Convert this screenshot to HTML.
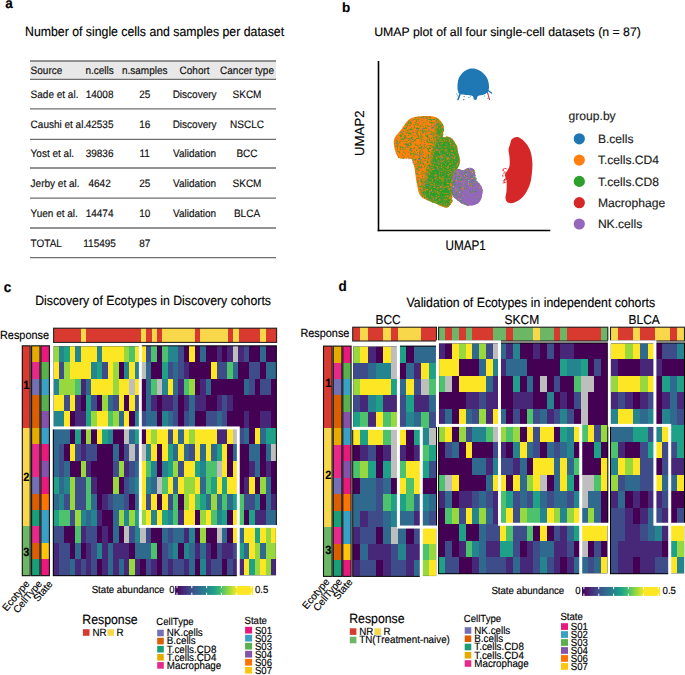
<!DOCTYPE html>
<html><head><meta charset="utf-8"><style>
html,body{margin:0;padding:0;background:#fff;}
body{width:685px;height:675px;overflow:hidden;}
svg{display:block;font-family:"Liberation Sans", sans-serif;text-rendering:geometricPrecision;}
text{stroke:currentColor;stroke-width:0.15px;paint-order:stroke;}
</style></head><body>
<svg width="685" height="675" viewBox="0 0 685 675">
<rect width="685" height="675" fill="#fff"/>
<text x="5.30" y="8.30" font-size="13.5" text-anchor="start" font-weight="bold" fill="#000" transform="matrix(1,0,0,1.08,0,-0.664)" >a</text>
<text x="25.00" y="35.90" font-size="12.3" text-anchor="start" font-weight="normal" fill="#000" transform="matrix(1,0,0,1.08,0,-2.872)" >Number of single cells and samples per dataset</text>
<rect x="30.00" y="61.20" width="246.00" height="17.80" fill="#E8E8E8" />
<line x1="30.0" y1="60.9" x2="276.0" y2="60.9" stroke="#6f6f6f" stroke-width="1.5"/>
<line x1="30.0" y1="79.3" x2="276.0" y2="79.3" stroke="#6f6f6f" stroke-width="1.3"/>
<line x1="30.0" y1="108.9" x2="276.0" y2="108.9" stroke="#6f6f6f" stroke-width="1.3"/>
<line x1="30.0" y1="139.4" x2="276.0" y2="139.4" stroke="#6f6f6f" stroke-width="1.3"/>
<line x1="30.0" y1="168.0" x2="276.0" y2="168.0" stroke="#6f6f6f" stroke-width="1.3"/>
<line x1="30.0" y1="198.2" x2="276.0" y2="198.2" stroke="#6f6f6f" stroke-width="1.3"/>
<line x1="30.0" y1="228.0" x2="276.0" y2="228.0" stroke="#6f6f6f" stroke-width="1.3"/>
<line x1="30.0" y1="257.7" x2="276.0" y2="257.7" stroke="#6f6f6f" stroke-width="1.3"/>
<text x="30.60" y="73.80" font-size="10.0" text-anchor="start" font-weight="normal" fill="#111" transform="matrix(1,0,0,1.08,0,-5.904)" >Source</text>
<text x="99.60" y="73.80" font-size="10.0" text-anchor="middle" font-weight="normal" fill="#111" transform="matrix(1,0,0,1.08,0,-5.904)" >n.cells</text>
<text x="144.70" y="73.80" font-size="10.0" text-anchor="middle" font-weight="normal" fill="#111" transform="matrix(1,0,0,1.08,0,-5.904)" >n.samples</text>
<text x="194.60" y="73.80" font-size="10.0" text-anchor="middle" font-weight="normal" fill="#111" transform="matrix(1,0,0,1.08,0,-5.904)" >Cohort</text>
<text x="247.00" y="73.80" font-size="10.0" text-anchor="middle" font-weight="normal" fill="#111" transform="matrix(1,0,0,1.08,0,-5.904)" >Cancer type</text>
<text x="30.60" y="97.60" font-size="10.0" text-anchor="start" font-weight="normal" fill="#111" transform="matrix(1,0,0,1.08,0,-7.808)" >Sade et al.</text>
<text x="99.60" y="97.60" font-size="10.0" text-anchor="middle" font-weight="normal" fill="#111" transform="matrix(1,0,0,1.08,0,-7.808)" >14008</text>
<text x="144.70" y="97.60" font-size="10.0" text-anchor="middle" font-weight="normal" fill="#111" transform="matrix(1,0,0,1.08,0,-7.808)" >25</text>
<text x="194.60" y="97.60" font-size="10.0" text-anchor="middle" font-weight="normal" fill="#111" transform="matrix(1,0,0,1.08,0,-7.808)" >Discovery</text>
<text x="247.00" y="97.60" font-size="10.0" text-anchor="middle" font-weight="normal" fill="#111" transform="matrix(1,0,0,1.08,0,-7.808)" >SKCM</text>
<text x="30.60" y="127.60" font-size="10.0" text-anchor="start" font-weight="normal" fill="#111" transform="matrix(1,0,0,1.08,0,-10.208)" >Caushi et al.</text>
<text x="99.60" y="127.60" font-size="10.0" text-anchor="middle" font-weight="normal" fill="#111" transform="matrix(1,0,0,1.08,0,-10.208)" >42535</text>
<text x="144.70" y="127.60" font-size="10.0" text-anchor="middle" font-weight="normal" fill="#111" transform="matrix(1,0,0,1.08,0,-10.208)" >16</text>
<text x="194.60" y="127.60" font-size="10.0" text-anchor="middle" font-weight="normal" fill="#111" transform="matrix(1,0,0,1.08,0,-10.208)" >Discovery</text>
<text x="247.00" y="127.60" font-size="10.0" text-anchor="middle" font-weight="normal" fill="#111" transform="matrix(1,0,0,1.08,0,-10.208)" >NSCLC</text>
<text x="30.60" y="156.80" font-size="10.0" text-anchor="start" font-weight="normal" fill="#111" transform="matrix(1,0,0,1.08,0,-12.544)" >Yost et al.</text>
<text x="99.60" y="156.80" font-size="10.0" text-anchor="middle" font-weight="normal" fill="#111" transform="matrix(1,0,0,1.08,0,-12.544)" >39836</text>
<text x="144.70" y="156.80" font-size="10.0" text-anchor="middle" font-weight="normal" fill="#111" transform="matrix(1,0,0,1.08,0,-12.544)" >11</text>
<text x="194.60" y="156.80" font-size="10.0" text-anchor="middle" font-weight="normal" fill="#111" transform="matrix(1,0,0,1.08,0,-12.544)" >Validation</text>
<text x="247.00" y="156.80" font-size="10.0" text-anchor="middle" font-weight="normal" fill="#111" transform="matrix(1,0,0,1.08,0,-12.544)" >BCC</text>
<text x="30.60" y="186.50" font-size="10.0" text-anchor="start" font-weight="normal" fill="#111" transform="matrix(1,0,0,1.08,0,-14.920)" >Jerby et al.</text>
<text x="99.60" y="186.50" font-size="10.0" text-anchor="middle" font-weight="normal" fill="#111" transform="matrix(1,0,0,1.08,0,-14.920)" >4642</text>
<text x="144.70" y="186.50" font-size="10.0" text-anchor="middle" font-weight="normal" fill="#111" transform="matrix(1,0,0,1.08,0,-14.920)" >25</text>
<text x="194.60" y="186.50" font-size="10.0" text-anchor="middle" font-weight="normal" fill="#111" transform="matrix(1,0,0,1.08,0,-14.920)" >Validation</text>
<text x="247.00" y="186.50" font-size="10.0" text-anchor="middle" font-weight="normal" fill="#111" transform="matrix(1,0,0,1.08,0,-14.920)" >SKCM</text>
<text x="30.60" y="217.40" font-size="10.0" text-anchor="start" font-weight="normal" fill="#111" transform="matrix(1,0,0,1.08,0,-17.392)" >Yuen et al.</text>
<text x="99.60" y="217.40" font-size="10.0" text-anchor="middle" font-weight="normal" fill="#111" transform="matrix(1,0,0,1.08,0,-17.392)" >14474</text>
<text x="144.70" y="217.40" font-size="10.0" text-anchor="middle" font-weight="normal" fill="#111" transform="matrix(1,0,0,1.08,0,-17.392)" >10</text>
<text x="194.60" y="217.40" font-size="10.0" text-anchor="middle" font-weight="normal" fill="#111" transform="matrix(1,0,0,1.08,0,-17.392)" >Validation</text>
<text x="247.00" y="217.40" font-size="10.0" text-anchor="middle" font-weight="normal" fill="#111" transform="matrix(1,0,0,1.08,0,-17.392)" >BLCA</text>
<text x="30.60" y="247.20" font-size="10.0" text-anchor="start" font-weight="normal" fill="#111" transform="matrix(1,0,0,1.08,0,-19.776)" >TOTAL</text>
<text x="99.60" y="247.20" font-size="10.0" text-anchor="middle" font-weight="normal" fill="#111" transform="matrix(1,0,0,1.08,0,-19.776)" >115495</text>
<text x="144.70" y="247.20" font-size="10.0" text-anchor="middle" font-weight="normal" fill="#111" transform="matrix(1,0,0,1.08,0,-19.776)" >87</text>
<text x="194.60" y="247.20" font-size="10.0" text-anchor="middle" font-weight="normal" fill="#111" transform="matrix(1,0,0,1.08,0,-19.776)" ></text>
<text x="247.00" y="247.20" font-size="10.0" text-anchor="middle" font-weight="normal" fill="#111" transform="matrix(1,0,0,1.08,0,-19.776)" ></text>
<text x="341.90" y="12.00" font-size="13.5" text-anchor="start" font-weight="bold" fill="#000" >b</text>
<text x="374.20" y="36.00" font-size="12.3" text-anchor="start" font-weight="normal" fill="#000" >UMAP plot of all four single-cell datasets (n = 87)</text>
<line x1="378.5" y1="61" x2="378.5" y2="231.3" stroke="#000" stroke-width="1.6"/>
<line x1="377.7" y1="230.5" x2="550.3" y2="230.5" stroke="#000" stroke-width="1.6"/>
<text x="445.60" y="249.60" font-size="11.7" text-anchor="start" font-weight="normal" fill="#000" transform="matrix(1,0,0,1.17,0,-42.432)" >UMAP1</text>
<text x="363.9" y="133.2" font-size="13.2" text-anchor="middle" transform="rotate(-90 363.9 133.2)">UMAP2</text>
<text x="568.60" y="119.80" font-size="12.1" text-anchor="start" font-weight="normal" fill="#222" >group.by</text>
<circle cx="579.3" cy="138.8" r="5.6" fill="#1F77B4"/>
<text x="597.90" y="143.10" font-size="12.1" text-anchor="start" font-weight="normal" fill="#222" >B.cells</text>
<circle cx="579.3" cy="160.1" r="5.6" fill="#FF7F0E"/>
<text x="597.90" y="164.40" font-size="12.1" text-anchor="start" font-weight="normal" fill="#222" >T.cells.CD4</text>
<circle cx="579.3" cy="181.4" r="5.6" fill="#2CA02C"/>
<text x="597.90" y="185.70" font-size="12.1" text-anchor="start" font-weight="normal" fill="#222" >T.cells.CD8</text>
<circle cx="579.3" cy="202.7" r="5.6" fill="#D62728"/>
<text x="597.90" y="207.00" font-size="12.1" text-anchor="start" font-weight="normal" fill="#222" >Macrophage</text>
<circle cx="579.3" cy="224.0" r="5.6" fill="#9467BD"/>
<text x="597.90" y="228.30" font-size="12.1" text-anchor="start" font-weight="normal" fill="#222" >NK.cells</text>
<path d="M457.5,86.0 C457.6,84.0 457.8,81.1 458.5,79.0 C459.2,76.9 460.6,75.0 462.0,73.5 C463.4,72.0 465.3,70.6 467.0,69.8 C468.7,69.0 470.2,68.5 472.0,68.5 C473.8,68.5 476.1,69.0 478.0,69.8 C479.9,70.6 481.9,72.0 483.5,73.5 C485.1,75.0 486.6,76.9 487.5,79.0 C488.4,81.1 488.9,83.9 489.0,86.0 C489.1,88.1 488.8,90.1 488.0,91.5 C487.2,92.9 485.7,93.8 484.0,94.5 C482.3,95.2 479.2,95.2 478.0,96.0 C476.8,96.8 477.2,98.9 476.5,99.5 C475.8,100.1 474.7,100.1 474.0,99.5 C473.3,98.9 473.8,96.8 472.5,96.0 C471.2,95.2 468.0,95.3 466.0,95.0 C464.0,94.7 461.8,94.7 460.5,94.0 C459.2,93.3 458.5,92.3 458.0,91.0 C457.5,89.7 457.4,88.0 457.5,86.0 Z" fill="#1F77B4" />
<path d="M460.5,93 L458,99.5" stroke="#1F77B4" stroke-width="1.6" stroke-linecap="round"/>
<path d="M486,89 L491.5,93" stroke="#1F77B4" stroke-width="1.4" stroke-linecap="round"/>
<path d="M487.5,92.5 L489.5,99.5" stroke="#D62728" stroke-width="1.0" stroke-linecap="round"/>
<path d="M517.5,137.1 C515.4,136.7 513.0,138.0 511.8,139.2 C510.6,140.4 510.6,142.7 510.0,144.5 C509.4,146.3 508.6,147.9 508.5,150.0 C508.4,152.1 509.3,154.3 509.5,157.0 C509.7,159.7 509.9,163.7 509.5,166.0 C509.1,168.3 507.8,169.5 507.0,171.0 C506.2,172.5 505.1,173.5 505.0,175.0 C504.9,176.5 506.2,177.3 506.5,180.0 C506.8,182.7 506.7,187.9 506.5,191.0 C506.3,194.1 505.2,196.5 505.5,198.5 C505.8,200.5 506.9,202.2 508.5,202.8 C510.1,203.4 512.5,203.4 515.0,202.3 C517.5,201.2 521.0,199.1 523.4,196.3 C525.8,193.5 528.0,189.2 529.4,185.7 C530.8,182.1 531.2,178.9 531.7,175.0 C532.2,171.1 532.6,166.2 532.3,162.0 C532.0,157.8 531.3,153.5 530.0,150.1 C528.7,146.7 526.7,144.0 524.6,141.8 C522.5,139.6 519.6,137.5 517.5,137.1 Z" fill="#D62728" />
<path d="M452.0,172.0 C453.1,170.2 456.2,169.3 458.0,169.0 C459.8,168.7 461.3,170.2 463.0,170.0 C464.7,169.8 466.3,168.2 468.0,168.0 C469.7,167.8 471.8,167.7 473.0,168.5 C474.2,169.3 474.5,171.1 475.0,173.0 C475.5,174.9 475.2,178.1 476.0,180.0 C476.8,181.9 478.9,182.8 480.0,184.5 C481.1,186.2 482.3,187.8 482.5,190.0 C482.7,192.2 482.2,195.7 481.0,198.0 C479.8,200.3 477.7,202.8 475.5,204.0 C473.3,205.2 470.4,205.7 468.0,205.5 C465.6,205.3 463.0,204.1 461.0,203.0 C459.0,201.9 457.4,200.2 456.0,199.0 C454.6,197.8 453.3,197.5 452.5,196.0 C451.7,194.5 451.2,192.7 451.0,190.0 C450.8,187.3 451.3,183.0 451.5,180.0 C451.7,177.0 450.9,173.8 452.0,172.0 Z" fill="#9467BD" />
<path d="M401.3,129.4 C403.5,126.6 405.5,122.6 407.8,120.5 C410.1,118.4 412.0,117.7 415.0,117.0 C418.0,116.3 422.7,116.2 425.7,116.1 C428.7,116.0 430.8,116.0 433.0,116.5 C435.2,117.0 437.0,117.3 438.8,118.9 C440.6,120.5 443.0,123.2 443.7,126.2 C444.4,129.2 442.3,135.1 442.9,136.8 C443.4,138.5 445.5,136.2 447.0,136.5 C448.5,136.8 450.2,136.9 451.8,138.4 C453.4,139.9 455.7,143.4 456.7,145.7 C457.7,148.0 457.4,149.3 458.0,152.0 C458.6,154.7 460.5,158.4 460.0,162.0 C459.5,165.6 456.3,170.4 455.0,173.4 C453.7,176.4 452.5,177.3 452.0,180.0 C451.5,182.7 451.8,186.7 451.8,189.7 C451.8,192.7 452.0,195.8 452.0,198.0 C452.0,200.2 452.7,201.2 451.8,202.8 C450.9,204.4 448.9,207.2 446.9,207.7 C444.9,208.1 442.2,206.3 440.0,205.5 C437.8,204.7 437.1,204.3 433.9,202.8 C430.7,201.3 423.8,199.6 420.9,196.3 C418.0,193.0 417.9,188.1 416.8,183.2 C415.7,178.3 415.2,171.0 414.3,166.9 C413.4,162.8 412.8,160.2 411.1,158.8 C409.4,157.4 406.2,158.8 404.0,158.5 C401.8,158.2 399.7,159.3 398.0,157.2 C396.3,155.1 394.5,149.0 394.0,145.7 C393.5,142.4 393.6,140.3 394.8,137.6 C396.0,134.9 399.1,132.2 401.3,129.4 Z" fill="#FF7F0E" />
<clipPath id="tclip"><path d="M401.3,129.4 C403.5,126.6 405.5,122.6 407.8,120.5 C410.1,118.4 412.0,117.7 415.0,117.0 C418.0,116.3 422.7,116.2 425.7,116.1 C428.7,116.0 430.8,116.0 433.0,116.5 C435.2,117.0 437.0,117.3 438.8,118.9 C440.6,120.5 443.0,123.2 443.7,126.2 C444.4,129.2 442.3,135.1 442.9,136.8 C443.4,138.5 445.5,136.2 447.0,136.5 C448.5,136.8 450.2,136.9 451.8,138.4 C453.4,139.9 455.7,143.4 456.7,145.7 C457.7,148.0 457.4,149.3 458.0,152.0 C458.6,154.7 460.5,158.4 460.0,162.0 C459.5,165.6 456.3,170.4 455.0,173.4 C453.7,176.4 452.5,177.3 452.0,180.0 C451.5,182.7 451.8,186.7 451.8,189.7 C451.8,192.7 452.0,195.8 452.0,198.0 C452.0,200.2 452.7,201.2 451.8,202.8 C450.9,204.4 448.9,207.2 446.9,207.7 C444.9,208.1 442.2,206.3 440.0,205.5 C437.8,204.7 437.1,204.3 433.9,202.8 C430.7,201.3 423.8,199.6 420.9,196.3 C418.0,193.0 417.9,188.1 416.8,183.2 C415.7,178.3 415.2,171.0 414.3,166.9 C413.4,162.8 412.8,160.2 411.1,158.8 C409.4,157.4 406.2,158.8 404.0,158.5 C401.8,158.2 399.7,159.3 398.0,157.2 C396.3,155.1 394.5,149.0 394.0,145.7 C393.5,142.4 393.6,140.3 394.8,137.6 C396.0,134.9 399.1,132.2 401.3,129.4 Z"/></clipPath>
<filter id="gblur" x="-20%" y="-20%" width="140%" height="140%"><feGaussianBlur stdDeviation="2.2"/></filter>
<g clip-path="url(#tclip)">
<path d="M439.0,121.0 C440.1,120.7 443.1,123.6 443.7,126.2 C444.3,128.8 441.5,134.8 442.9,136.8 C444.2,138.8 449.5,136.9 451.8,138.4 C454.1,139.9 455.3,141.8 456.7,145.7 C458.1,149.6 460.3,157.4 460.0,162.0 C459.7,166.6 456.4,168.8 455.0,173.4 C453.6,178.0 452.3,184.8 451.8,189.7 C451.3,194.6 452.6,199.8 451.8,202.8 C451.0,205.8 449.9,207.7 446.9,207.7 C443.9,207.7 437.7,204.4 433.9,202.8 C430.1,201.2 426.0,200.1 424.0,198.0 C422.0,195.9 421.7,193.3 422.0,190.0 C422.3,186.7 424.7,182.2 426.0,178.0 C427.3,173.8 428.8,169.3 430.0,165.0 C431.2,160.7 432.2,156.2 433.0,152.0 C433.8,147.8 434.3,144.0 435.0,140.0 C435.7,136.0 436.3,131.2 437.0,128.0 C437.7,124.8 437.9,121.3 439.0,121.0 Z" fill="#2CA02C" filter="url(#gblur)"/>
</g>
<path d="M482.0,195.2 C482.0,196.1 481.9,197.0 481.7,197.8 C481.4,198.7 481.1,199.5 480.6,200.3 C480.2,201.1 479.6,201.8 479.0,202.4 C478.4,203.0 477.7,203.6 476.9,204.0 C476.1,204.5 475.3,204.8 474.4,205.1 C473.6,205.3 472.7,205.4 471.8,205.4 C470.9,205.4 470.0,205.3 469.2,205.1 C468.3,204.8 467.5,204.5 466.7,204.0 C465.9,203.6 465.2,203.0 464.6,202.4 C464.0,201.8 463.4,201.1 463.0,200.3 C462.5,199.5 462.2,198.7 461.9,197.8 C461.7,197.0 461.6,196.1 461.6,195.2 C461.6,194.3 461.7,193.4 461.9,192.6 C462.2,191.7 462.5,190.9 463.0,190.1 C463.4,189.3 464.0,188.6 464.6,188.0 C465.2,187.4 465.9,186.8 466.7,186.4 C467.5,185.9 468.3,185.6 469.2,185.3 C470.0,185.1 470.9,185.0 471.8,185.0 C472.7,185.0 473.6,185.1 474.4,185.3 C475.3,185.6 476.1,185.9 476.9,186.4 C477.7,186.8 478.4,187.4 479.0,188.0 C479.6,188.6 480.2,189.3 480.6,190.1 C481.1,190.9 481.4,191.7 481.7,192.6 C481.9,193.4 482.0,194.3 482.0,195.2 Z" fill="#9467BD" />
<path d="M479.7 186.5h.9v.9h-.9zM466.7 169.4h.9v.9h-.9zM460.5 177.2h.9v.9h-.9zM457.5 171.3h.9v.9h-.9zM457.0 188.3h.9v.9h-.9zM456.4 178.8h.9v.9h-.9zM473.7 181.9h.9v.9h-.9zM472.1 172.1h.9v.9h-.9zM467.9 182.0h.9v.9h-.9zM467.3 169.9h.9v.9h-.9zM456.2 189.3h.9v.9h-.9zM457.1 173.2h.9v.9h-.9zM473.6 176.5h.9v.9h-.9zM458.3 172.6h.9v.9h-.9zM467.9 184.0h.9v.9h-.9zM475.1 180.2h.9v.9h-.9zM468.5 180.3h.9v.9h-.9zM460.6 198.6h.9v.9h-.9zM463.5 182.7h.9v.9h-.9zM459.2 191.5h.9v.9h-.9zM454.7 172.1h.9v.9h-.9zM470.7 169.8h.9v.9h-.9zM452.7 186.0h.9v.9h-.9zM465.5 174.2h.9v.9h-.9zM462.7 170.5h.9v.9h-.9zM469.2 168.2h.9v.9h-.9zM462.7 186.1h.9v.9h-.9zM473.3 183.2h.9v.9h-.9zM456.5 174.8h.9v.9h-.9zM455.5 188.5h.9v.9h-.9zM455.4 187.8h.9v.9h-.9z" fill="#ffffff"/>
<path d="M415.0 129.0h.9v.9h-.9zM422.1 144.2h.9v.9h-.9zM423.8 142.9h.9v.9h-.9zM401.0 153.9h.9v.9h-.9zM433.4 168.9h.9v.9h-.9zM450.1 202.9h.9v.9h-.9zM438.2 120.6h.9v.9h-.9zM448.9 141.5h.9v.9h-.9zM423.5 166.1h.9v.9h-.9zM448.7 195.4h.9v.9h-.9zM421.2 148.4h.9v.9h-.9zM418.1 167.7h.9v.9h-.9zM439.0 120.0h.9v.9h-.9zM417.7 117.4h.9v.9h-.9zM440.3 139.3h.9v.9h-.9zM429.2 187.5h.9v.9h-.9zM412.0 139.1h.9v.9h-.9zM406.4 134.0h.9v.9h-.9zM425.6 175.7h.9v.9h-.9zM444.0 159.5h.9v.9h-.9zM442.3 130.8h.9v.9h-.9zM422.5 196.1h.9v.9h-.9zM454.9 147.9h.9v.9h-.9zM432.7 199.1h.9v.9h-.9zM415.2 163.2h.9v.9h-.9zM444.7 199.9h.9v.9h-.9zM446.3 198.4h.9v.9h-.9zM441.7 176.4h.9v.9h-.9zM420.1 160.3h.9v.9h-.9zM406.3 144.6h.9v.9h-.9zM435.4 162.6h.9v.9h-.9zM446.0 140.2h.9v.9h-.9zM448.7 139.1h.9v.9h-.9zM439.8 154.6h.9v.9h-.9zM451.7 157.2h.9v.9h-.9zM414.2 143.4h.9v.9h-.9zM442.8 166.2h.9v.9h-.9zM422.4 161.0h.9v.9h-.9zM419.7 162.1h.9v.9h-.9zM443.4 138.8h.9v.9h-.9zM452.2 177.4h.9v.9h-.9zM430.2 137.7h.9v.9h-.9zM419.5 145.3h.9v.9h-.9zM436.7 119.1h.9v.9h-.9zM428.6 161.9h.9v.9h-.9zM440.1 136.4h.9v.9h-.9zM435.6 178.3h.9v.9h-.9zM437.8 121.1h.9v.9h-.9zM459.3 160.9h.9v.9h-.9zM425.6 178.6h.9v.9h-.9zM435.0 174.8h.9v.9h-.9zM403.0 138.6h.9v.9h-.9zM440.1 177.8h.9v.9h-.9zM444.0 193.0h.9v.9h-.9zM418.3 151.5h.9v.9h-.9zM405.9 149.7h.9v.9h-.9zM430.3 181.9h.9v.9h-.9zM436.8 141.6h.9v.9h-.9zM443.3 205.8h.9v.9h-.9zM426.8 135.5h.9v.9h-.9zM435.8 195.2h.9v.9h-.9zM450.7 196.2h.9v.9h-.9zM446.2 136.6h.9v.9h-.9zM436.9 143.3h.9v.9h-.9zM440.5 125.4h.9v.9h-.9zM436.8 197.2h.9v.9h-.9zM409.0 138.0h.9v.9h-.9zM440.9 143.6h.9v.9h-.9zM426.9 177.7h.9v.9h-.9zM443.3 162.0h.9v.9h-.9zM421.4 176.9h.9v.9h-.9zM415.4 132.3h.9v.9h-.9zM438.2 150.2h.9v.9h-.9zM412.0 147.7h.9v.9h-.9zM407.1 148.2h.9v.9h-.9zM448.9 155.2h.9v.9h-.9zM425.2 149.7h.9v.9h-.9zM406.1 148.9h.9v.9h-.9zM448.2 186.3h.9v.9h-.9zM443.8 198.6h.9v.9h-.9zM435.0 139.4h.9v.9h-.9zM434.3 145.5h.9v.9h-.9zM398.4 133.3h.9v.9h-.9zM430.6 145.3h.9v.9h-.9zM426.9 181.0h.9v.9h-.9zM408.9 153.8h.9v.9h-.9zM453.1 168.8h.9v.9h-.9zM427.5 136.5h.9v.9h-.9zM432.7 201.5h.9v.9h-.9zM451.9 156.8h.9v.9h-.9zM445.9 203.0h.9v.9h-.9zM433.5 172.7h.9v.9h-.9zM437.3 133.9h.9v.9h-.9zM447.1 166.0h.9v.9h-.9zM399.9 151.8h.9v.9h-.9zM440.3 153.1h.9v.9h-.9zM417.3 153.7h.9v.9h-.9zM406.4 126.8h.9v.9h-.9zM459.3 159.9h.9v.9h-.9zM435.2 191.7h.9v.9h-.9zM420.5 193.7h.9v.9h-.9zM431.2 185.4h.9v.9h-.9zM413.8 154.1h.9v.9h-.9zM422.8 117.2h.9v.9h-.9zM426.3 136.9h.9v.9h-.9zM446.0 157.6h.9v.9h-.9zM427.7 118.8h.9v.9h-.9zM445.9 162.6h.9v.9h-.9zM427.3 150.1h.9v.9h-.9zM439.2 198.3h.9v.9h-.9zM429.1 174.2h.9v.9h-.9zM423.1 131.4h.9v.9h-.9zM438.1 144.1h.9v.9h-.9zM433.1 134.0h.9v.9h-.9zM425.3 127.5h.9v.9h-.9zM436.9 167.3h.9v.9h-.9zM402.7 133.6h.9v.9h-.9zM446.2 181.5h.9v.9h-.9zM450.4 184.3h.9v.9h-.9zM443.4 157.1h.9v.9h-.9zM410.7 137.0h.9v.9h-.9zM415.3 137.2h.9v.9h-.9zM422.7 182.4h.9v.9h-.9zM413.9 134.7h.9v.9h-.9zM448.7 197.9h.9v.9h-.9zM449.1 173.7h.9v.9h-.9zM410.5 141.3h.9v.9h-.9zM418.0 144.8h.9v.9h-.9zM440.9 165.0h.9v.9h-.9zM444.8 205.9h.9v.9h-.9zM426.4 160.7h.9v.9h-.9zM412.3 135.0h.9v.9h-.9zM426.9 125.2h.9v.9h-.9zM407.0 139.5h.9v.9h-.9zM427.1 150.3h.9v.9h-.9zM404.5 155.8h.9v.9h-.9zM406.0 143.0h.9v.9h-.9zM447.1 183.2h.9v.9h-.9zM436.0 158.1h.9v.9h-.9zM443.9 154.2h.9v.9h-.9zM436.6 157.2h.9v.9h-.9zM437.5 187.4h.9v.9h-.9zM457.0 163.3h.9v.9h-.9zM428.5 153.2h.9v.9h-.9zM411.0 135.9h.9v.9h-.9zM456.9 164.0h.9v.9h-.9zM447.5 151.5h.9v.9h-.9zM448.1 174.0h.9v.9h-.9zM431.2 136.0h.9v.9h-.9zM417.0 174.4h.9v.9h-.9zM448.5 158.5h.9v.9h-.9zM430.3 126.6h.9v.9h-.9zM442.1 141.2h.9v.9h-.9zM436.3 176.3h.9v.9h-.9zM437.6 138.3h.9v.9h-.9zM402.7 136.7h.9v.9h-.9zM416.6 129.2h.9v.9h-.9zM422.8 197.1h.9v.9h-.9zM426.9 165.2h.9v.9h-.9zM424.8 167.3h.9v.9h-.9zM450.2 149.9h.9v.9h-.9zM436.3 174.2h.9v.9h-.9zM427.7 160.1h.9v.9h-.9zM422.6 154.3h.9v.9h-.9zM437.5 188.7h.9v.9h-.9zM414.6 142.8h.9v.9h-.9zM436.2 187.9h.9v.9h-.9zM424.1 185.9h.9v.9h-.9zM446.5 167.3h.9v.9h-.9zM422.3 174.7h.9v.9h-.9zM436.8 134.7h.9v.9h-.9zM435.7 181.0h.9v.9h-.9zM437.2 191.0h.9v.9h-.9zM432.1 155.8h.9v.9h-.9zM417.7 175.0h.9v.9h-.9zM421.4 150.9h.9v.9h-.9zM410.9 154.3h.9v.9h-.9zM448.5 197.5h.9v.9h-.9zM431.9 140.5h.9v.9h-.9zM416.6 122.9h.9v.9h-.9zM444.0 201.7h.9v.9h-.9zM434.3 178.0h.9v.9h-.9zM407.0 138.7h.9v.9h-.9zM446.8 157.8h.9v.9h-.9zM447.8 186.8h.9v.9h-.9zM428.5 159.3h.9v.9h-.9zM418.4 124.9h.9v.9h-.9zM433.7 152.0h.9v.9h-.9zM438.5 151.6h.9v.9h-.9zM423.4 124.0h.9v.9h-.9zM450.3 173.4h.9v.9h-.9zM441.5 166.5h.9v.9h-.9zM452.2 139.8h.9v.9h-.9zM403.6 140.2h.9v.9h-.9zM438.4 134.6h.9v.9h-.9zM399.6 141.9h.9v.9h-.9zM449.6 164.0h.9v.9h-.9zM402.4 131.8h.9v.9h-.9zM441.4 133.3h.9v.9h-.9zM451.8 160.9h.9v.9h-.9zM411.1 132.3h.9v.9h-.9zM448.5 195.5h.9v.9h-.9zM420.6 127.7h.9v.9h-.9zM432.0 184.4h.9v.9h-.9zM449.2 202.2h.9v.9h-.9zM445.8 146.5h.9v.9h-.9zM415.8 155.5h.9v.9h-.9zM412.6 143.4h.9v.9h-.9zM458.0 162.8h.9v.9h-.9zM424.3 166.0h.9v.9h-.9zM426.4 141.5h.9v.9h-.9zM452.2 155.9h.9v.9h-.9zM419.4 155.9h.9v.9h-.9zM400.4 135.9h.9v.9h-.9zM443.2 129.4h.9v.9h-.9zM417.0 177.8h.9v.9h-.9zM445.1 169.5h.9v.9h-.9zM421.4 187.9h.9v.9h-.9zM434.3 150.3h.9v.9h-.9zM450.8 161.5h.9v.9h-.9zM432.1 169.1h.9v.9h-.9zM450.0 204.2h.9v.9h-.9zM428.2 163.1h.9v.9h-.9zM419.5 148.3h.9v.9h-.9zM439.0 163.8h.9v.9h-.9zM418.5 152.3h.9v.9h-.9zM426.1 155.9h.9v.9h-.9zM429.0 190.9h.9v.9h-.9zM449.2 162.7h.9v.9h-.9zM453.4 154.1h.9v.9h-.9zM405.8 132.0h.9v.9h-.9zM430.6 139.7h.9v.9h-.9zM419.2 120.1h.9v.9h-.9zM409.5 151.3h.9v.9h-.9zM408.1 143.8h.9v.9h-.9zM425.9 188.7h.9v.9h-.9zM438.2 146.8h.9v.9h-.9zM441.0 123.6h.9v.9h-.9zM403.8 147.8h.9v.9h-.9zM434.4 134.8h.9v.9h-.9zM429.9 140.1h.9v.9h-.9zM419.2 176.1h.9v.9h-.9zM412.2 152.5h.9v.9h-.9zM439.2 176.7h.9v.9h-.9zM421.1 176.3h.9v.9h-.9zM442.9 181.3h.9v.9h-.9zM395.7 143.9h.9v.9h-.9zM431.8 181.6h.9v.9h-.9zM445.8 141.6h.9v.9h-.9zM451.1 171.5h.9v.9h-.9zM409.6 125.3h.9v.9h-.9zM449.4 141.1h.9v.9h-.9zM435.7 157.1h.9v.9h-.9zM440.8 189.9h.9v.9h-.9zM436.4 165.6h.9v.9h-.9zM441.1 177.3h.9v.9h-.9zM416.9 142.8h.9v.9h-.9zM430.3 185.7h.9v.9h-.9zM438.3 170.7h.9v.9h-.9zM445.1 192.3h.9v.9h-.9zM440.7 156.7h.9v.9h-.9zM437.4 138.4h.9v.9h-.9zM445.7 193.1h.9v.9h-.9zM450.5 201.2h.9v.9h-.9zM415.2 132.2h.9v.9h-.9zM414.8 149.3h.9v.9h-.9zM404.1 156.2h.9v.9h-.9zM422.9 132.7h.9v.9h-.9zM451.2 188.2h.9v.9h-.9zM422.8 176.9h.9v.9h-.9zM413.1 156.2h.9v.9h-.9zM415.0 157.8h.9v.9h-.9zM435.2 190.4h.9v.9h-.9zM439.0 171.7h.9v.9h-.9zM439.2 156.6h.9v.9h-.9zM421.3 164.3h.9v.9h-.9zM453.5 166.0h.9v.9h-.9zM451.6 138.6h.9v.9h-.9zM430.7 136.1h.9v.9h-.9zM398.0 155.9h.9v.9h-.9zM419.7 130.9h.9v.9h-.9zM431.3 187.1h.9v.9h-.9zM439.3 191.8h.9v.9h-.9zM418.4 183.6h.9v.9h-.9zM450.0 169.1h.9v.9h-.9zM430.7 142.0h.9v.9h-.9zM418.9 128.4h.9v.9h-.9zM448.6 178.2h.9v.9h-.9zM425.4 129.7h.9v.9h-.9zM417.5 158.5h.9v.9h-.9zM438.6 140.4h.9v.9h-.9zM427.0 139.4h.9v.9h-.9zM417.7 141.2h.9v.9h-.9zM452.2 157.1h.9v.9h-.9zM425.9 198.6h.9v.9h-.9zM404.2 139.9h.9v.9h-.9zM452.5 146.7h.9v.9h-.9zM407.4 145.4h.9v.9h-.9zM415.7 161.0h.9v.9h-.9zM442.2 145.6h.9v.9h-.9zM403.6 128.3h.9v.9h-.9zM421.8 165.1h.9v.9h-.9zM444.9 187.2h.9v.9h-.9zM445.5 205.9h.9v.9h-.9zM437.6 187.0h.9v.9h-.9zM430.8 131.9h.9v.9h-.9zM443.2 200.7h.9v.9h-.9zM447.4 157.8h.9v.9h-.9zM444.6 174.8h.9v.9h-.9zM431.7 129.6h.9v.9h-.9zM449.0 141.3h.9v.9h-.9zM426.0 197.9h.9v.9h-.9zM439.4 170.6h.9v.9h-.9zM432.4 197.1h.9v.9h-.9zM439.4 123.4h.9v.9h-.9zM446.9 179.1h.9v.9h-.9zM416.8 135.0h.9v.9h-.9zM427.6 153.0h.9v.9h-.9zM434.3 201.1h.9v.9h-.9zM434.5 150.1h.9v.9h-.9zM406.5 125.8h.9v.9h-.9zM446.3 199.5h.9v.9h-.9zM430.3 144.4h.9v.9h-.9zM435.8 184.1h.9v.9h-.9zM434.7 178.0h.9v.9h-.9zM435.8 165.5h.9v.9h-.9zM434.7 139.6h.9v.9h-.9zM428.9 190.6h.9v.9h-.9zM424.3 174.6h.9v.9h-.9zM395.9 150.5h.9v.9h-.9zM440.3 156.8h.9v.9h-.9zM447.3 185.6h.9v.9h-.9zM441.8 140.5h.9v.9h-.9zM421.8 188.7h.9v.9h-.9zM420.7 175.3h.9v.9h-.9zM417.0 150.8h.9v.9h-.9zM424.5 158.0h.9v.9h-.9zM421.2 159.0h.9v.9h-.9zM420.3 118.8h.9v.9h-.9zM431.4 120.1h.9v.9h-.9zM441.4 159.9h.9v.9h-.9zM451.3 138.9h.9v.9h-.9zM432.7 149.0h.9v.9h-.9zM429.2 153.0h.9v.9h-.9zM415.0 140.4h.9v.9h-.9zM447.6 170.1h.9v.9h-.9zM436.5 119.6h.9v.9h-.9zM431.2 189.5h.9v.9h-.9zM438.8 177.8h.9v.9h-.9zM446.3 203.4h.9v.9h-.9zM439.6 129.4h.9v.9h-.9zM449.9 142.3h.9v.9h-.9zM432.6 144.6h.9v.9h-.9zM423.6 138.0h.9v.9h-.9zM413.3 121.5h.9v.9h-.9zM446.6 170.4h.9v.9h-.9zM417.0 149.8h.9v.9h-.9zM404.1 130.8h.9v.9h-.9zM452.4 159.7h.9v.9h-.9zM427.1 197.8h.9v.9h-.9zM431.8 179.1h.9v.9h-.9zM432.3 136.8h.9v.9h-.9zM446.3 181.1h.9v.9h-.9zM439.2 129.1h.9v.9h-.9zM425.6 161.3h.9v.9h-.9zM450.5 188.2h.9v.9h-.9zM441.8 147.5h.9v.9h-.9zM446.3 196.0h.9v.9h-.9zM449.2 152.8h.9v.9h-.9zM437.4 192.8h.9v.9h-.9zM435.1 142.2h.9v.9h-.9zM423.1 176.5h.9v.9h-.9zM405.5 140.2h.9v.9h-.9zM417.6 135.9h.9v.9h-.9zM434.5 198.1h.9v.9h-.9zM417.6 176.5h.9v.9h-.9zM418.6 163.6h.9v.9h-.9zM454.7 161.3h.9v.9h-.9zM423.4 184.8h.9v.9h-.9zM442.6 184.7h.9v.9h-.9zM415.1 127.7h.9v.9h-.9zM433.0 168.6h.9v.9h-.9zM419.7 184.5h.9v.9h-.9zM441.3 179.2h.9v.9h-.9zM449.2 188.8h.9v.9h-.9zM443.2 130.9h.9v.9h-.9zM405.7 143.8h.9v.9h-.9zM411.1 134.0h.9v.9h-.9zM445.9 144.3h.9v.9h-.9zM438.6 185.0h.9v.9h-.9zM429.0 141.8h.9v.9h-.9zM431.5 147.9h.9v.9h-.9zM440.1 187.0h.9v.9h-.9zM416.2 151.5h.9v.9h-.9zM416.8 132.3h.9v.9h-.9zM429.2 163.5h.9v.9h-.9zM432.3 152.5h.9v.9h-.9zM446.6 193.0h.9v.9h-.9zM411.7 121.3h.9v.9h-.9zM449.0 140.4h.9v.9h-.9zM408.2 123.7h.9v.9h-.9zM450.0 145.2h.9v.9h-.9zM430.7 190.1h.9v.9h-.9zM416.1 145.8h.9v.9h-.9zM448.0 164.9h.9v.9h-.9zM420.2 162.6h.9v.9h-.9zM439.4 180.9h.9v.9h-.9zM412.2 133.1h.9v.9h-.9zM440.9 133.3h.9v.9h-.9zM442.1 181.9h.9v.9h-.9zM447.7 157.3h.9v.9h-.9zM425.4 191.4h.9v.9h-.9zM448.2 193.2h.9v.9h-.9zM449.5 188.1h.9v.9h-.9zM435.5 197.3h.9v.9h-.9zM436.5 134.1h.9v.9h-.9zM454.6 150.6h.9v.9h-.9zM424.0 169.5h.9v.9h-.9zM441.1 155.9h.9v.9h-.9zM425.0 152.2h.9v.9h-.9zM440.1 158.9h.9v.9h-.9zM454.8 170.7h.9v.9h-.9zM408.6 151.5h.9v.9h-.9zM448.2 157.6h.9v.9h-.9zM437.2 134.3h.9v.9h-.9zM424.0 152.9h.9v.9h-.9zM439.3 194.0h.9v.9h-.9zM444.2 140.5h.9v.9h-.9zM429.2 124.8h.9v.9h-.9zM418.0 165.0h.9v.9h-.9zM439.9 205.0h.9v.9h-.9zM407.4 141.7h.9v.9h-.9zM405.0 155.7h.9v.9h-.9zM440.0 134.5h.9v.9h-.9zM440.3 143.3h.9v.9h-.9zM447.6 177.4h.9v.9h-.9zM437.4 168.0h.9v.9h-.9zM400.6 138.1h.9v.9h-.9zM412.4 150.4h.9v.9h-.9zM419.1 149.0h.9v.9h-.9zM425.1 195.9h.9v.9h-.9zM438.1 192.8h.9v.9h-.9zM400.9 157.8h.9v.9h-.9zM417.6 158.6h.9v.9h-.9zM398.6 139.7h.9v.9h-.9zM424.3 183.0h.9v.9h-.9zM438.1 148.6h.9v.9h-.9zM437.4 162.9h.9v.9h-.9zM434.1 175.6h.9v.9h-.9zM405.4 136.1h.9v.9h-.9zM425.4 162.6h.9v.9h-.9zM435.2 135.1h.9v.9h-.9zM424.0 136.0h.9v.9h-.9zM418.4 130.1h.9v.9h-.9zM410.5 157.2h.9v.9h-.9zM441.4 127.8h.9v.9h-.9zM432.5 197.4h.9v.9h-.9zM408.9 130.6h.9v.9h-.9zM423.8 153.0h.9v.9h-.9zM420.7 119.8h.9v.9h-.9zM412.7 141.9h.9v.9h-.9zM454.0 168.0h.9v.9h-.9zM440.1 138.8h.9v.9h-.9zM417.9 163.7h.9v.9h-.9zM425.3 178.0h.9v.9h-.9zM432.2 148.1h.9v.9h-.9zM403.9 149.4h.9v.9h-.9zM413.5 138.8h.9v.9h-.9zM429.4 182.5h.9v.9h-.9zM435.4 179.8h.9v.9h-.9zM446.8 182.8h.9v.9h-.9zM426.4 132.5h.9v.9h-.9zM432.9 132.8h.9v.9h-.9zM447.7 188.6h.9v.9h-.9zM432.6 125.0h.9v.9h-.9zM429.3 182.4h.9v.9h-.9zM442.3 135.6h.9v.9h-.9zM414.1 144.3h.9v.9h-.9zM427.9 129.1h.9v.9h-.9zM452.7 157.9h.9v.9h-.9zM428.4 148.7h.9v.9h-.9zM429.0 187.1h.9v.9h-.9zM441.4 186.6h.9v.9h-.9zM400.1 157.4h.9v.9h-.9zM435.1 142.9h.9v.9h-.9zM444.0 186.7h.9v.9h-.9zM429.2 192.5h.9v.9h-.9zM401.0 139.1h.9v.9h-.9zM441.7 183.3h.9v.9h-.9zM414.8 131.1h.9v.9h-.9zM448.7 139.7h.9v.9h-.9zM400.5 136.1h.9v.9h-.9zM420.9 174.1h.9v.9h-.9zM450.7 196.7h.9v.9h-.9zM439.0 175.7h.9v.9h-.9zM452.2 165.9h.9v.9h-.9zM446.2 195.9h.9v.9h-.9zM415.2 117.4h.9v.9h-.9zM424.4 152.4h.9v.9h-.9zM436.0 198.2h.9v.9h-.9zM432.0 124.8h.9v.9h-.9zM449.4 163.2h.9v.9h-.9zM438.3 134.3h.9v.9h-.9zM448.8 188.4h.9v.9h-.9zM422.5 150.4h.9v.9h-.9zM413.5 145.6h.9v.9h-.9zM427.0 177.2h.9v.9h-.9zM431.2 189.0h.9v.9h-.9zM431.1 128.4h.9v.9h-.9zM441.7 184.6h.9v.9h-.9zM441.4 181.1h.9v.9h-.9zM450.0 201.0h.9v.9h-.9zM457.2 156.2h.9v.9h-.9zM439.1 128.2h.9v.9h-.9zM425.1 133.4h.9v.9h-.9zM440.7 204.9h.9v.9h-.9zM440.0 151.4h.9v.9h-.9zM451.8 168.2h.9v.9h-.9zM450.8 182.7h.9v.9h-.9zM435.8 200.6h.9v.9h-.9zM422.4 142.7h.9v.9h-.9zM402.9 149.0h.9v.9h-.9zM416.8 164.5h.9v.9h-.9zM436.5 159.4h.9v.9h-.9zM419.3 171.7h.9v.9h-.9zM422.5 132.9h.9v.9h-.9zM451.4 150.9h.9v.9h-.9zM441.2 173.6h.9v.9h-.9zM404.0 131.8h.9v.9h-.9zM423.7 197.0h.9v.9h-.9zM415.9 151.8h.9v.9h-.9zM421.2 177.2h.9v.9h-.9zM434.8 144.4h.9v.9h-.9zM426.2 140.6h.9v.9h-.9zM411.9 149.5h.9v.9h-.9zM422.0 168.2h.9v.9h-.9zM425.1 126.0h.9v.9h-.9zM429.8 183.9h.9v.9h-.9zM436.3 150.0h.9v.9h-.9zM425.5 123.1h.9v.9h-.9zM424.6 158.6h.9v.9h-.9zM405.6 127.7h.9v.9h-.9zM415.9 130.2h.9v.9h-.9zM425.2 188.1h.9v.9h-.9zM451.1 156.2h.9v.9h-.9zM439.4 184.3h.9v.9h-.9zM439.5 166.5h.9v.9h-.9zM401.4 141.4h.9v.9h-.9zM433.1 191.7h.9v.9h-.9zM406.8 131.7h.9v.9h-.9zM428.1 145.1h.9v.9h-.9zM430.5 148.4h.9v.9h-.9zM427.2 168.4h.9v.9h-.9zM419.4 146.2h.9v.9h-.9zM455.8 171.2h.9v.9h-.9zM415.6 123.3h.9v.9h-.9zM415.8 124.5h.9v.9h-.9zM441.7 162.5h.9v.9h-.9zM415.8 139.8h.9v.9h-.9zM408.1 152.3h.9v.9h-.9zM448.4 159.0h.9v.9h-.9zM425.9 126.8h.9v.9h-.9zM414.9 120.0h.9v.9h-.9zM441.7 125.7h.9v.9h-.9zM395.9 147.9h.9v.9h-.9zM427.3 153.9h.9v.9h-.9zM420.3 180.9h.9v.9h-.9zM425.8 183.0h.9v.9h-.9zM417.4 185.2h.9v.9h-.9zM407.1 136.7h.9v.9h-.9zM440.2 140.4h.9v.9h-.9zM417.5 118.0h.9v.9h-.9zM415.9 125.1h.9v.9h-.9zM443.1 160.4h.9v.9h-.9zM452.0 155.9h.9v.9h-.9zM453.6 154.7h.9v.9h-.9zM445.5 149.8h.9v.9h-.9zM454.4 155.9h.9v.9h-.9zM439.2 173.1h.9v.9h-.9zM451.2 199.6h.9v.9h-.9zM432.8 168.4h.9v.9h-.9zM395.5 145.3h.9v.9h-.9zM433.9 162.4h.9v.9h-.9zM418.7 118.5h.9v.9h-.9zM430.3 151.0h.9v.9h-.9zM400.1 139.2h.9v.9h-.9zM426.6 149.6h.9v.9h-.9zM417.3 146.2h.9v.9h-.9zM450.5 146.5h.9v.9h-.9zM420.3 130.1h.9v.9h-.9zM438.2 156.5h.9v.9h-.9zM424.1 192.4h.9v.9h-.9zM439.4 177.8h.9v.9h-.9zM436.9 179.5h.9v.9h-.9zM436.8 127.7h.9v.9h-.9zM417.8 156.7h.9v.9h-.9zM448.9 175.7h.9v.9h-.9zM434.6 118.1h.9v.9h-.9zM428.4 116.5h.9v.9h-.9zM429.2 195.2h.9v.9h-.9zM454.1 146.5h.9v.9h-.9zM412.9 140.9h.9v.9h-.9zM448.1 183.1h.9v.9h-.9zM424.6 188.1h.9v.9h-.9zM442.8 176.2h.9v.9h-.9zM428.7 129.3h.9v.9h-.9zM425.1 162.1h.9v.9h-.9zM399.4 140.7h.9v.9h-.9zM425.8 150.0h.9v.9h-.9zM422.7 177.6h.9v.9h-.9zM451.9 151.1h.9v.9h-.9zM431.8 165.0h.9v.9h-.9zM437.1 149.6h.9v.9h-.9zM450.0 195.9h.9v.9h-.9zM442.1 125.6h.9v.9h-.9zM457.5 162.6h.9v.9h-.9zM422.7 186.5h.9v.9h-.9zM431.1 157.9h.9v.9h-.9zM441.5 182.7h.9v.9h-.9zM442.2 149.3h.9v.9h-.9zM436.9 192.4h.9v.9h-.9zM444.4 140.9h.9v.9h-.9zM433.0 182.1h.9v.9h-.9zM413.3 140.6h.9v.9h-.9zM427.6 161.9h.9v.9h-.9zM418.4 153.3h.9v.9h-.9zM448.4 171.9h.9v.9h-.9zM448.1 166.9h.9v.9h-.9zM406.2 158.0h.9v.9h-.9zM437.2 178.9h.9v.9h-.9zM449.7 196.8h.9v.9h-.9zM446.5 159.2h.9v.9h-.9zM404.6 129.5h.9v.9h-.9zM451.6 149.9h.9v.9h-.9zM432.6 161.9h.9v.9h-.9zM430.4 190.6h.9v.9h-.9zM431.5 145.3h.9v.9h-.9zM423.3 157.9h.9v.9h-.9zM414.6 125.2h.9v.9h-.9zM446.9 173.7h.9v.9h-.9zM425.7 153.3h.9v.9h-.9zM421.1 194.0h.9v.9h-.9zM426.4 151.7h.9v.9h-.9zM427.4 145.0h.9v.9h-.9zM421.8 192.8h.9v.9h-.9zM432.8 169.0h.9v.9h-.9zM419.1 139.3h.9v.9h-.9zM447.4 170.6h.9v.9h-.9zM452.7 176.8h.9v.9h-.9zM444.8 172.3h.9v.9h-.9zM424.3 166.4h.9v.9h-.9zM440.9 203.1h.9v.9h-.9zM429.0 171.3h.9v.9h-.9zM446.0 203.5h.9v.9h-.9zM420.0 165.9h.9v.9h-.9zM402.1 143.2h.9v.9h-.9zM432.5 126.3h.9v.9h-.9zM427.5 128.3h.9v.9h-.9zM449.7 200.7h.9v.9h-.9zM429.9 127.6h.9v.9h-.9zM440.4 177.6h.9v.9h-.9zM445.9 186.3h.9v.9h-.9zM399.7 141.2h.9v.9h-.9zM424.7 190.8h.9v.9h-.9zM400.2 147.5h.9v.9h-.9zM438.1 196.2h.9v.9h-.9zM440.6 126.8h.9v.9h-.9zM412.9 141.2h.9v.9h-.9zM451.8 174.4h.9v.9h-.9zM451.7 138.8h.9v.9h-.9zM425.7 150.6h.9v.9h-.9zM453.7 150.0h.9v.9h-.9zM436.5 196.1h.9v.9h-.9zM450.7 191.2h.9v.9h-.9zM444.2 158.6h.9v.9h-.9zM418.5 153.6h.9v.9h-.9zM436.1 149.0h.9v.9h-.9zM433.2 165.5h.9v.9h-.9zM403.8 147.2h.9v.9h-.9zM438.4 179.1h.9v.9h-.9zM413.5 121.2h.9v.9h-.9zM437.5 135.9h.9v.9h-.9zM426.1 118.2h.9v.9h-.9zM435.5 141.0h.9v.9h-.9zM433.5 175.8h.9v.9h-.9zM431.2 132.7h.9v.9h-.9zM423.2 195.8h.9v.9h-.9zM441.9 143.0h.9v.9h-.9zM430.4 185.3h.9v.9h-.9zM423.1 183.1h.9v.9h-.9zM433.7 182.8h.9v.9h-.9zM432.3 131.1h.9v.9h-.9zM432.3 156.5h.9v.9h-.9zM446.8 167.2h.9v.9h-.9zM415.4 127.5h.9v.9h-.9zM434.4 124.2h.9v.9h-.9zM449.7 147.6h.9v.9h-.9zM416.0 152.0h.9v.9h-.9zM425.1 190.5h.9v.9h-.9zM442.5 171.4h.9v.9h-.9zM448.4 140.6h.9v.9h-.9zM407.3 128.6h.9v.9h-.9zM438.2 169.2h.9v.9h-.9zM450.2 183.0h.9v.9h-.9zM440.3 160.8h.9v.9h-.9zM452.6 154.1h.9v.9h-.9zM409.3 157.8h.9v.9h-.9zM421.4 118.2h.9v.9h-.9zM442.6 185.5h.9v.9h-.9zM433.5 187.1h.9v.9h-.9zM447.7 205.9h.9v.9h-.9zM407.3 124.9h.9v.9h-.9zM428.1 167.3h.9v.9h-.9zM419.9 156.7h.9v.9h-.9zM447.2 158.7h.9v.9h-.9zM451.7 194.8h.9v.9h-.9zM441.6 157.7h.9v.9h-.9zM421.6 138.2h.9v.9h-.9zM442.7 126.3h.9v.9h-.9zM422.9 190.6h.9v.9h-.9zM435.4 174.3h.9v.9h-.9zM415.6 151.7h.9v.9h-.9zM445.6 199.0h.9v.9h-.9zM439.4 150.5h.9v.9h-.9zM441.3 155.3h.9v.9h-.9zM410.7 134.7h.9v.9h-.9zM453.2 175.8h.9v.9h-.9zM448.9 169.5h.9v.9h-.9zM444.2 146.7h.9v.9h-.9zM439.4 141.2h.9v.9h-.9zM437.7 162.5h.9v.9h-.9zM425.4 166.5h.9v.9h-.9zM453.8 158.6h.9v.9h-.9zM414.6 128.3h.9v.9h-.9zM447.0 153.0h.9v.9h-.9zM437.8 144.7h.9v.9h-.9zM419.2 166.3h.9v.9h-.9zM452.5 144.9h.9v.9h-.9zM429.6 124.4h.9v.9h-.9zM414.6 128.5h.9v.9h-.9zM440.1 149.6h.9v.9h-.9zM424.3 190.5h.9v.9h-.9zM414.8 162.7h.9v.9h-.9zM444.7 166.6h.9v.9h-.9zM447.5 143.4h.9v.9h-.9zM429.1 186.6h.9v.9h-.9zM426.1 189.2h.9v.9h-.9zM423.6 167.3h.9v.9h-.9zM403.1 146.4h.9v.9h-.9zM450.0 167.0h.9v.9h-.9zM449.7 204.2h.9v.9h-.9zM431.2 170.6h.9v.9h-.9zM434.9 132.3h.9v.9h-.9zM448.5 160.4h.9v.9h-.9zM431.1 148.5h.9v.9h-.9zM410.3 149.2h.9v.9h-.9zM437.4 123.8h.9v.9h-.9zM456.0 164.5h.9v.9h-.9zM420.8 167.0h.9v.9h-.9zM432.1 128.6h.9v.9h-.9zM433.2 154.9h.9v.9h-.9zM402.0 138.8h.9v.9h-.9zM451.6 197.0h.9v.9h-.9zM433.7 148.9h.9v.9h-.9zM422.3 137.1h.9v.9h-.9zM438.5 149.4h.9v.9h-.9zM434.6 185.5h.9v.9h-.9zM425.1 178.8h.9v.9h-.9zM435.9 183.7h.9v.9h-.9zM422.7 175.7h.9v.9h-.9zM406.8 147.1h.9v.9h-.9zM436.0 133.8h.9v.9h-.9zM434.4 190.2h.9v.9h-.9zM421.6 155.8h.9v.9h-.9zM443.0 180.1h.9v.9h-.9zM438.8 173.7h.9v.9h-.9zM416.7 121.3h.9v.9h-.9zM449.4 163.0h.9v.9h-.9zM422.6 126.9h.9v.9h-.9zM445.2 146.3h.9v.9h-.9zM443.1 168.3h.9v.9h-.9zM449.2 172.6h.9v.9h-.9zM436.0 201.7h.9v.9h-.9zM446.4 149.1h.9v.9h-.9zM449.9 183.7h.9v.9h-.9zM454.2 157.5h.9v.9h-.9zM448.8 197.9h.9v.9h-.9zM438.8 136.7h.9v.9h-.9zM451.0 185.0h.9v.9h-.9zM433.2 164.3h.9v.9h-.9zM433.9 122.5h.9v.9h-.9zM429.0 146.6h.9v.9h-.9zM422.9 136.5h.9v.9h-.9zM426.3 154.7h.9v.9h-.9zM416.9 144.7h.9v.9h-.9zM426.5 189.0h.9v.9h-.9zM420.2 150.8h.9v.9h-.9zM422.9 168.5h.9v.9h-.9zM415.7 118.3h.9v.9h-.9zM429.3 169.1h.9v.9h-.9zM418.1 140.6h.9v.9h-.9zM398.1 153.5h.9v.9h-.9zM441.5 188.8h.9v.9h-.9zM425.1 197.9h.9v.9h-.9zM427.6 171.7h.9v.9h-.9zM425.0 128.1h.9v.9h-.9zM429.6 143.7h.9v.9h-.9zM443.6 199.2h.9v.9h-.9zM453.4 156.9h.9v.9h-.9zM424.0 163.1h.9v.9h-.9zM405.7 141.0h.9v.9h-.9zM432.4 156.5h.9v.9h-.9zM449.5 179.3h.9v.9h-.9zM446.8 185.9h.9v.9h-.9zM400.7 135.7h.9v.9h-.9zM430.2 148.2h.9v.9h-.9zM432.5 137.2h.9v.9h-.9zM451.2 149.3h.9v.9h-.9zM414.8 159.0h.9v.9h-.9zM429.2 135.8h.9v.9h-.9zM409.9 121.6h.9v.9h-.9zM439.2 146.3h.9v.9h-.9zM439.4 129.9h.9v.9h-.9zM412.1 158.2h.9v.9h-.9zM417.1 133.4h.9v.9h-.9zM427.6 159.2h.9v.9h-.9zM449.8 171.0h.9v.9h-.9zM430.1 130.3h.9v.9h-.9zM436.9 190.1h.9v.9h-.9zM424.5 190.4h.9v.9h-.9zM426.5 122.6h.9v.9h-.9zM429.7 198.9h.9v.9h-.9zM441.3 157.8h.9v.9h-.9zM445.5 143.4h.9v.9h-.9zM428.5 132.0h.9v.9h-.9zM401.8 143.8h.9v.9h-.9zM426.5 150.7h.9v.9h-.9zM444.8 148.8h.9v.9h-.9zM450.5 194.6h.9v.9h-.9zM419.4 154.5h.9v.9h-.9zM454.1 148.8h.9v.9h-.9zM436.2 120.7h.9v.9h-.9zM435.8 177.2h.9v.9h-.9zM416.0 145.3h.9v.9h-.9zM415.3 122.2h.9v.9h-.9zM417.4 151.1h.9v.9h-.9zM429.2 173.6h.9v.9h-.9zM427.5 189.3h.9v.9h-.9zM444.4 155.5h.9v.9h-.9zM429.3 141.1h.9v.9h-.9zM424.0 166.8h.9v.9h-.9zM437.4 154.9h.9v.9h-.9zM405.5 132.1h.9v.9h-.9zM432.3 138.4h.9v.9h-.9zM437.6 156.0h.9v.9h-.9zM445.6 195.4h.9v.9h-.9zM407.3 127.0h.9v.9h-.9zM434.9 172.6h.9v.9h-.9zM411.7 126.3h.9v.9h-.9zM432.1 196.5h.9v.9h-.9zM432.2 140.7h.9v.9h-.9zM426.1 163.6h.9v.9h-.9zM441.2 161.2h.9v.9h-.9zM427.4 119.0h.9v.9h-.9zM437.9 163.6h.9v.9h-.9zM423.9 151.8h.9v.9h-.9zM424.6 124.1h.9v.9h-.9zM408.3 127.5h.9v.9h-.9zM442.4 156.7h.9v.9h-.9zM452.0 151.4h.9v.9h-.9zM407.0 129.2h.9v.9h-.9zM454.5 156.3h.9v.9h-.9zM405.4 132.3h.9v.9h-.9zM403.9 144.1h.9v.9h-.9zM431.4 164.0h.9v.9h-.9zM432.0 191.9h.9v.9h-.9zM420.6 182.1h.9v.9h-.9zM402.5 143.0h.9v.9h-.9zM430.1 181.5h.9v.9h-.9zM425.4 159.3h.9v.9h-.9zM426.7 177.4h.9v.9h-.9zM454.9 172.9h.9v.9h-.9zM448.7 197.3h.9v.9h-.9zM443.0 177.4h.9v.9h-.9zM427.7 168.3h.9v.9h-.9zM418.3 156.9h.9v.9h-.9zM430.0 178.3h.9v.9h-.9zM440.0 146.6h.9v.9h-.9zM423.6 127.4h.9v.9h-.9zM433.0 197.8h.9v.9h-.9zM450.8 200.5h.9v.9h-.9zM447.4 196.8h.9v.9h-.9zM438.7 136.5h.9v.9h-.9zM432.7 168.9h.9v.9h-.9zM418.2 180.1h.9v.9h-.9zM414.8 128.4h.9v.9h-.9zM425.4 127.3h.9v.9h-.9zM421.0 138.0h.9v.9h-.9zM415.3 117.2h.9v.9h-.9zM444.3 196.7h.9v.9h-.9zM437.4 166.0h.9v.9h-.9zM412.3 154.4h.9v.9h-.9zM450.9 180.4h.9v.9h-.9zM424.7 138.9h.9v.9h-.9zM441.9 178.6h.9v.9h-.9zM450.0 198.5h.9v.9h-.9zM408.0 144.0h.9v.9h-.9zM443.6 187.6h.9v.9h-.9zM434.4 175.7h.9v.9h-.9zM438.4 195.7h.9v.9h-.9zM427.7 189.0h.9v.9h-.9zM407.9 154.0h.9v.9h-.9zM439.0 152.6h.9v.9h-.9zM425.5 149.6h.9v.9h-.9zM441.1 171.2h.9v.9h-.9zM404.9 147.7h.9v.9h-.9zM450.2 202.5h.9v.9h-.9zM412.0 131.1h.9v.9h-.9zM441.4 156.7h.9v.9h-.9zM431.4 144.0h.9v.9h-.9zM408.5 135.2h.9v.9h-.9zM441.6 169.1h.9v.9h-.9zM426.5 161.4h.9v.9h-.9zM426.4 157.2h.9v.9h-.9zM456.3 152.8h.9v.9h-.9zM428.3 130.6h.9v.9h-.9zM402.4 139.8h.9v.9h-.9zM410.3 132.8h.9v.9h-.9zM429.0 144.3h.9v.9h-.9zM426.1 128.0h.9v.9h-.9zM422.3 193.0h.9v.9h-.9zM447.6 146.4h.9v.9h-.9zM443.7 170.4h.9v.9h-.9zM423.7 126.6h.9v.9h-.9zM411.0 139.4h.9v.9h-.9zM439.6 187.2h.9v.9h-.9zM455.0 155.4h.9v.9h-.9zM413.0 120.6h.9v.9h-.9zM441.8 179.7h.9v.9h-.9zM430.7 163.6h.9v.9h-.9zM439.4 200.1h.9v.9h-.9zM419.6 163.7h.9v.9h-.9zM431.6 181.8h.9v.9h-.9zM434.2 183.5h.9v.9h-.9zM439.4 199.0h.9v.9h-.9zM428.8 160.0h.9v.9h-.9zM427.2 182.9h.9v.9h-.9zM431.9 123.4h.9v.9h-.9zM432.9 157.7h.9v.9h-.9zM409.8 146.4h.9v.9h-.9zM435.3 122.8h.9v.9h-.9zM418.3 136.4h.9v.9h-.9zM417.7 182.6h.9v.9h-.9zM436.7 127.3h.9v.9h-.9zM402.5 130.4h.9v.9h-.9zM440.4 185.9h.9v.9h-.9zM443.1 188.9h.9v.9h-.9zM417.9 145.6h.9v.9h-.9zM424.9 194.5h.9v.9h-.9zM421.7 189.6h.9v.9h-.9zM438.8 177.6h.9v.9h-.9zM447.7 161.0h.9v.9h-.9zM445.9 150.5h.9v.9h-.9zM421.6 126.0h.9v.9h-.9zM431.3 183.8h.9v.9h-.9zM426.6 174.8h.9v.9h-.9zM449.5 197.8h.9v.9h-.9zM442.4 192.4h.9v.9h-.9zM431.0 174.7h.9v.9h-.9zM445.0 196.3h.9v.9h-.9zM450.9 174.7h.9v.9h-.9zM436.5 132.2h.9v.9h-.9zM444.0 149.9h.9v.9h-.9zM453.9 170.5h.9v.9h-.9zM450.4 143.9h.9v.9h-.9zM412.7 149.7h.9v.9h-.9zM442.2 127.4h.9v.9h-.9zM438.5 121.1h.9v.9h-.9zM440.0 129.9h.9v.9h-.9zM437.6 161.2h.9v.9h-.9zM449.9 143.0h.9v.9h-.9zM439.2 204.6h.9v.9h-.9zM426.1 132.4h.9v.9h-.9zM439.1 135.6h.9v.9h-.9zM413.6 145.5h.9v.9h-.9zM450.5 143.0h.9v.9h-.9zM443.6 139.4h.9v.9h-.9zM433.6 119.6h.9v.9h-.9zM442.0 160.9h.9v.9h-.9zM425.0 188.6h.9v.9h-.9zM414.9 164.9h.9v.9h-.9zM430.0 169.3h.9v.9h-.9zM448.2 156.7h.9v.9h-.9zM436.3 135.4h.9v.9h-.9zM452.6 145.1h.9v.9h-.9zM437.2 185.4h.9v.9h-.9zM450.7 150.3h.9v.9h-.9zM414.0 147.8h.9v.9h-.9zM440.0 155.4h.9v.9h-.9zM417.8 142.1h.9v.9h-.9zM411.4 119.4h.9v.9h-.9zM433.5 141.4h.9v.9h-.9zM442.5 175.9h.9v.9h-.9zM439.8 185.8h.9v.9h-.9zM430.0 124.9h.9v.9h-.9zM442.9 154.8h.9v.9h-.9zM422.0 171.5h.9v.9h-.9zM453.7 145.2h.9v.9h-.9zM437.2 125.9h.9v.9h-.9zM416.6 151.0h.9v.9h-.9zM450.2 184.5h.9v.9h-.9zM440.3 122.8h.9v.9h-.9zM440.9 149.0h.9v.9h-.9zM430.3 172.3h.9v.9h-.9zM409.6 146.1h.9v.9h-.9zM449.4 185.6h.9v.9h-.9zM430.7 170.4h.9v.9h-.9zM415.8 149.3h.9v.9h-.9zM446.2 179.6h.9v.9h-.9zM404.9 147.4h.9v.9h-.9zM433.7 144.5h.9v.9h-.9zM441.6 153.7h.9v.9h-.9zM443.7 203.3h.9v.9h-.9zM439.9 190.0h.9v.9h-.9zM418.2 157.6h.9v.9h-.9zM430.1 178.6h.9v.9h-.9zM444.9 140.8h.9v.9h-.9zM428.6 193.6h.9v.9h-.9zM433.3 152.8h.9v.9h-.9zM441.5 196.5h.9v.9h-.9zM441.2 141.5h.9v.9h-.9zM443.8 161.9h.9v.9h-.9zM430.1 153.1h.9v.9h-.9zM453.1 144.7h.9v.9h-.9zM433.7 185.1h.9v.9h-.9zM431.6 199.9h.9v.9h-.9zM416.3 179.3h.9v.9h-.9zM424.7 188.2h.9v.9h-.9zM421.1 121.1h.9v.9h-.9zM429.3 120.0h.9v.9h-.9zM412.7 130.9h.9v.9h-.9zM435.6 122.5h.9v.9h-.9zM417.8 160.6h.9v.9h-.9zM435.4 139.0h.9v.9h-.9zM445.8 159.6h.9v.9h-.9zM422.5 151.3h.9v.9h-.9zM439.6 125.5h.9v.9h-.9zM431.5 146.7h.9v.9h-.9zM436.5 175.3h.9v.9h-.9zM444.9 164.0h.9v.9h-.9zM417.1 171.5h.9v.9h-.9zM449.8 158.6h.9v.9h-.9zM432.0 135.7h.9v.9h-.9zM448.3 189.1h.9v.9h-.9zM425.1 132.4h.9v.9h-.9zM449.7 175.8h.9v.9h-.9zM428.7 182.2h.9v.9h-.9zM422.8 158.4h.9v.9h-.9zM443.1 178.8h.9v.9h-.9zM427.8 157.3h.9v.9h-.9zM418.6 128.0h.9v.9h-.9zM426.3 151.0h.9v.9h-.9zM407.4 141.4h.9v.9h-.9zM439.4 139.3h.9v.9h-.9zM397.4 151.6h.9v.9h-.9zM453.9 175.1h.9v.9h-.9zM422.4 136.3h.9v.9h-.9zM421.4 156.3h.9v.9h-.9zM413.2 156.7h.9v.9h-.9zM413.8 165.2h.9v.9h-.9zM432.0 179.8h.9v.9h-.9zM428.7 159.7h.9v.9h-.9zM451.4 153.0h.9v.9h-.9zM431.6 167.0h.9v.9h-.9zM431.5 201.4h.9v.9h-.9zM450.1 163.7h.9v.9h-.9zM397.8 136.5h.9v.9h-.9zM420.4 185.9h.9v.9h-.9zM434.4 175.2h.9v.9h-.9zM444.7 178.2h.9v.9h-.9zM402.8 137.1h.9v.9h-.9zM451.8 149.1h.9v.9h-.9zM402.6 153.3h.9v.9h-.9zM430.1 149.3h.9v.9h-.9zM421.4 128.0h.9v.9h-.9zM444.8 155.6h.9v.9h-.9zM406.9 128.0h.9v.9h-.9zM411.1 130.2h.9v.9h-.9zM422.4 129.2h.9v.9h-.9zM431.1 187.3h.9v.9h-.9zM449.5 154.2h.9v.9h-.9zM399.4 139.4h.9v.9h-.9zM449.7 200.6h.9v.9h-.9zM452.3 154.1h.9v.9h-.9zM441.2 167.0h.9v.9h-.9zM408.0 158.3h.9v.9h-.9zM434.4 186.8h.9v.9h-.9zM429.8 186.9h.9v.9h-.9zM431.6 141.4h.9v.9h-.9zM440.7 179.5h.9v.9h-.9zM415.9 166.2h.9v.9h-.9zM448.7 195.7h.9v.9h-.9zM408.2 154.6h.9v.9h-.9zM445.5 200.3h.9v.9h-.9zM419.6 186.7h.9v.9h-.9zM455.4 155.3h.9v.9h-.9zM404.4 140.5h.9v.9h-.9zM447.6 168.0h.9v.9h-.9zM422.9 149.2h.9v.9h-.9zM448.7 178.1h.9v.9h-.9zM414.4 135.0h.9v.9h-.9zM435.1 165.2h.9v.9h-.9zM415.3 171.5h.9v.9h-.9zM416.0 175.5h.9v.9h-.9zM439.3 177.8h.9v.9h-.9zM441.7 147.7h.9v.9h-.9zM418.3 153.7h.9v.9h-.9zM432.0 125.7h.9v.9h-.9zM447.0 178.2h.9v.9h-.9zM430.3 139.6h.9v.9h-.9zM422.4 178.3h.9v.9h-.9zM396.8 135.2h.9v.9h-.9zM412.5 153.4h.9v.9h-.9zM443.0 178.1h.9v.9h-.9zM438.3 159.9h.9v.9h-.9zM413.8 161.0h.9v.9h-.9zM448.4 166.5h.9v.9h-.9zM432.0 124.5h.9v.9h-.9zM441.3 133.2h.9v.9h-.9zM441.0 156.5h.9v.9h-.9zM445.0 151.5h.9v.9h-.9zM425.7 117.4h.9v.9h-.9zM396.9 143.9h.9v.9h-.9zM451.9 177.0h.9v.9h-.9zM425.0 196.1h.9v.9h-.9zM447.4 203.2h.9v.9h-.9zM426.3 176.4h.9v.9h-.9zM447.2 141.4h.9v.9h-.9zM440.0 130.3h.9v.9h-.9zM406.2 124.9h.9v.9h-.9zM437.8 137.5h.9v.9h-.9zM449.7 190.0h.9v.9h-.9zM443.5 186.8h.9v.9h-.9zM447.9 204.9h.9v.9h-.9zM432.9 123.3h.9v.9h-.9zM448.1 174.6h.9v.9h-.9zM439.7 161.9h.9v.9h-.9zM443.8 150.7h.9v.9h-.9zM426.7 198.5h.9v.9h-.9zM433.5 138.2h.9v.9h-.9zM428.0 148.0h.9v.9h-.9zM403.4 132.5h.9v.9h-.9zM424.5 189.6h.9v.9h-.9zM425.0 137.1h.9v.9h-.9zM433.6 151.6h.9v.9h-.9zM407.4 134.6h.9v.9h-.9zM419.2 152.5h.9v.9h-.9zM442.0 157.7h.9v.9h-.9zM416.4 176.9h.9v.9h-.9zM417.9 165.1h.9v.9h-.9zM415.4 149.1h.9v.9h-.9zM425.9 155.6h.9v.9h-.9zM440.8 163.9h.9v.9h-.9zM431.7 179.7h.9v.9h-.9zM446.8 195.3h.9v.9h-.9zM410.8 125.2h.9v.9h-.9zM452.0 162.9h.9v.9h-.9zM418.8 167.1h.9v.9h-.9zM423.0 121.7h.9v.9h-.9zM412.7 156.9h.9v.9h-.9zM412.6 162.3h.9v.9h-.9zM441.9 161.1h.9v.9h-.9zM398.6 152.0h.9v.9h-.9zM422.5 169.5h.9v.9h-.9zM439.3 126.9h.9v.9h-.9zM427.6 118.8h.9v.9h-.9zM411.2 130.2h.9v.9h-.9zM431.4 196.1h.9v.9h-.9zM418.7 135.4h.9v.9h-.9zM408.9 140.0h.9v.9h-.9zM442.0 154.9h.9v.9h-.9zM453.1 176.1h.9v.9h-.9zM471.4 185.6h.9v.9h-.9zM463.7 175.5h.9v.9h-.9zM472.2 172.4h.9v.9h-.9zM453.3 187.0h.9v.9h-.9zM466.5 170.3h.9v.9h-.9zM466.3 177.0h.9v.9h-.9zM463.6 173.7h.9v.9h-.9zM467.3 176.7h.9v.9h-.9zM464.0 174.1h.9v.9h-.9zM463.2 183.9h.9v.9h-.9zM463.8 181.3h.9v.9h-.9zM451.7 181.2h.9v.9h-.9zM460.1 182.1h.9v.9h-.9zM454.4 170.8h.9v.9h-.9zM472.6 183.6h.9v.9h-.9zM466.3 177.8h.9v.9h-.9zM455.0 186.0h.9v.9h-.9zM456.6 185.8h.9v.9h-.9zM460.4 177.3h.9v.9h-.9zM466.9 169.0h.9v.9h-.9zM465.4 183.9h.9v.9h-.9zM468.4 175.2h.9v.9h-.9zM457.5 191.2h.9v.9h-.9zM458.8 194.1h.9v.9h-.9zM471.1 184.4h.9v.9h-.9zM453.8 189.5h.9v.9h-.9zM469.9 181.4h.9v.9h-.9zM471.6 183.8h.9v.9h-.9zM479.2 185.6h.9v.9h-.9zM468.2 205.4h.9v.9h-.9zM480.8 189.0h.9v.9h-.9zM462.8 195.4h.9v.9h-.9zM452.5 174.9h.9v.9h-.9zM456.4 188.1h.9v.9h-.9zM464.1 175.1h.9v.9h-.9zM471.9 192.2h.9v.9h-.9zM472.3 182.0h.9v.9h-.9zM462.6 189.8h.9v.9h-.9zM456.5 173.5h.9v.9h-.9zM472.1 178.0h.9v.9h-.9zM456.5 172.6h.9v.9h-.9zM471.3 170.6h.9v.9h-.9zM459.9 178.0h.9v.9h-.9zM467.3 173.1h.9v.9h-.9zM456.5 191.7h.9v.9h-.9zM461.6 186.6h.9v.9h-.9zM475.3 179.6h.9v.9h-.9zM460.2 194.1h.9v.9h-.9zM473.0 183.4h.9v.9h-.9zM454.6 171.2h.9v.9h-.9zM458.2 175.1h.9v.9h-.9zM472.6 171.6h.9v.9h-.9zM471.9 170.5h.9v.9h-.9zM455.7 185.8h.9v.9h-.9zM463.7 182.3h.9v.9h-.9zM454.1 191.8h.9v.9h-.9zM476.7 196.6h.9v.9h-.9zM473.2 172.1h.9v.9h-.9zM467.0 170.4h.9v.9h-.9zM464.6 182.4h.9v.9h-.9zM457.5 173.8h.9v.9h-.9zM452.7 173.8h.9v.9h-.9zM462.7 186.8h.9v.9h-.9zM453.7 191.3h.9v.9h-.9zM457.4 188.8h.9v.9h-.9zM456.2 179.8h.9v.9h-.9zM452.9 178.5h.9v.9h-.9zM474.7 175.4h.9v.9h-.9zM464.8 203.2h.9v.9h-.9zM471.7 173.6h.9v.9h-.9zM453.0 174.0h.9v.9h-.9zM475.2 182.1h.9v.9h-.9zM458.0 198.5h.9v.9h-.9zM457.2 172.4h.9v.9h-.9zM460.9 177.2h.9v.9h-.9zM462.7 203.0h.9v.9h-.9zM453.5 172.1h.9v.9h-.9zM456.1 180.5h.9v.9h-.9zM470.5 183.1h.9v.9h-.9zM464.1 171.6h.9v.9h-.9zM473.7 172.3h.9v.9h-.9zM465.2 171.2h.9v.9h-.9zM453.9 172.7h.9v.9h-.9zM462.7 188.3h.9v.9h-.9zM460.3 174.4h.9v.9h-.9zM471.3 170.7h.9v.9h-.9zM457.8 197.9h.9v.9h-.9zM455.1 174.6h.9v.9h-.9zM469.8 170.6h.9v.9h-.9zM455.8 180.8h.9v.9h-.9zM454.9 197.6h.9v.9h-.9zM453.6 173.1h.9v.9h-.9zM454.9 185.2h.9v.9h-.9zM458.6 190.0h.9v.9h-.9zM460.9 175.6h.9v.9h-.9zM459.3 174.0h.9v.9h-.9zM455.7 194.1h.9v.9h-.9zM461.0 186.3h.9v.9h-.9zM476.6 185.2h.9v.9h-.9zM461.1 189.1h.9v.9h-.9zM468.3 204.9h.9v.9h-.9zM463.8 202.4h.9v.9h-.9zM459.0 179.8h.9v.9h-.9zM470.9 178.2h.9v.9h-.9zM465.9 179.6h.9v.9h-.9zM458.5 199.3h.9v.9h-.9zM470.9 171.0h.9v.9h-.9zM459.6 193.4h.9v.9h-.9zM464.3 170.4h.9v.9h-.9zM464.2 177.5h.9v.9h-.9zM463.7 185.9h.9v.9h-.9zM456.0 175.8h.9v.9h-.9zM468.6 185.8h.9v.9h-.9zM453.8 175.2h.9v.9h-.9zM460.9 186.5h.9v.9h-.9zM470.3 184.6h.9v.9h-.9zM461.1 188.3h.9v.9h-.9zM455.6 195.8h.9v.9h-.9zM473.6 170.2h.9v.9h-.9zM460.1 179.3h.9v.9h-.9zM468.0 182.9h.9v.9h-.9zM467.9 171.0h.9v.9h-.9zM456.3 174.9h.9v.9h-.9zM456.4 191.3h.9v.9h-.9zM451.4 185.4h.9v.9h-.9zM477.6 186.7h.9v.9h-.9zM464.6 187.2h.9v.9h-.9zM463.5 188.9h.9v.9h-.9zM454.4 188.4h.9v.9h-.9zM455.2 180.2h.9v.9h-.9zM457.9 173.9h.9v.9h-.9zM454.3 193.4h.9v.9h-.9zM459.2 171.6h.9v.9h-.9zM473.2 179.1h.9v.9h-.9zM463.9 169.7h.9v.9h-.9zM452.8 184.5h.9v.9h-.9zM464.9 180.0h.9v.9h-.9zM457.1 197.0h.9v.9h-.9zM451.9 180.5h.9v.9h-.9zM461.0 181.0h.9v.9h-.9zM461.1 186.4h.9v.9h-.9zM460.6 193.1h.9v.9h-.9zM460.2 185.6h.9v.9h-.9zM479.1 187.8h.9v.9h-.9z" fill="#FF7F0E"/>
<path d="M421.9 191.9h.9v.9h-.9zM412.7 128.4h.9v.9h-.9zM440.5 137.7h.9v.9h-.9zM428.7 196.4h.9v.9h-.9zM445.0 168.3h.9v.9h-.9zM424.4 130.6h.9v.9h-.9zM401.8 138.0h.9v.9h-.9zM405.0 136.6h.9v.9h-.9zM426.0 169.8h.9v.9h-.9zM440.0 162.9h.9v.9h-.9zM446.0 196.3h.9v.9h-.9zM419.7 152.1h.9v.9h-.9zM436.1 120.8h.9v.9h-.9zM407.2 130.1h.9v.9h-.9zM434.8 128.8h.9v.9h-.9zM416.6 148.9h.9v.9h-.9zM424.7 160.0h.9v.9h-.9zM399.9 146.9h.9v.9h-.9zM447.8 191.1h.9v.9h-.9zM417.2 117.7h.9v.9h-.9zM458.0 156.6h.9v.9h-.9zM417.8 135.5h.9v.9h-.9zM446.7 145.9h.9v.9h-.9zM407.4 138.4h.9v.9h-.9zM410.6 154.0h.9v.9h-.9zM428.6 116.7h.9v.9h-.9zM425.2 182.4h.9v.9h-.9zM431.1 138.1h.9v.9h-.9zM445.5 162.2h.9v.9h-.9zM440.5 196.5h.9v.9h-.9zM423.1 121.7h.9v.9h-.9zM422.3 163.0h.9v.9h-.9zM423.0 116.7h.9v.9h-.9zM455.5 168.1h.9v.9h-.9zM409.2 125.2h.9v.9h-.9zM412.7 161.5h.9v.9h-.9zM449.6 180.7h.9v.9h-.9zM420.5 147.3h.9v.9h-.9zM409.5 142.3h.9v.9h-.9zM403.7 156.5h.9v.9h-.9zM414.0 148.2h.9v.9h-.9zM399.1 152.2h.9v.9h-.9zM394.5 143.3h.9v.9h-.9zM432.8 164.2h.9v.9h-.9zM437.7 181.6h.9v.9h-.9zM453.7 173.3h.9v.9h-.9zM447.7 191.9h.9v.9h-.9zM402.1 148.5h.9v.9h-.9zM449.8 166.9h.9v.9h-.9zM410.1 121.9h.9v.9h-.9zM442.6 134.1h.9v.9h-.9zM428.1 158.2h.9v.9h-.9zM424.2 191.3h.9v.9h-.9zM423.6 140.0h.9v.9h-.9zM448.8 162.3h.9v.9h-.9zM440.8 136.5h.9v.9h-.9zM426.1 117.3h.9v.9h-.9zM426.4 156.9h.9v.9h-.9zM402.6 147.0h.9v.9h-.9zM433.1 148.5h.9v.9h-.9zM411.7 119.5h.9v.9h-.9zM449.8 141.6h.9v.9h-.9zM435.9 199.9h.9v.9h-.9zM442.8 156.9h.9v.9h-.9zM425.1 147.0h.9v.9h-.9zM437.6 143.0h.9v.9h-.9zM419.8 130.6h.9v.9h-.9zM402.5 132.9h.9v.9h-.9zM416.3 123.5h.9v.9h-.9zM418.6 146.5h.9v.9h-.9zM411.4 138.1h.9v.9h-.9zM453.9 159.0h.9v.9h-.9zM409.9 125.1h.9v.9h-.9zM428.5 178.4h.9v.9h-.9zM442.1 175.2h.9v.9h-.9zM424.1 166.3h.9v.9h-.9zM428.7 169.2h.9v.9h-.9zM395.3 146.4h.9v.9h-.9zM439.4 133.4h.9v.9h-.9zM426.7 132.4h.9v.9h-.9zM403.0 151.6h.9v.9h-.9zM415.6 130.7h.9v.9h-.9zM414.5 140.6h.9v.9h-.9zM444.4 200.2h.9v.9h-.9zM419.3 138.3h.9v.9h-.9zM443.2 191.5h.9v.9h-.9zM409.8 121.0h.9v.9h-.9zM411.0 122.8h.9v.9h-.9zM438.8 184.6h.9v.9h-.9zM438.2 126.3h.9v.9h-.9zM418.4 183.6h.9v.9h-.9zM409.8 137.8h.9v.9h-.9zM448.7 193.2h.9v.9h-.9zM395.7 142.3h.9v.9h-.9zM418.1 128.1h.9v.9h-.9zM405.6 144.0h.9v.9h-.9zM436.5 123.5h.9v.9h-.9zM454.3 154.4h.9v.9h-.9zM424.3 130.1h.9v.9h-.9zM430.5 174.6h.9v.9h-.9zM418.2 161.9h.9v.9h-.9zM426.4 189.8h.9v.9h-.9zM456.0 151.1h.9v.9h-.9zM405.4 135.3h.9v.9h-.9zM428.2 150.7h.9v.9h-.9zM433.8 166.2h.9v.9h-.9zM422.0 176.3h.9v.9h-.9zM425.2 125.0h.9v.9h-.9zM422.3 123.5h.9v.9h-.9zM414.7 118.4h.9v.9h-.9zM452.4 166.6h.9v.9h-.9zM419.8 189.2h.9v.9h-.9zM417.1 124.9h.9v.9h-.9zM409.6 128.9h.9v.9h-.9zM436.4 196.0h.9v.9h-.9zM420.3 139.6h.9v.9h-.9zM436.9 156.3h.9v.9h-.9zM442.9 138.1h.9v.9h-.9zM420.6 137.1h.9v.9h-.9zM427.5 174.7h.9v.9h-.9zM404.9 143.8h.9v.9h-.9zM400.2 136.6h.9v.9h-.9zM440.3 193.6h.9v.9h-.9zM435.9 179.4h.9v.9h-.9zM450.1 179.9h.9v.9h-.9zM416.5 128.2h.9v.9h-.9zM436.1 179.8h.9v.9h-.9zM407.0 125.4h.9v.9h-.9zM450.6 190.5h.9v.9h-.9zM414.7 154.4h.9v.9h-.9zM427.3 194.2h.9v.9h-.9zM422.7 186.9h.9v.9h-.9zM440.4 188.2h.9v.9h-.9zM417.2 152.3h.9v.9h-.9zM444.3 185.0h.9v.9h-.9zM416.7 145.4h.9v.9h-.9zM450.3 176.6h.9v.9h-.9zM432.4 126.7h.9v.9h-.9zM403.6 138.0h.9v.9h-.9zM428.5 130.0h.9v.9h-.9zM400.3 134.2h.9v.9h-.9zM434.1 152.6h.9v.9h-.9zM454.7 155.0h.9v.9h-.9zM442.1 196.8h.9v.9h-.9zM440.6 194.3h.9v.9h-.9zM435.7 124.1h.9v.9h-.9zM446.2 181.3h.9v.9h-.9zM410.0 154.4h.9v.9h-.9zM435.3 153.1h.9v.9h-.9zM432.1 165.3h.9v.9h-.9zM427.8 174.5h.9v.9h-.9zM419.7 185.9h.9v.9h-.9zM396.9 140.5h.9v.9h-.9zM421.6 179.9h.9v.9h-.9zM411.2 150.0h.9v.9h-.9zM422.0 132.3h.9v.9h-.9zM413.5 159.6h.9v.9h-.9zM453.6 171.6h.9v.9h-.9zM438.5 198.1h.9v.9h-.9zM440.1 164.4h.9v.9h-.9zM411.0 136.8h.9v.9h-.9zM426.5 120.4h.9v.9h-.9zM434.5 178.5h.9v.9h-.9zM435.5 146.5h.9v.9h-.9zM449.2 142.2h.9v.9h-.9zM420.5 161.8h.9v.9h-.9zM396.4 142.9h.9v.9h-.9zM434.4 176.2h.9v.9h-.9zM454.9 171.9h.9v.9h-.9zM435.6 179.8h.9v.9h-.9zM439.3 134.8h.9v.9h-.9zM445.7 200.0h.9v.9h-.9zM413.5 154.2h.9v.9h-.9zM448.1 168.5h.9v.9h-.9zM423.4 116.3h.9v.9h-.9zM433.3 202.2h.9v.9h-.9zM425.3 153.4h.9v.9h-.9zM439.5 126.3h.9v.9h-.9zM441.9 137.5h.9v.9h-.9zM445.6 181.4h.9v.9h-.9zM426.1 120.6h.9v.9h-.9zM431.5 142.2h.9v.9h-.9zM449.3 145.9h.9v.9h-.9zM433.9 143.7h.9v.9h-.9zM453.4 150.0h.9v.9h-.9zM433.9 198.3h.9v.9h-.9zM449.7 190.5h.9v.9h-.9zM447.9 178.7h.9v.9h-.9zM432.4 198.4h.9v.9h-.9zM405.9 132.9h.9v.9h-.9zM440.7 148.7h.9v.9h-.9zM420.4 163.1h.9v.9h-.9zM426.1 167.7h.9v.9h-.9zM446.0 154.6h.9v.9h-.9zM445.2 191.2h.9v.9h-.9zM406.7 131.8h.9v.9h-.9zM452.2 157.6h.9v.9h-.9zM431.4 174.6h.9v.9h-.9zM395.6 138.8h.9v.9h-.9zM446.5 181.0h.9v.9h-.9zM415.0 138.9h.9v.9h-.9zM425.7 130.7h.9v.9h-.9zM425.5 173.4h.9v.9h-.9zM415.7 130.6h.9v.9h-.9zM412.5 139.0h.9v.9h-.9zM416.2 128.0h.9v.9h-.9zM426.7 140.5h.9v.9h-.9zM434.6 180.8h.9v.9h-.9zM432.6 133.8h.9v.9h-.9zM442.8 153.0h.9v.9h-.9zM454.9 159.3h.9v.9h-.9zM418.0 130.2h.9v.9h-.9zM441.4 150.5h.9v.9h-.9zM429.1 165.0h.9v.9h-.9zM405.4 124.5h.9v.9h-.9zM440.8 124.6h.9v.9h-.9zM427.1 141.0h.9v.9h-.9zM447.7 199.9h.9v.9h-.9zM421.7 173.8h.9v.9h-.9zM429.1 121.4h.9v.9h-.9zM427.3 116.9h.9v.9h-.9zM448.0 197.2h.9v.9h-.9zM424.7 164.6h.9v.9h-.9zM413.0 152.8h.9v.9h-.9zM450.1 171.7h.9v.9h-.9zM437.2 133.7h.9v.9h-.9zM424.9 143.9h.9v.9h-.9zM419.1 169.5h.9v.9h-.9zM443.2 184.1h.9v.9h-.9zM425.3 188.0h.9v.9h-.9zM424.1 182.2h.9v.9h-.9zM419.6 166.6h.9v.9h-.9zM405.5 143.3h.9v.9h-.9zM455.6 145.1h.9v.9h-.9zM431.4 161.3h.9v.9h-.9zM445.6 165.1h.9v.9h-.9zM432.0 196.8h.9v.9h-.9zM434.0 147.8h.9v.9h-.9zM436.3 118.9h.9v.9h-.9zM446.6 143.5h.9v.9h-.9zM450.3 169.5h.9v.9h-.9zM432.1 153.2h.9v.9h-.9zM449.0 172.0h.9v.9h-.9zM445.4 145.0h.9v.9h-.9zM417.1 130.8h.9v.9h-.9zM432.6 147.4h.9v.9h-.9zM422.9 172.7h.9v.9h-.9zM451.1 144.3h.9v.9h-.9zM448.5 143.2h.9v.9h-.9zM458.3 161.1h.9v.9h-.9zM404.8 148.3h.9v.9h-.9zM419.2 152.5h.9v.9h-.9zM416.9 137.8h.9v.9h-.9zM412.3 137.1h.9v.9h-.9zM423.1 192.8h.9v.9h-.9zM427.3 136.1h.9v.9h-.9zM433.0 149.2h.9v.9h-.9zM414.1 151.3h.9v.9h-.9zM417.6 161.5h.9v.9h-.9zM397.5 143.9h.9v.9h-.9zM445.7 197.1h.9v.9h-.9zM402.0 140.7h.9v.9h-.9zM416.9 173.5h.9v.9h-.9zM406.5 143.2h.9v.9h-.9zM422.6 178.6h.9v.9h-.9zM440.2 151.6h.9v.9h-.9zM457.4 154.4h.9v.9h-.9zM440.0 183.7h.9v.9h-.9zM397.0 148.3h.9v.9h-.9zM406.7 143.9h.9v.9h-.9zM412.7 148.5h.9v.9h-.9zM397.1 141.1h.9v.9h-.9zM415.1 158.6h.9v.9h-.9zM431.3 125.1h.9v.9h-.9zM436.8 173.4h.9v.9h-.9zM446.4 192.2h.9v.9h-.9zM431.5 173.4h.9v.9h-.9zM441.0 199.2h.9v.9h-.9zM426.6 161.5h.9v.9h-.9zM428.0 154.2h.9v.9h-.9zM416.7 133.2h.9v.9h-.9zM425.7 175.2h.9v.9h-.9zM437.9 149.6h.9v.9h-.9zM420.0 125.6h.9v.9h-.9zM429.1 138.4h.9v.9h-.9zM433.0 122.5h.9v.9h-.9zM430.4 181.5h.9v.9h-.9zM442.1 124.5h.9v.9h-.9zM409.1 149.6h.9v.9h-.9zM433.4 134.8h.9v.9h-.9zM441.1 154.6h.9v.9h-.9zM435.2 196.1h.9v.9h-.9zM410.3 133.0h.9v.9h-.9zM429.6 179.1h.9v.9h-.9zM434.5 122.1h.9v.9h-.9zM433.1 119.1h.9v.9h-.9zM419.4 147.9h.9v.9h-.9zM432.4 146.0h.9v.9h-.9zM431.1 186.7h.9v.9h-.9zM445.7 173.9h.9v.9h-.9zM439.3 143.3h.9v.9h-.9zM443.3 162.3h.9v.9h-.9zM416.8 166.2h.9v.9h-.9zM397.1 146.4h.9v.9h-.9zM418.0 137.6h.9v.9h-.9zM416.7 127.6h.9v.9h-.9zM431.7 143.1h.9v.9h-.9zM397.5 143.0h.9v.9h-.9zM442.4 166.3h.9v.9h-.9zM432.7 122.4h.9v.9h-.9zM422.1 195.8h.9v.9h-.9zM407.8 152.2h.9v.9h-.9zM434.0 195.4h.9v.9h-.9zM452.5 174.5h.9v.9h-.9zM437.1 152.7h.9v.9h-.9zM416.0 120.3h.9v.9h-.9zM410.5 158.1h.9v.9h-.9zM455.9 167.5h.9v.9h-.9zM430.7 176.1h.9v.9h-.9zM417.9 128.9h.9v.9h-.9zM426.9 174.2h.9v.9h-.9zM436.9 152.4h.9v.9h-.9zM408.2 138.4h.9v.9h-.9zM422.5 136.5h.9v.9h-.9zM452.1 139.9h.9v.9h-.9zM453.1 148.5h.9v.9h-.9zM427.3 136.5h.9v.9h-.9zM426.1 127.6h.9v.9h-.9zM427.0 125.4h.9v.9h-.9zM411.6 131.5h.9v.9h-.9zM430.3 179.2h.9v.9h-.9zM420.2 144.6h.9v.9h-.9zM419.2 153.1h.9v.9h-.9zM440.2 145.2h.9v.9h-.9zM451.0 162.4h.9v.9h-.9zM425.4 135.6h.9v.9h-.9zM403.5 138.4h.9v.9h-.9zM428.5 157.1h.9v.9h-.9zM409.2 149.5h.9v.9h-.9zM418.3 119.1h.9v.9h-.9zM418.0 181.3h.9v.9h-.9zM418.3 176.9h.9v.9h-.9zM418.8 163.9h.9v.9h-.9zM449.1 177.3h.9v.9h-.9zM430.7 186.5h.9v.9h-.9zM401.0 135.5h.9v.9h-.9zM440.0 153.9h.9v.9h-.9zM415.7 163.2h.9v.9h-.9zM410.8 144.1h.9v.9h-.9zM421.6 119.8h.9v.9h-.9zM418.4 158.2h.9v.9h-.9zM430.8 119.8h.9v.9h-.9zM456.6 156.4h.9v.9h-.9zM407.1 124.4h.9v.9h-.9zM437.8 139.0h.9v.9h-.9zM442.5 155.0h.9v.9h-.9zM428.8 142.0h.9v.9h-.9zM444.0 161.2h.9v.9h-.9zM437.6 119.7h.9v.9h-.9zM429.4 125.9h.9v.9h-.9zM427.5 149.1h.9v.9h-.9zM420.5 133.9h.9v.9h-.9zM457.1 160.4h.9v.9h-.9zM419.7 163.2h.9v.9h-.9zM435.0 179.3h.9v.9h-.9zM421.0 152.9h.9v.9h-.9zM402.5 133.4h.9v.9h-.9zM436.3 133.5h.9v.9h-.9zM449.3 202.2h.9v.9h-.9zM443.7 192.4h.9v.9h-.9zM433.1 155.5h.9v.9h-.9zM458.3 164.4h.9v.9h-.9zM446.5 138.4h.9v.9h-.9zM408.8 133.4h.9v.9h-.9zM441.3 151.5h.9v.9h-.9zM447.0 178.5h.9v.9h-.9zM433.5 192.8h.9v.9h-.9zM448.2 153.9h.9v.9h-.9zM424.1 146.2h.9v.9h-.9zM457.3 157.3h.9v.9h-.9zM410.1 147.8h.9v.9h-.9zM449.8 178.6h.9v.9h-.9zM437.1 189.9h.9v.9h-.9zM396.6 142.7h.9v.9h-.9zM406.4 144.8h.9v.9h-.9zM400.4 139.2h.9v.9h-.9zM423.6 192.9h.9v.9h-.9zM444.5 158.7h.9v.9h-.9zM411.1 137.6h.9v.9h-.9zM430.3 185.1h.9v.9h-.9zM421.1 190.1h.9v.9h-.9zM416.0 121.1h.9v.9h-.9zM427.1 194.2h.9v.9h-.9zM443.5 191.4h.9v.9h-.9zM440.9 180.5h.9v.9h-.9zM417.5 180.0h.9v.9h-.9zM435.8 127.9h.9v.9h-.9zM427.3 154.4h.9v.9h-.9zM435.8 182.4h.9v.9h-.9zM425.5 127.4h.9v.9h-.9zM416.2 132.7h.9v.9h-.9zM428.1 155.8h.9v.9h-.9zM431.1 180.2h.9v.9h-.9zM443.8 203.2h.9v.9h-.9zM451.7 182.1h.9v.9h-.9zM410.9 148.1h.9v.9h-.9zM413.8 119.1h.9v.9h-.9zM445.9 158.8h.9v.9h-.9zM427.5 134.5h.9v.9h-.9zM441.3 202.9h.9v.9h-.9zM422.7 183.1h.9v.9h-.9zM432.8 150.2h.9v.9h-.9zM429.3 121.6h.9v.9h-.9zM433.2 126.7h.9v.9h-.9zM441.5 137.3h.9v.9h-.9zM449.0 174.0h.9v.9h-.9zM435.1 170.3h.9v.9h-.9zM430.1 142.1h.9v.9h-.9zM430.1 147.8h.9v.9h-.9zM442.7 194.0h.9v.9h-.9zM399.9 149.2h.9v.9h-.9zM437.1 200.2h.9v.9h-.9zM447.2 199.9h.9v.9h-.9zM457.1 156.1h.9v.9h-.9zM410.2 142.9h.9v.9h-.9zM415.1 123.8h.9v.9h-.9zM421.0 116.9h.9v.9h-.9zM445.7 197.8h.9v.9h-.9zM437.2 165.1h.9v.9h-.9zM440.0 184.4h.9v.9h-.9zM409.9 138.9h.9v.9h-.9zM433.2 176.0h.9v.9h-.9zM417.6 128.2h.9v.9h-.9zM439.8 140.4h.9v.9h-.9zM405.1 124.3h.9v.9h-.9zM420.8 179.1h.9v.9h-.9zM456.4 146.8h.9v.9h-.9zM437.8 169.6h.9v.9h-.9zM405.3 128.4h.9v.9h-.9zM442.1 127.9h.9v.9h-.9zM408.2 133.0h.9v.9h-.9zM425.6 131.2h.9v.9h-.9zM422.9 126.0h.9v.9h-.9zM430.7 121.7h.9v.9h-.9zM443.6 167.3h.9v.9h-.9zM428.7 137.3h.9v.9h-.9zM423.8 144.6h.9v.9h-.9zM447.6 202.9h.9v.9h-.9zM451.3 149.2h.9v.9h-.9zM422.9 128.1h.9v.9h-.9zM443.9 169.2h.9v.9h-.9zM420.3 178.2h.9v.9h-.9zM414.9 152.8h.9v.9h-.9zM438.0 195.0h.9v.9h-.9zM450.7 190.1h.9v.9h-.9zM427.9 125.8h.9v.9h-.9zM437.8 169.5h.9v.9h-.9zM435.4 158.9h.9v.9h-.9zM437.0 131.8h.9v.9h-.9zM446.4 136.7h.9v.9h-.9zM443.0 148.5h.9v.9h-.9zM408.1 135.0h.9v.9h-.9zM420.6 154.1h.9v.9h-.9zM422.7 131.3h.9v.9h-.9zM445.1 192.7h.9v.9h-.9zM436.2 180.6h.9v.9h-.9zM433.9 194.0h.9v.9h-.9zM433.0 133.4h.9v.9h-.9zM415.8 163.6h.9v.9h-.9zM421.4 159.5h.9v.9h-.9zM431.1 119.8h.9v.9h-.9zM440.1 150.8h.9v.9h-.9zM431.4 127.9h.9v.9h-.9zM409.4 139.0h.9v.9h-.9zM436.5 179.3h.9v.9h-.9zM410.7 129.6h.9v.9h-.9zM445.5 191.9h.9v.9h-.9zM397.8 151.0h.9v.9h-.9zM408.1 144.6h.9v.9h-.9zM398.8 151.6h.9v.9h-.9zM422.0 146.4h.9v.9h-.9zM434.1 141.8h.9v.9h-.9zM416.0 138.1h.9v.9h-.9zM416.2 132.4h.9v.9h-.9zM448.9 195.3h.9v.9h-.9zM434.2 198.6h.9v.9h-.9zM418.5 147.8h.9v.9h-.9zM444.4 137.7h.9v.9h-.9zM442.5 185.2h.9v.9h-.9zM416.1 138.2h.9v.9h-.9zM408.4 121.6h.9v.9h-.9zM440.3 126.6h.9v.9h-.9zM422.4 181.7h.9v.9h-.9zM454.9 166.3h.9v.9h-.9zM452.1 148.6h.9v.9h-.9zM427.2 198.6h.9v.9h-.9zM457.9 162.5h.9v.9h-.9zM447.6 154.4h.9v.9h-.9zM410.6 140.7h.9v.9h-.9zM427.9 158.6h.9v.9h-.9zM432.8 182.0h.9v.9h-.9zM409.7 133.5h.9v.9h-.9zM420.9 172.5h.9v.9h-.9zM404.0 135.3h.9v.9h-.9zM402.8 130.7h.9v.9h-.9zM417.1 154.5h.9v.9h-.9zM438.1 183.4h.9v.9h-.9zM446.8 169.9h.9v.9h-.9zM430.4 152.4h.9v.9h-.9zM415.0 159.6h.9v.9h-.9zM410.7 149.5h.9v.9h-.9zM429.6 140.7h.9v.9h-.9zM408.5 120.4h.9v.9h-.9zM442.9 182.0h.9v.9h-.9zM457.4 166.2h.9v.9h-.9zM422.5 151.4h.9v.9h-.9zM404.9 131.7h.9v.9h-.9zM422.9 188.6h.9v.9h-.9zM451.4 200.1h.9v.9h-.9zM402.7 131.3h.9v.9h-.9zM442.5 153.0h.9v.9h-.9zM446.9 188.3h.9v.9h-.9zM444.8 168.3h.9v.9h-.9zM432.9 154.7h.9v.9h-.9zM400.0 140.7h.9v.9h-.9zM452.2 156.1h.9v.9h-.9zM437.1 124.1h.9v.9h-.9zM442.1 134.9h.9v.9h-.9zM444.6 157.4h.9v.9h-.9zM442.6 146.9h.9v.9h-.9zM454.6 172.0h.9v.9h-.9zM424.5 191.5h.9v.9h-.9zM404.4 127.8h.9v.9h-.9zM426.5 139.9h.9v.9h-.9zM430.7 185.9h.9v.9h-.9zM419.2 165.9h.9v.9h-.9zM439.6 148.7h.9v.9h-.9zM436.1 165.5h.9v.9h-.9zM438.6 148.5h.9v.9h-.9zM438.5 178.6h.9v.9h-.9zM420.5 179.9h.9v.9h-.9zM411.4 128.8h.9v.9h-.9zM438.0 203.7h.9v.9h-.9zM437.4 130.0h.9v.9h-.9zM410.3 128.2h.9v.9h-.9zM421.1 165.6h.9v.9h-.9zM409.4 123.6h.9v.9h-.9zM403.5 143.4h.9v.9h-.9zM422.2 130.4h.9v.9h-.9zM437.1 129.6h.9v.9h-.9zM438.5 155.3h.9v.9h-.9zM420.1 133.4h.9v.9h-.9zM422.3 129.5h.9v.9h-.9zM427.2 160.4h.9v.9h-.9zM438.5 161.1h.9v.9h-.9zM440.4 168.8h.9v.9h-.9zM442.2 147.4h.9v.9h-.9zM417.9 181.2h.9v.9h-.9zM442.4 195.4h.9v.9h-.9zM451.8 169.7h.9v.9h-.9zM436.8 203.1h.9v.9h-.9zM425.8 146.4h.9v.9h-.9zM427.7 169.7h.9v.9h-.9zM427.7 149.9h.9v.9h-.9zM423.7 148.3h.9v.9h-.9zM437.5 177.9h.9v.9h-.9zM428.7 177.3h.9v.9h-.9zM441.4 198.3h.9v.9h-.9zM405.5 129.7h.9v.9h-.9zM433.5 138.7h.9v.9h-.9zM419.5 150.3h.9v.9h-.9zM418.3 185.8h.9v.9h-.9zM434.5 142.3h.9v.9h-.9zM407.5 144.0h.9v.9h-.9zM448.1 140.0h.9v.9h-.9zM396.7 150.4h.9v.9h-.9zM435.5 187.3h.9v.9h-.9zM431.3 141.4h.9v.9h-.9zM429.2 145.5h.9v.9h-.9zM425.1 133.4h.9v.9h-.9zM414.4 166.2h.9v.9h-.9zM425.9 172.3h.9v.9h-.9zM430.1 172.4h.9v.9h-.9zM431.9 135.7h.9v.9h-.9zM449.5 167.7h.9v.9h-.9zM422.9 192.2h.9v.9h-.9zM415.9 121.1h.9v.9h-.9zM435.4 126.2h.9v.9h-.9zM447.1 141.1h.9v.9h-.9zM430.5 171.9h.9v.9h-.9zM449.5 138.0h.9v.9h-.9zM419.9 135.8h.9v.9h-.9zM427.7 161.6h.9v.9h-.9zM444.2 184.3h.9v.9h-.9zM417.3 134.5h.9v.9h-.9zM407.8 155.7h.9v.9h-.9zM447.3 138.6h.9v.9h-.9zM430.5 170.9h.9v.9h-.9zM446.5 178.1h.9v.9h-.9zM405.9 124.4h.9v.9h-.9zM427.7 128.9h.9v.9h-.9zM446.1 143.5h.9v.9h-.9zM440.0 129.3h.9v.9h-.9zM409.9 122.8h.9v.9h-.9zM410.0 142.9h.9v.9h-.9zM444.5 153.3h.9v.9h-.9zM419.7 144.1h.9v.9h-.9zM425.4 131.6h.9v.9h-.9zM453.6 152.9h.9v.9h-.9zM435.6 173.8h.9v.9h-.9zM425.0 127.2h.9v.9h-.9zM436.7 176.1h.9v.9h-.9zM415.1 170.5h.9v.9h-.9zM419.9 161.6h.9v.9h-.9zM419.1 155.5h.9v.9h-.9zM423.0 185.9h.9v.9h-.9zM431.1 153.7h.9v.9h-.9zM408.1 122.6h.9v.9h-.9zM421.3 138.4h.9v.9h-.9zM457.2 153.0h.9v.9h-.9zM426.8 132.4h.9v.9h-.9zM426.7 136.3h.9v.9h-.9zM419.6 154.5h.9v.9h-.9zM440.3 183.9h.9v.9h-.9zM443.5 181.5h.9v.9h-.9zM450.3 193.6h.9v.9h-.9zM407.4 146.3h.9v.9h-.9zM413.6 139.9h.9v.9h-.9zM441.3 190.3h.9v.9h-.9zM429.7 139.7h.9v.9h-.9zM432.0 187.5h.9v.9h-.9zM433.7 200.7h.9v.9h-.9zM418.2 124.5h.9v.9h-.9zM441.0 201.6h.9v.9h-.9zM438.1 202.2h.9v.9h-.9zM448.0 138.1h.9v.9h-.9zM398.2 157.1h.9v.9h-.9zM432.9 137.1h.9v.9h-.9zM418.5 160.8h.9v.9h-.9zM433.7 196.0h.9v.9h-.9zM432.2 150.2h.9v.9h-.9zM431.5 200.0h.9v.9h-.9zM447.4 137.1h.9v.9h-.9zM428.1 150.9h.9v.9h-.9zM431.0 187.0h.9v.9h-.9zM397.4 145.6h.9v.9h-.9zM445.6 173.9h.9v.9h-.9zM439.5 178.6h.9v.9h-.9zM431.5 140.6h.9v.9h-.9zM438.4 122.8h.9v.9h-.9zM423.6 117.9h.9v.9h-.9zM407.6 145.3h.9v.9h-.9zM456.9 156.8h.9v.9h-.9zM436.3 183.9h.9v.9h-.9zM412.6 156.5h.9v.9h-.9zM456.0 159.5h.9v.9h-.9zM432.7 156.6h.9v.9h-.9zM421.1 147.6h.9v.9h-.9zM410.0 144.3h.9v.9h-.9zM431.3 134.3h.9v.9h-.9zM429.2 119.0h.9v.9h-.9zM408.8 132.3h.9v.9h-.9zM448.5 157.2h.9v.9h-.9zM438.7 164.5h.9v.9h-.9zM399.8 146.1h.9v.9h-.9zM440.9 142.8h.9v.9h-.9zM432.0 190.8h.9v.9h-.9zM419.4 186.6h.9v.9h-.9zM438.3 186.1h.9v.9h-.9zM414.1 146.9h.9v.9h-.9zM444.0 179.7h.9v.9h-.9zM415.4 144.9h.9v.9h-.9zM407.4 125.9h.9v.9h-.9zM401.1 131.7h.9v.9h-.9zM428.8 187.0h.9v.9h-.9zM438.2 132.9h.9v.9h-.9zM395.8 140.5h.9v.9h-.9zM445.6 184.7h.9v.9h-.9zM442.2 144.5h.9v.9h-.9zM420.9 184.8h.9v.9h-.9zM456.5 150.8h.9v.9h-.9zM430.1 117.3h.9v.9h-.9zM439.1 154.5h.9v.9h-.9zM455.8 155.8h.9v.9h-.9zM415.3 144.1h.9v.9h-.9zM425.9 196.7h.9v.9h-.9zM442.6 134.2h.9v.9h-.9zM443.7 175.3h.9v.9h-.9zM437.1 176.0h.9v.9h-.9zM426.6 185.4h.9v.9h-.9zM401.8 154.6h.9v.9h-.9zM422.4 167.2h.9v.9h-.9zM419.6 154.7h.9v.9h-.9zM418.0 137.2h.9v.9h-.9zM412.4 158.3h.9v.9h-.9zM438.3 159.0h.9v.9h-.9zM416.3 168.3h.9v.9h-.9zM442.0 145.7h.9v.9h-.9zM434.2 125.3h.9v.9h-.9zM431.1 130.9h.9v.9h-.9zM403.6 139.4h.9v.9h-.9zM406.1 127.2h.9v.9h-.9zM420.5 159.2h.9v.9h-.9zM417.5 180.0h.9v.9h-.9zM428.8 134.2h.9v.9h-.9zM430.4 145.4h.9v.9h-.9zM412.8 141.1h.9v.9h-.9zM446.8 188.3h.9v.9h-.9zM437.4 148.1h.9v.9h-.9zM413.2 124.4h.9v.9h-.9zM447.8 206.0h.9v.9h-.9zM416.8 132.4h.9v.9h-.9zM439.9 125.1h.9v.9h-.9zM404.2 152.4h.9v.9h-.9zM420.5 189.4h.9v.9h-.9zM451.8 200.6h.9v.9h-.9zM429.4 188.2h.9v.9h-.9zM401.0 138.8h.9v.9h-.9zM447.1 189.0h.9v.9h-.9zM453.0 147.9h.9v.9h-.9zM420.9 166.8h.9v.9h-.9zM436.6 190.0h.9v.9h-.9zM428.9 198.8h.9v.9h-.9zM420.1 159.5h.9v.9h-.9zM439.3 143.3h.9v.9h-.9zM441.6 160.5h.9v.9h-.9zM449.0 149.7h.9v.9h-.9zM437.1 119.2h.9v.9h-.9zM414.9 139.3h.9v.9h-.9zM401.4 147.1h.9v.9h-.9zM443.0 179.1h.9v.9h-.9zM425.0 158.1h.9v.9h-.9zM416.7 170.6h.9v.9h-.9zM450.4 146.4h.9v.9h-.9zM415.4 143.4h.9v.9h-.9zM429.9 183.2h.9v.9h-.9zM416.7 128.4h.9v.9h-.9zM424.2 188.9h.9v.9h-.9zM442.7 177.3h.9v.9h-.9zM422.9 132.2h.9v.9h-.9zM400.3 135.7h.9v.9h-.9zM414.5 159.2h.9v.9h-.9zM420.4 180.1h.9v.9h-.9zM421.8 132.3h.9v.9h-.9zM430.4 198.4h.9v.9h-.9zM430.9 145.6h.9v.9h-.9zM397.4 143.5h.9v.9h-.9zM443.6 173.6h.9v.9h-.9zM427.0 118.4h.9v.9h-.9zM429.2 116.8h.9v.9h-.9zM448.0 188.4h.9v.9h-.9zM445.4 189.5h.9v.9h-.9zM408.4 145.2h.9v.9h-.9zM443.6 180.3h.9v.9h-.9zM431.6 122.1h.9v.9h-.9zM414.2 126.5h.9v.9h-.9zM441.7 183.0h.9v.9h-.9zM431.4 151.7h.9v.9h-.9zM432.3 174.3h.9v.9h-.9zM410.6 150.5h.9v.9h-.9zM409.6 145.2h.9v.9h-.9zM417.5 145.1h.9v.9h-.9zM427.1 167.2h.9v.9h-.9zM438.8 173.4h.9v.9h-.9zM418.7 121.4h.9v.9h-.9zM450.0 195.4h.9v.9h-.9zM404.7 147.2h.9v.9h-.9zM451.5 191.2h.9v.9h-.9zM405.5 127.6h.9v.9h-.9zM429.4 130.8h.9v.9h-.9zM437.6 123.2h.9v.9h-.9zM445.3 165.1h.9v.9h-.9zM423.4 148.2h.9v.9h-.9zM425.0 164.5h.9v.9h-.9zM429.0 151.1h.9v.9h-.9zM402.0 134.2h.9v.9h-.9zM436.6 170.3h.9v.9h-.9zM443.7 149.8h.9v.9h-.9zM408.1 140.2h.9v.9h-.9zM453.5 148.2h.9v.9h-.9zM410.5 129.0h.9v.9h-.9zM452.5 168.4h.9v.9h-.9zM424.9 125.0h.9v.9h-.9zM404.2 137.3h.9v.9h-.9zM427.8 169.2h.9v.9h-.9zM419.4 156.8h.9v.9h-.9zM417.1 181.7h.9v.9h-.9zM428.1 165.2h.9v.9h-.9zM401.0 135.1h.9v.9h-.9zM434.5 173.0h.9v.9h-.9zM454.0 167.3h.9v.9h-.9zM436.4 131.8h.9v.9h-.9zM448.8 158.5h.9v.9h-.9zM427.0 148.1h.9v.9h-.9zM449.9 198.9h.9v.9h-.9zM446.5 178.3h.9v.9h-.9zM400.0 135.2h.9v.9h-.9zM431.9 201.0h.9v.9h-.9zM432.2 131.9h.9v.9h-.9zM403.1 158.1h.9v.9h-.9zM437.6 175.1h.9v.9h-.9zM452.1 165.5h.9v.9h-.9zM421.6 181.5h.9v.9h-.9zM437.7 121.2h.9v.9h-.9zM426.1 195.9h.9v.9h-.9zM435.2 159.9h.9v.9h-.9zM431.6 162.5h.9v.9h-.9zM437.3 171.3h.9v.9h-.9zM429.9 185.4h.9v.9h-.9zM410.3 153.2h.9v.9h-.9zM426.8 139.1h.9v.9h-.9zM438.6 146.7h.9v.9h-.9zM400.1 148.4h.9v.9h-.9zM428.8 195.7h.9v.9h-.9zM445.9 175.2h.9v.9h-.9zM443.2 129.6h.9v.9h-.9zM446.8 203.1h.9v.9h-.9zM430.2 191.7h.9v.9h-.9zM446.1 142.0h.9v.9h-.9zM425.5 128.1h.9v.9h-.9zM402.9 139.2h.9v.9h-.9zM420.4 163.4h.9v.9h-.9zM416.9 182.1h.9v.9h-.9zM439.0 148.9h.9v.9h-.9zM413.4 155.3h.9v.9h-.9zM421.0 180.9h.9v.9h-.9zM408.9 137.9h.9v.9h-.9zM438.9 154.9h.9v.9h-.9zM418.4 174.4h.9v.9h-.9zM418.3 162.7h.9v.9h-.9zM430.7 145.3h.9v.9h-.9zM406.8 132.2h.9v.9h-.9zM436.1 118.0h.9v.9h-.9zM419.6 166.8h.9v.9h-.9zM432.4 147.3h.9v.9h-.9zM450.2 150.2h.9v.9h-.9zM430.6 133.6h.9v.9h-.9zM443.0 130.1h.9v.9h-.9zM458.1 160.5h.9v.9h-.9zM425.4 135.2h.9v.9h-.9zM435.0 181.2h.9v.9h-.9zM449.1 186.0h.9v.9h-.9zM439.2 193.1h.9v.9h-.9zM437.5 165.2h.9v.9h-.9zM439.1 153.2h.9v.9h-.9zM427.5 165.2h.9v.9h-.9zM421.0 179.2h.9v.9h-.9zM440.1 201.4h.9v.9h-.9zM429.9 147.9h.9v.9h-.9zM447.9 159.6h.9v.9h-.9zM441.0 148.6h.9v.9h-.9zM428.2 118.9h.9v.9h-.9zM427.8 131.2h.9v.9h-.9zM434.9 199.6h.9v.9h-.9zM421.3 141.3h.9v.9h-.9zM452.3 167.1h.9v.9h-.9zM445.0 140.8h.9v.9h-.9zM438.4 130.7h.9v.9h-.9zM417.3 122.9h.9v.9h-.9zM414.8 135.5h.9v.9h-.9zM434.8 145.2h.9v.9h-.9zM450.6 162.2h.9v.9h-.9zM410.6 134.2h.9v.9h-.9zM453.8 148.8h.9v.9h-.9zM443.0 140.0h.9v.9h-.9zM441.4 195.0h.9v.9h-.9zM439.7 158.3h.9v.9h-.9zM426.9 162.2h.9v.9h-.9zM450.5 179.9h.9v.9h-.9zM424.8 122.2h.9v.9h-.9zM447.3 189.2h.9v.9h-.9zM439.1 132.8h.9v.9h-.9zM414.6 164.0h.9v.9h-.9zM449.6 188.2h.9v.9h-.9zM431.3 127.5h.9v.9h-.9zM425.3 116.3h.9v.9h-.9zM414.1 154.2h.9v.9h-.9zM437.3 197.1h.9v.9h-.9zM442.1 162.1h.9v.9h-.9zM446.4 187.2h.9v.9h-.9zM411.7 132.2h.9v.9h-.9zM425.2 178.4h.9v.9h-.9zM401.4 145.7h.9v.9h-.9zM447.7 193.5h.9v.9h-.9zM437.0 128.6h.9v.9h-.9zM435.9 179.3h.9v.9h-.9zM446.0 162.9h.9v.9h-.9zM428.4 196.0h.9v.9h-.9zM427.6 179.0h.9v.9h-.9zM428.1 187.9h.9v.9h-.9zM401.1 139.1h.9v.9h-.9zM417.1 160.7h.9v.9h-.9zM421.3 147.6h.9v.9h-.9zM442.5 198.2h.9v.9h-.9zM406.6 146.6h.9v.9h-.9zM443.8 190.6h.9v.9h-.9zM405.2 137.4h.9v.9h-.9zM430.5 122.5h.9v.9h-.9zM446.7 141.6h.9v.9h-.9zM403.8 128.1h.9v.9h-.9zM446.6 165.6h.9v.9h-.9zM415.9 118.9h.9v.9h-.9zM442.2 162.2h.9v.9h-.9zM406.5 141.0h.9v.9h-.9zM428.3 175.5h.9v.9h-.9zM437.2 163.0h.9v.9h-.9zM421.1 146.2h.9v.9h-.9zM453.2 157.4h.9v.9h-.9zM438.1 185.3h.9v.9h-.9zM433.6 132.6h.9v.9h-.9zM441.0 182.5h.9v.9h-.9zM445.2 174.6h.9v.9h-.9zM429.3 121.9h.9v.9h-.9zM416.3 134.4h.9v.9h-.9zM456.7 166.9h.9v.9h-.9zM422.0 176.1h.9v.9h-.9zM421.5 117.1h.9v.9h-.9zM422.7 164.0h.9v.9h-.9zM431.4 123.4h.9v.9h-.9zM427.4 185.1h.9v.9h-.9zM443.1 150.5h.9v.9h-.9zM446.1 175.3h.9v.9h-.9zM428.6 171.4h.9v.9h-.9zM448.7 204.4h.9v.9h-.9zM422.9 153.9h.9v.9h-.9zM431.3 198.5h.9v.9h-.9zM458.0 163.9h.9v.9h-.9zM426.0 185.9h.9v.9h-.9zM401.9 157.7h.9v.9h-.9zM418.9 127.6h.9v.9h-.9zM416.9 163.7h.9v.9h-.9zM450.5 190.4h.9v.9h-.9zM401.0 135.9h.9v.9h-.9zM425.9 135.3h.9v.9h-.9zM432.1 127.1h.9v.9h-.9zM444.3 158.9h.9v.9h-.9zM433.5 163.2h.9v.9h-.9zM438.0 203.2h.9v.9h-.9zM435.0 184.6h.9v.9h-.9zM422.7 157.0h.9v.9h-.9zM453.1 142.7h.9v.9h-.9zM450.2 174.6h.9v.9h-.9zM448.9 144.7h.9v.9h-.9zM446.8 204.9h.9v.9h-.9zM411.4 141.6h.9v.9h-.9zM437.4 129.4h.9v.9h-.9zM439.8 163.2h.9v.9h-.9zM425.9 185.6h.9v.9h-.9zM423.3 157.3h.9v.9h-.9zM435.6 120.1h.9v.9h-.9zM408.3 130.9h.9v.9h-.9zM414.1 127.4h.9v.9h-.9zM422.1 156.1h.9v.9h-.9zM444.3 180.5h.9v.9h-.9zM429.1 151.1h.9v.9h-.9zM428.8 148.0h.9v.9h-.9zM444.8 159.4h.9v.9h-.9zM425.9 183.5h.9v.9h-.9zM418.5 177.7h.9v.9h-.9zM422.5 171.2h.9v.9h-.9zM442.2 181.9h.9v.9h-.9zM428.0 148.9h.9v.9h-.9zM445.4 150.4h.9v.9h-.9zM439.1 149.4h.9v.9h-.9zM453.9 163.8h.9v.9h-.9zM421.6 149.1h.9v.9h-.9zM421.0 193.8h.9v.9h-.9zM426.9 135.4h.9v.9h-.9zM417.3 168.5h.9v.9h-.9zM429.8 145.2h.9v.9h-.9zM443.3 148.6h.9v.9h-.9zM450.3 166.3h.9v.9h-.9zM439.6 166.0h.9v.9h-.9zM434.9 152.9h.9v.9h-.9zM435.4 153.3h.9v.9h-.9zM417.1 177.3h.9v.9h-.9zM422.5 152.4h.9v.9h-.9zM419.8 157.5h.9v.9h-.9zM399.2 151.7h.9v.9h-.9zM428.0 189.5h.9v.9h-.9zM423.6 191.1h.9v.9h-.9zM451.1 166.8h.9v.9h-.9zM443.3 172.9h.9v.9h-.9zM396.8 146.0h.9v.9h-.9zM424.0 158.2h.9v.9h-.9zM428.9 138.6h.9v.9h-.9zM420.3 130.5h.9v.9h-.9zM442.0 199.4h.9v.9h-.9zM456.3 150.0h.9v.9h-.9zM438.2 178.9h.9v.9h-.9zM447.6 190.5h.9v.9h-.9zM436.6 143.5h.9v.9h-.9zM430.1 119.1h.9v.9h-.9zM437.8 133.3h.9v.9h-.9zM439.7 130.4h.9v.9h-.9zM425.2 191.7h.9v.9h-.9zM424.0 128.1h.9v.9h-.9zM436.8 133.5h.9v.9h-.9zM425.4 192.7h.9v.9h-.9zM427.9 155.0h.9v.9h-.9zM423.9 142.1h.9v.9h-.9zM414.6 122.1h.9v.9h-.9zM431.6 119.0h.9v.9h-.9zM438.7 127.1h.9v.9h-.9zM445.0 180.2h.9v.9h-.9zM454.4 144.2h.9v.9h-.9zM447.7 153.7h.9v.9h-.9zM402.9 130.9h.9v.9h-.9zM435.2 151.8h.9v.9h-.9zM415.4 117.0h.9v.9h-.9zM433.5 150.1h.9v.9h-.9zM420.6 181.6h.9v.9h-.9zM420.5 135.9h.9v.9h-.9zM422.1 170.8h.9v.9h-.9zM410.4 152.5h.9v.9h-.9zM427.3 137.1h.9v.9h-.9zM416.7 168.0h.9v.9h-.9zM419.4 167.0h.9v.9h-.9zM436.5 145.6h.9v.9h-.9zM413.2 132.4h.9v.9h-.9zM442.2 181.2h.9v.9h-.9zM426.3 156.3h.9v.9h-.9zM424.3 197.0h.9v.9h-.9zM411.4 150.5h.9v.9h-.9zM400.2 135.7h.9v.9h-.9zM416.5 166.4h.9v.9h-.9zM415.8 158.4h.9v.9h-.9zM452.0 149.2h.9v.9h-.9zM449.1 167.7h.9v.9h-.9zM439.2 193.1h.9v.9h-.9zM422.6 161.6h.9v.9h-.9zM433.4 158.3h.9v.9h-.9zM420.9 125.7h.9v.9h-.9zM396.2 144.9h.9v.9h-.9zM399.4 142.5h.9v.9h-.9zM412.7 134.8h.9v.9h-.9zM447.9 140.6h.9v.9h-.9zM432.9 194.2h.9v.9h-.9zM434.1 154.6h.9v.9h-.9zM429.3 147.7h.9v.9h-.9zM420.5 186.3h.9v.9h-.9zM440.9 130.5h.9v.9h-.9zM442.0 150.2h.9v.9h-.9zM440.5 153.0h.9v.9h-.9zM433.2 137.4h.9v.9h-.9zM448.6 175.9h.9v.9h-.9zM427.5 142.0h.9v.9h-.9zM440.8 176.9h.9v.9h-.9zM444.8 198.4h.9v.9h-.9zM422.7 129.5h.9v.9h-.9zM411.6 153.0h.9v.9h-.9zM415.8 173.5h.9v.9h-.9zM449.5 166.8h.9v.9h-.9zM403.1 148.8h.9v.9h-.9zM452.1 162.2h.9v.9h-.9zM422.5 186.6h.9v.9h-.9zM443.9 162.8h.9v.9h-.9zM426.6 169.0h.9v.9h-.9zM445.7 138.7h.9v.9h-.9zM418.0 169.8h.9v.9h-.9zM438.3 127.9h.9v.9h-.9zM430.3 200.8h.9v.9h-.9zM434.8 150.2h.9v.9h-.9zM406.0 137.7h.9v.9h-.9zM420.7 181.0h.9v.9h-.9zM425.5 134.8h.9v.9h-.9zM449.1 191.1h.9v.9h-.9zM418.2 167.3h.9v.9h-.9zM403.5 136.3h.9v.9h-.9zM421.8 192.5h.9v.9h-.9zM429.3 166.2h.9v.9h-.9zM431.8 142.5h.9v.9h-.9zM455.3 147.7h.9v.9h-.9zM429.9 119.0h.9v.9h-.9zM433.3 173.1h.9v.9h-.9zM433.2 192.0h.9v.9h-.9zM422.5 129.9h.9v.9h-.9zM441.5 188.9h.9v.9h-.9zM418.3 116.7h.9v.9h-.9zM439.0 171.0h.9v.9h-.9zM429.5 147.7h.9v.9h-.9zM410.4 143.0h.9v.9h-.9zM455.1 147.7h.9v.9h-.9zM449.3 204.2h.9v.9h-.9zM400.3 132.0h.9v.9h-.9zM448.3 201.7h.9v.9h-.9zM418.0 165.5h.9v.9h-.9zM428.3 170.8h.9v.9h-.9zM404.6 141.2h.9v.9h-.9zM428.8 166.1h.9v.9h-.9zM427.8 147.7h.9v.9h-.9zM407.5 123.3h.9v.9h-.9zM423.7 173.0h.9v.9h-.9zM418.2 135.8h.9v.9h-.9zM398.7 135.0h.9v.9h-.9zM432.9 152.2h.9v.9h-.9zM416.0 173.2h.9v.9h-.9zM456.2 164.2h.9v.9h-.9zM438.1 170.8h.9v.9h-.9zM405.1 153.7h.9v.9h-.9zM422.4 138.8h.9v.9h-.9zM438.9 153.3h.9v.9h-.9zM434.1 119.1h.9v.9h-.9zM445.4 152.2h.9v.9h-.9zM419.5 117.2h.9v.9h-.9zM398.9 141.6h.9v.9h-.9zM429.1 139.5h.9v.9h-.9zM431.8 201.8h.9v.9h-.9zM451.4 196.2h.9v.9h-.9zM421.3 135.2h.9v.9h-.9zM435.8 136.7h.9v.9h-.9zM427.5 144.9h.9v.9h-.9zM427.3 184.4h.9v.9h-.9zM423.0 163.4h.9v.9h-.9zM409.5 147.0h.9v.9h-.9zM425.8 169.8h.9v.9h-.9zM438.3 156.6h.9v.9h-.9zM428.9 147.2h.9v.9h-.9zM445.3 192.0h.9v.9h-.9zM457.1 157.1h.9v.9h-.9zM416.0 150.0h.9v.9h-.9zM447.5 171.2h.9v.9h-.9zM440.3 158.1h.9v.9h-.9zM431.5 141.5h.9v.9h-.9zM447.3 191.1h.9v.9h-.9zM441.0 175.4h.9v.9h-.9zM422.1 151.7h.9v.9h-.9zM443.5 185.6h.9v.9h-.9zM435.5 146.7h.9v.9h-.9zM414.2 124.7h.9v.9h-.9zM408.3 129.2h.9v.9h-.9zM436.5 124.8h.9v.9h-.9zM420.5 150.6h.9v.9h-.9zM438.5 154.2h.9v.9h-.9zM420.1 146.9h.9v.9h-.9zM431.4 157.7h.9v.9h-.9zM442.9 164.5h.9v.9h-.9zM419.2 158.1h.9v.9h-.9zM408.4 143.2h.9v.9h-.9zM439.1 129.6h.9v.9h-.9zM428.9 116.7h.9v.9h-.9zM448.0 150.8h.9v.9h-.9zM418.3 174.0h.9v.9h-.9zM415.6 168.9h.9v.9h-.9zM430.7 132.5h.9v.9h-.9zM446.0 193.5h.9v.9h-.9zM424.0 166.1h.9v.9h-.9zM415.0 170.6h.9v.9h-.9zM444.0 188.4h.9v.9h-.9zM435.2 183.1h.9v.9h-.9zM442.9 128.8h.9v.9h-.9zM472.7 182.6h.9v.9h-.9zM454.6 174.3h.9v.9h-.9zM461.3 172.0h.9v.9h-.9zM459.1 190.8h.9v.9h-.9zM478.6 183.2h.9v.9h-.9zM470.8 169.3h.9v.9h-.9zM455.9 177.1h.9v.9h-.9zM454.6 185.2h.9v.9h-.9zM455.7 192.3h.9v.9h-.9zM457.9 199.7h.9v.9h-.9zM454.1 189.3h.9v.9h-.9zM460.9 192.8h.9v.9h-.9zM474.5 181.2h.9v.9h-.9zM452.4 192.0h.9v.9h-.9zM455.7 195.9h.9v.9h-.9zM480.4 187.2h.9v.9h-.9zM475.7 178.3h.9v.9h-.9zM469.7 191.5h.9v.9h-.9zM457.7 185.9h.9v.9h-.9zM461.6 190.0h.9v.9h-.9zM471.9 182.0h.9v.9h-.9zM467.5 172.5h.9v.9h-.9zM469.5 173.9h.9v.9h-.9zM457.3 174.2h.9v.9h-.9zM467.5 179.2h.9v.9h-.9zM466.6 176.6h.9v.9h-.9zM454.3 173.0h.9v.9h-.9zM461.5 191.0h.9v.9h-.9zM459.0 176.0h.9v.9h-.9zM467.6 184.3h.9v.9h-.9zM469.8 176.9h.9v.9h-.9zM463.6 203.9h.9v.9h-.9zM455.5 172.9h.9v.9h-.9zM467.8 184.7h.9v.9h-.9zM465.6 171.9h.9v.9h-.9zM457.9 171.7h.9v.9h-.9zM457.4 182.7h.9v.9h-.9zM471.9 175.6h.9v.9h-.9zM463.8 172.8h.9v.9h-.9zM455.2 171.7h.9v.9h-.9zM464.8 174.5h.9v.9h-.9zM472.9 180.7h.9v.9h-.9zM473.3 175.0h.9v.9h-.9zM459.0 173.2h.9v.9h-.9zM457.9 184.7h.9v.9h-.9zM476.5 194.4h.9v.9h-.9zM458.9 179.9h.9v.9h-.9zM468.1 175.2h.9v.9h-.9zM455.1 176.4h.9v.9h-.9zM462.4 171.7h.9v.9h-.9zM459.9 196.5h.9v.9h-.9zM458.3 192.9h.9v.9h-.9zM461.6 198.9h.9v.9h-.9zM462.3 179.6h.9v.9h-.9zM452.2 174.2h.9v.9h-.9zM456.2 192.3h.9v.9h-.9zM464.4 172.0h.9v.9h-.9zM452.4 188.1h.9v.9h-.9zM456.5 186.0h.9v.9h-.9zM462.6 176.6h.9v.9h-.9zM459.5 184.2h.9v.9h-.9zM465.2 184.4h.9v.9h-.9zM460.7 179.9h.9v.9h-.9zM457.2 183.1h.9v.9h-.9zM459.0 184.5h.9v.9h-.9zM460.4 201.7h.9v.9h-.9zM455.1 179.0h.9v.9h-.9zM460.4 174.3h.9v.9h-.9zM467.1 179.8h.9v.9h-.9zM456.8 191.5h.9v.9h-.9zM453.5 188.3h.9v.9h-.9zM456.3 189.1h.9v.9h-.9zM453.3 178.4h.9v.9h-.9zM467.5 169.2h.9v.9h-.9zM459.3 193.3h.9v.9h-.9zM468.0 181.6h.9v.9h-.9zM459.9 187.1h.9v.9h-.9zM460.7 185.3h.9v.9h-.9zM464.5 170.6h.9v.9h-.9zM471.9 182.0h.9v.9h-.9zM461.6 197.8h.9v.9h-.9zM469.6 175.0h.9v.9h-.9zM459.7 180.6h.9v.9h-.9zM474.3 180.4h.9v.9h-.9zM458.7 175.4h.9v.9h-.9zM456.8 195.7h.9v.9h-.9zM453.1 172.0h.9v.9h-.9zM473.5 184.5h.9v.9h-.9zM460.4 179.6h.9v.9h-.9zM452.5 189.9h.9v.9h-.9zM454.1 181.1h.9v.9h-.9zM452.7 187.4h.9v.9h-.9zM475.7 177.9h.9v.9h-.9zM461.1 170.8h.9v.9h-.9zM452.1 192.3h.9v.9h-.9zM465.2 182.9h.9v.9h-.9zM453.4 181.1h.9v.9h-.9zM473.6 183.2h.9v.9h-.9zM465.2 203.5h.9v.9h-.9zM453.6 193.5h.9v.9h-.9zM473.6 169.9h.9v.9h-.9zM457.5 183.6h.9v.9h-.9zM460.7 189.2h.9v.9h-.9zM456.5 196.3h.9v.9h-.9zM472.2 184.7h.9v.9h-.9zM462.5 177.0h.9v.9h-.9zM459.8 200.5h.9v.9h-.9zM466.0 188.0h.9v.9h-.9zM471.7 170.5h.9v.9h-.9zM474.1 202.3h.9v.9h-.9zM451.6 182.3h.9v.9h-.9zM456.3 198.6h.9v.9h-.9zM465.0 171.6h.9v.9h-.9zM473.9 172.0h.9v.9h-.9zM459.9 178.2h.9v.9h-.9zM454.3 182.2h.9v.9h-.9zM462.8 178.2h.9v.9h-.9zM471.9 186.1h.9v.9h-.9zM460.1 193.7h.9v.9h-.9zM455.2 187.6h.9v.9h-.9zM451.6 191.4h.9v.9h-.9zM469.3 190.7h.9v.9h-.9zM461.0 178.6h.9v.9h-.9zM463.7 189.2h.9v.9h-.9zM472.5 179.1h.9v.9h-.9zM455.3 183.2h.9v.9h-.9zM467.3 181.8h.9v.9h-.9zM457.7 174.8h.9v.9h-.9zM457.7 172.4h.9v.9h-.9zM471.1 176.6h.9v.9h-.9zM451.9 175.4h.9v.9h-.9zM453.8 171.4h.9v.9h-.9zM451.1 189.0h.9v.9h-.9zM476.2 181.1h.9v.9h-.9zM456.8 185.7h.9v.9h-.9zM460.7 170.2h.9v.9h-.9zM467.4 179.1h.9v.9h-.9zM463.6 177.7h.9v.9h-.9zM470.9 183.8h.9v.9h-.9zM458.0 175.6h.9v.9h-.9zM460.5 198.1h.9v.9h-.9zM454.0 173.7h.9v.9h-.9zM454.3 180.5h.9v.9h-.9zM473.5 177.4h.9v.9h-.9zM472.0 176.3h.9v.9h-.9zM469.8 171.2h.9v.9h-.9zM464.4 187.6h.9v.9h-.9zM456.7 190.4h.9v.9h-.9zM468.9 182.4h.9v.9h-.9zM458.3 192.0h.9v.9h-.9zM478.1 183.3h.9v.9h-.9zM455.8 193.7h.9v.9h-.9zM472.0 183.0h.9v.9h-.9zM467.8 185.6h.9v.9h-.9zM453.0 194.1h.9v.9h-.9zM457.3 184.8h.9v.9h-.9zM459.2 187.8h.9v.9h-.9zM454.0 193.9h.9v.9h-.9zM458.6 185.0h.9v.9h-.9zM463.5 186.3h.9v.9h-.9zM460.9 199.9h.9v.9h-.9zM476.1 183.0h.9v.9h-.9zM469.0 177.2h.9v.9h-.9zM467.2 204.4h.9v.9h-.9zM464.3 202.8h.9v.9h-.9zM461.1 178.5h.9v.9h-.9zM460.5 186.9h.9v.9h-.9zM462.3 200.5h.9v.9h-.9zM454.2 184.2h.9v.9h-.9zM452.9 182.0h.9v.9h-.9zM458.9 181.4h.9v.9h-.9zM474.8 177.5h.9v.9h-.9zM456.1 197.2h.9v.9h-.9zM456.0 175.8h.9v.9h-.9zM468.9 172.2h.9v.9h-.9zM476.7 197.7h.9v.9h-.9zM474.4 181.9h.9v.9h-.9zM466.0 169.5h.9v.9h-.9zM464.4 183.3h.9v.9h-.9zM472.7 174.3h.9v.9h-.9zM472.8 183.7h.9v.9h-.9zM478.8 185.5h.9v.9h-.9zM473.5 182.8h.9v.9h-.9zM460.0 178.8h.9v.9h-.9zM454.9 177.5h.9v.9h-.9zM460.0 178.7h.9v.9h-.9zM469.9 184.7h.9v.9h-.9zM453.8 183.9h.9v.9h-.9zM458.8 189.6h.9v.9h-.9zM458.7 169.3h.9v.9h-.9zM460.8 184.2h.9v.9h-.9zM463.8 177.1h.9v.9h-.9zM460.0 186.0h.9v.9h-.9zM455.5 195.1h.9v.9h-.9zM465.4 194.4h.9v.9h-.9zM473.8 177.3h.9v.9h-.9zM455.6 183.8h.9v.9h-.9zM457.6 179.5h.9v.9h-.9zM467.6 171.6h.9v.9h-.9zM469.5 173.2h.9v.9h-.9zM460.6 175.9h.9v.9h-.9zM454.3 178.1h.9v.9h-.9zM467.8 169.7h.9v.9h-.9zM457.4 196.8h.9v.9h-.9zM477.2 185.8h.9v.9h-.9zM454.4 197.0h.9v.9h-.9zM463.5 174.0h.9v.9h-.9zM456.6 188.9h.9v.9h-.9zM459.8 183.7h.9v.9h-.9zM467.8 176.8h.9v.9h-.9zM464.3 173.0h.9v.9h-.9zM469.9 176.6h.9v.9h-.9zM468.8 172.2h.9v.9h-.9zM456.1 174.9h.9v.9h-.9zM463.3 170.7h.9v.9h-.9zM454.8 173.0h.9v.9h-.9zM468.5 168.4h.9v.9h-.9zM454.9 187.4h.9v.9h-.9zM456.4 193.6h.9v.9h-.9zM471.4 175.2h.9v.9h-.9zM470.3 181.6h.9v.9h-.9zM475.7 190.7h.9v.9h-.9zM469.8 175.8h.9v.9h-.9zM459.2 171.2h.9v.9h-.9zM451.4 183.1h.9v.9h-.9zM463.8 203.3h.9v.9h-.9zM456.1 185.5h.9v.9h-.9zM464.3 171.1h.9v.9h-.9zM453.3 181.0h.9v.9h-.9zM465.0 182.2h.9v.9h-.9zM460.7 194.2h.9v.9h-.9zM470.3 175.3h.9v.9h-.9zM456.1 197.8h.9v.9h-.9zM463.6 184.5h.9v.9h-.9zM456.9 178.5h.9v.9h-.9zM465.8 179.6h.9v.9h-.9zM464.9 184.4h.9v.9h-.9zM455.8 181.9h.9v.9h-.9zM459.6 189.5h.9v.9h-.9zM462.3 174.5h.9v.9h-.9zM473.4 170.8h.9v.9h-.9zM473.5 191.0h.9v.9h-.9zM455.2 177.0h.9v.9h-.9zM470.6 183.9h.9v.9h-.9zM467.7 170.3h.9v.9h-.9zM471.5 177.0h.9v.9h-.9zM471.6 192.1h.9v.9h-.9zM461.2 194.4h.9v.9h-.9zM472.6 180.0h.9v.9h-.9zM458.8 188.1h.9v.9h-.9zM462.4 190.9h.9v.9h-.9zM460.3 182.4h.9v.9h-.9zM461.0 179.0h.9v.9h-.9zM481.5 189.9h.9v.9h-.9zM469.4 181.6h.9v.9h-.9zM459.3 186.4h.9v.9h-.9zM469.2 185.0h.9v.9h-.9zM460.2 183.2h.9v.9h-.9zM453.7 188.4h.9v.9h-.9zM467.4 181.7h.9v.9h-.9zM473.0 179.5h.9v.9h-.9zM451.8 182.2h.9v.9h-.9zM465.2 178.6h.9v.9h-.9zM455.4 178.6h.9v.9h-.9zM471.1 172.1h.9v.9h-.9zM453.6 180.4h.9v.9h-.9zM465.0 175.3h.9v.9h-.9zM461.2 200.6h.9v.9h-.9zM474.0 176.7h.9v.9h-.9zM456.8 187.0h.9v.9h-.9zM482.3 190.6h.9v.9h-.9zM456.4 178.8h.9v.9h-.9zM461.3 177.3h.9v.9h-.9zM455.7 194.2h.9v.9h-.9zM472.5 174.4h.9v.9h-.9zM459.2 196.4h.9v.9h-.9zM459.1 195.5h.9v.9h-.9zM460.0 200.0h.9v.9h-.9zM477.7 188.0h.9v.9h-.9zM462.8 201.9h.9v.9h-.9zM460.1 200.1h.9v.9h-.9zM472.1 190.0h.9v.9h-.9zM459.4 182.9h.9v.9h-.9zM477.9 198.6h.9v.9h-.9zM462.2 169.9h.9v.9h-.9zM463.8 171.6h.9v.9h-.9zM455.1 184.9h.9v.9h-.9zM466.6 169.8h.9v.9h-.9zM471.4 174.7h.9v.9h-.9zM458.8 182.2h.9v.9h-.9zM455.0 194.2h.9v.9h-.9zM458.5 187.2h.9v.9h-.9zM461.0 178.9h.9v.9h-.9zM451.9 185.8h.9v.9h-.9zM463.4 182.3h.9v.9h-.9zM452.2 175.4h.9v.9h-.9zM475.1 191.3h.9v.9h-.9zM468.0 196.7h.9v.9h-.9zM466.4 179.9h.9v.9h-.9zM461.8 185.7h.9v.9h-.9zM475.2 179.2h.9v.9h-.9zM475.2 189.0h.9v.9h-.9zM455.4 171.2h.9v.9h-.9zM460.8 201.7h.9v.9h-.9zM465.4 172.0h.9v.9h-.9zM461.0 195.0h.9v.9h-.9zM469.4 180.3h.9v.9h-.9zM466.6 171.4h.9v.9h-.9zM467.4 178.8h.9v.9h-.9zM459.1 181.9h.9v.9h-.9zM471.1 182.4h.9v.9h-.9zM477.2 183.4h.9v.9h-.9zM456.4 185.8h.9v.9h-.9zM468.3 178.9h.9v.9h-.9zM461.1 186.7h.9v.9h-.9zM458.2 187.1h.9v.9h-.9zM474.2 181.9h.9v.9h-.9zM458.7 172.9h.9v.9h-.9zM451.9 177.3h.9v.9h-.9zM452.1 184.4h.9v.9h-.9zM467.2 171.1h.9v.9h-.9zM466.5 175.8h.9v.9h-.9z" fill="#2CA02C"/>
<path d="M417.9 120.4h.9v.9h-.9zM436.4 149.6h.9v.9h-.9zM428.9 128.6h.9v.9h-.9zM437.7 147.6h.9v.9h-.9zM455.4 161.7h.9v.9h-.9zM434.7 162.0h.9v.9h-.9zM440.1 157.1h.9v.9h-.9zM411.2 127.0h.9v.9h-.9zM419.0 159.1h.9v.9h-.9zM443.9 161.8h.9v.9h-.9zM432.5 128.2h.9v.9h-.9zM410.0 139.7h.9v.9h-.9zM421.1 153.5h.9v.9h-.9zM434.9 155.2h.9v.9h-.9zM422.7 188.3h.9v.9h-.9zM408.9 157.9h.9v.9h-.9zM446.8 179.5h.9v.9h-.9zM417.9 159.1h.9v.9h-.9zM442.1 197.4h.9v.9h-.9zM433.6 147.1h.9v.9h-.9zM428.3 156.5h.9v.9h-.9zM457.9 161.0h.9v.9h-.9zM433.8 168.6h.9v.9h-.9zM421.6 193.1h.9v.9h-.9zM409.6 123.2h.9v.9h-.9zM450.8 191.4h.9v.9h-.9zM412.7 162.6h.9v.9h-.9zM431.2 125.7h.9v.9h-.9zM440.5 154.8h.9v.9h-.9zM422.5 132.7h.9v.9h-.9zM434.1 124.3h.9v.9h-.9zM416.3 129.0h.9v.9h-.9zM439.8 175.7h.9v.9h-.9zM441.4 151.6h.9v.9h-.9zM425.2 182.1h.9v.9h-.9zM456.1 164.2h.9v.9h-.9zM439.3 149.1h.9v.9h-.9zM422.9 160.7h.9v.9h-.9zM451.4 166.7h.9v.9h-.9zM436.6 135.8h.9v.9h-.9zM451.8 170.6h.9v.9h-.9zM430.6 195.2h.9v.9h-.9zM438.7 185.1h.9v.9h-.9zM430.8 191.4h.9v.9h-.9zM440.1 170.7h.9v.9h-.9zM410.1 149.1h.9v.9h-.9zM425.0 183.9h.9v.9h-.9zM403.1 127.7h.9v.9h-.9zM452.2 154.1h.9v.9h-.9zM406.1 144.4h.9v.9h-.9zM447.5 188.1h.9v.9h-.9zM401.2 132.3h.9v.9h-.9zM445.4 173.7h.9v.9h-.9zM430.6 134.1h.9v.9h-.9zM449.8 157.1h.9v.9h-.9zM421.8 143.7h.9v.9h-.9zM440.9 187.6h.9v.9h-.9zM418.1 155.2h.9v.9h-.9zM429.6 155.9h.9v.9h-.9zM420.4 168.0h.9v.9h-.9zM425.5 174.0h.9v.9h-.9zM441.6 187.9h.9v.9h-.9zM437.9 143.6h.9v.9h-.9zM446.1 156.1h.9v.9h-.9zM440.6 137.2h.9v.9h-.9zM431.8 197.8h.9v.9h-.9zM435.0 198.8h.9v.9h-.9zM404.8 137.5h.9v.9h-.9zM429.0 166.5h.9v.9h-.9zM411.6 120.3h.9v.9h-.9zM422.4 117.5h.9v.9h-.9zM417.3 172.7h.9v.9h-.9zM446.0 151.3h.9v.9h-.9zM426.7 180.3h.9v.9h-.9zM397.0 143.1h.9v.9h-.9zM436.5 174.3h.9v.9h-.9zM419.9 154.4h.9v.9h-.9zM423.2 147.4h.9v.9h-.9zM434.7 186.7h.9v.9h-.9zM412.6 138.8h.9v.9h-.9zM455.5 158.6h.9v.9h-.9zM433.6 175.7h.9v.9h-.9zM439.6 160.6h.9v.9h-.9zM417.3 178.8h.9v.9h-.9zM421.9 128.6h.9v.9h-.9zM405.7 146.2h.9v.9h-.9zM433.6 125.5h.9v.9h-.9zM437.1 123.3h.9v.9h-.9zM418.5 159.1h.9v.9h-.9zM435.9 125.5h.9v.9h-.9zM447.0 144.3h.9v.9h-.9zM420.0 157.4h.9v.9h-.9zM397.5 138.2h.9v.9h-.9zM426.5 185.3h.9v.9h-.9zM426.3 118.1h.9v.9h-.9zM413.4 163.9h.9v.9h-.9zM416.1 154.1h.9v.9h-.9zM435.4 179.6h.9v.9h-.9zM418.7 164.2h.9v.9h-.9zM437.6 162.3h.9v.9h-.9zM436.3 169.3h.9v.9h-.9zM448.7 138.5h.9v.9h-.9zM402.3 131.2h.9v.9h-.9zM450.7 155.6h.9v.9h-.9zM412.0 160.2h.9v.9h-.9zM428.4 185.0h.9v.9h-.9zM440.0 157.9h.9v.9h-.9zM451.2 139.4h.9v.9h-.9zM427.4 178.5h.9v.9h-.9zM422.9 183.8h.9v.9h-.9zM414.5 132.2h.9v.9h-.9zM456.5 149.4h.9v.9h-.9zM421.2 128.7h.9v.9h-.9zM431.5 127.6h.9v.9h-.9zM408.4 156.9h.9v.9h-.9zM430.2 190.7h.9v.9h-.9zM413.0 130.6h.9v.9h-.9zM418.7 179.9h.9v.9h-.9zM437.6 141.6h.9v.9h-.9zM458.5 187.1h.9v.9h-.9zM456.0 185.5h.9v.9h-.9zM468.4 205.2h.9v.9h-.9zM461.1 184.5h.9v.9h-.9zM458.4 180.9h.9v.9h-.9zM469.2 179.3h.9v.9h-.9zM472.6 169.1h.9v.9h-.9zM458.7 194.4h.9v.9h-.9zM457.0 183.7h.9v.9h-.9zM456.7 174.3h.9v.9h-.9zM478.3 182.8h.9v.9h-.9zM474.9 183.7h.9v.9h-.9zM459.4 181.7h.9v.9h-.9zM459.9 192.5h.9v.9h-.9zM467.1 205.1h.9v.9h-.9zM472.3 176.3h.9v.9h-.9zM470.0 171.6h.9v.9h-.9zM452.8 176.2h.9v.9h-.9zM469.2 171.5h.9v.9h-.9zM470.7 176.2h.9v.9h-.9zM459.4 182.9h.9v.9h-.9zM455.7 174.5h.9v.9h-.9zM453.5 192.1h.9v.9h-.9zM462.9 177.7h.9v.9h-.9zM462.4 179.8h.9v.9h-.9zM453.8 194.5h.9v.9h-.9zM461.4 203.1h.9v.9h-.9zM466.0 184.0h.9v.9h-.9zM467.2 175.0h.9v.9h-.9zM463.9 182.2h.9v.9h-.9zM465.9 183.0h.9v.9h-.9zM460.1 176.3h.9v.9h-.9zM455.8 186.1h.9v.9h-.9zM458.4 182.0h.9v.9h-.9zM460.9 170.1h.9v.9h-.9zM458.9 171.5h.9v.9h-.9zM459.4 188.9h.9v.9h-.9zM455.4 170.9h.9v.9h-.9zM466.9 173.9h.9v.9h-.9zM460.0 181.9h.9v.9h-.9zM478.2 183.5h.9v.9h-.9zM463.0 176.3h.9v.9h-.9zM459.8 201.3h.9v.9h-.9zM452.0 189.0h.9v.9h-.9zM460.9 171.3h.9v.9h-.9zM463.7 179.8h.9v.9h-.9zM479.8 187.8h.9v.9h-.9zM454.9 197.7h.9v.9h-.9zM459.8 172.5h.9v.9h-.9zM456.9 173.3h.9v.9h-.9zM460.9 170.1h.9v.9h-.9zM456.6 186.4h.9v.9h-.9zM452.8 173.2h.9v.9h-.9zM458.2 175.0h.9v.9h-.9zM457.8 189.9h.9v.9h-.9zM465.4 183.0h.9v.9h-.9zM461.6 185.3h.9v.9h-.9zM457.7 186.5h.9v.9h-.9zM454.7 189.6h.9v.9h-.9zM476.8 181.3h.9v.9h-.9zM456.2 181.5h.9v.9h-.9zM459.5 193.3h.9v.9h-.9zM465.5 181.9h.9v.9h-.9zM453.9 179.7h.9v.9h-.9zM459.7 178.4h.9v.9h-.9zM461.0 175.6h.9v.9h-.9zM465.0 204.0h.9v.9h-.9zM456.7 193.4h.9v.9h-.9zM461.4 174.0h.9v.9h-.9zM456.7 172.7h.9v.9h-.9zM458.4 194.9h.9v.9h-.9zM456.2 175.7h.9v.9h-.9zM469.4 182.2h.9v.9h-.9zM464.2 201.9h.9v.9h-.9zM469.8 174.8h.9v.9h-.9zM457.4 198.5h.9v.9h-.9zM480.8 186.3h.9v.9h-.9zM469.3 178.4h.9v.9h-.9zM472.6 172.3h.9v.9h-.9zM471.9 181.5h.9v.9h-.9zM453.8 195.9h.9v.9h-.9zM453.3 191.4h.9v.9h-.9zM456.8 186.9h.9v.9h-.9zM462.0 181.2h.9v.9h-.9zM457.9 179.6h.9v.9h-.9zM456.9 197.5h.9v.9h-.9zM473.5 182.0h.9v.9h-.9zM472.1 172.9h.9v.9h-.9zM476.3 182.4h.9v.9h-.9zM456.1 181.3h.9v.9h-.9zM451.6 187.0h.9v.9h-.9zM460.7 170.7h.9v.9h-.9zM470.8 176.5h.9v.9h-.9zM475.3 179.8h.9v.9h-.9zM472.2 183.8h.9v.9h-.9zM472.4 176.3h.9v.9h-.9zM476.2 181.4h.9v.9h-.9zM453.5 179.9h.9v.9h-.9zM458.5 195.1h.9v.9h-.9zM461.6 184.8h.9v.9h-.9zM451.8 177.9h.9v.9h-.9zM462.5 177.6h.9v.9h-.9zM462.0 186.8h.9v.9h-.9zM458.3 171.4h.9v.9h-.9zM469.0 175.5h.9v.9h-.9zM461.0 198.3h.9v.9h-.9zM459.9 178.7h.9v.9h-.9zM466.8 172.3h.9v.9h-.9zM454.4 178.6h.9v.9h-.9zM462.4 181.8h.9v.9h-.9zM455.8 173.3h.9v.9h-.9zM454.8 186.5h.9v.9h-.9zM461.0 184.8h.9v.9h-.9zM463.9 183.8h.9v.9h-.9zM465.9 179.2h.9v.9h-.9zM479.9 187.5h.9v.9h-.9zM454.9 196.8h.9v.9h-.9zM460.6 171.1h.9v.9h-.9zM454.8 195.6h.9v.9h-.9zM465.7 176.0h.9v.9h-.9zM465.6 174.7h.9v.9h-.9zM453.3 174.8h.9v.9h-.9zM453.0 175.4h.9v.9h-.9zM459.9 181.2h.9v.9h-.9zM460.7 194.5h.9v.9h-.9zM460.9 176.1h.9v.9h-.9zM470.9 174.5h.9v.9h-.9zM464.4 174.1h.9v.9h-.9zM470.5 169.3h.9v.9h-.9zM454.2 187.5h.9v.9h-.9zM458.8 188.3h.9v.9h-.9zM454.1 191.0h.9v.9h-.9zM456.6 197.8h.9v.9h-.9zM452.9 172.5h.9v.9h-.9zM455.5 198.0h.9v.9h-.9zM465.3 187.0h.9v.9h-.9zM468.8 168.6h.9v.9h-.9zM456.2 183.3h.9v.9h-.9zM470.7 173.4h.9v.9h-.9zM470.9 171.7h.9v.9h-.9zM454.3 173.9h.9v.9h-.9zM458.8 184.0h.9v.9h-.9zM453.8 192.7h.9v.9h-.9zM469.3 181.4h.9v.9h-.9zM452.1 187.9h.9v.9h-.9zM454.6 188.5h.9v.9h-.9zM457.5 182.5h.9v.9h-.9zM469.1 184.6h.9v.9h-.9zM456.2 174.4h.9v.9h-.9zM463.3 186.0h.9v.9h-.9zM454.6 175.0h.9v.9h-.9zM471.5 182.8h.9v.9h-.9zM461.2 190.9h.9v.9h-.9zM465.4 182.6h.9v.9h-.9zM480.2 185.5h.9v.9h-.9zM466.0 184.6h.9v.9h-.9zM453.6 191.9h.9v.9h-.9zM465.7 183.1h.9v.9h-.9zM456.3 175.0h.9v.9h-.9zM462.3 190.8h.9v.9h-.9zM456.3 188.4h.9v.9h-.9zM457.9 192.7h.9v.9h-.9zM458.4 189.0h.9v.9h-.9zM478.0 184.2h.9v.9h-.9zM473.3 182.1h.9v.9h-.9zM459.9 199.7h.9v.9h-.9zM464.9 171.7h.9v.9h-.9zM472.9 183.8h.9v.9h-.9zM475.9 184.1h.9v.9h-.9zM458.5 194.1h.9v.9h-.9zM454.8 176.2h.9v.9h-.9zM474.9 182.8h.9v.9h-.9zM474.1 179.9h.9v.9h-.9zM472.8 181.1h.9v.9h-.9zM472.0 183.6h.9v.9h-.9zM458.4 178.2h.9v.9h-.9zM451.7 177.8h.9v.9h-.9zM458.0 186.4h.9v.9h-.9zM481.7 189.1h.9v.9h-.9zM461.4 200.7h.9v.9h-.9zM453.9 194.0h.9v.9h-.9zM466.9 170.6h.9v.9h-.9zM451.8 176.1h.9v.9h-.9zM455.5 196.0h.9v.9h-.9zM452.7 182.7h.9v.9h-.9zM472.9 174.1h.9v.9h-.9zM459.0 180.9h.9v.9h-.9zM469.7 177.1h.9v.9h-.9zM467.1 205.2h.9v.9h-.9zM474.3 179.8h.9v.9h-.9zM456.3 177.4h.9v.9h-.9zM459.8 183.6h.9v.9h-.9zM458.6 181.2h.9v.9h-.9zM469.2 173.8h.9v.9h-.9zM467.3 185.6h.9v.9h-.9zM455.0 174.9h.9v.9h-.9zM460.7 190.8h.9v.9h-.9zM455.1 178.7h.9v.9h-.9zM457.5 169.4h.9v.9h-.9zM464.9 177.4h.9v.9h-.9zM462.7 201.0h.9v.9h-.9zM474.2 180.5h.9v.9h-.9zM452.9 172.2h.9v.9h-.9zM465.3 185.8h.9v.9h-.9zM475.1 174.7h.9v.9h-.9zM455.0 174.8h.9v.9h-.9zM460.3 178.8h.9v.9h-.9zM460.5 192.8h.9v.9h-.9zM472.3 174.9h.9v.9h-.9zM477.8 184.7h.9v.9h-.9zM465.3 180.2h.9v.9h-.9zM468.4 181.7h.9v.9h-.9zM479.0 184.0h.9v.9h-.9zM455.5 188.1h.9v.9h-.9zM460.8 175.7h.9v.9h-.9zM458.7 194.7h.9v.9h-.9zM456.3 187.8h.9v.9h-.9zM472.2 182.2h.9v.9h-.9zM460.0 171.2h.9v.9h-.9zM456.3 196.2h.9v.9h-.9zM457.3 197.1h.9v.9h-.9zM465.3 180.1h.9v.9h-.9zM473.0 171.5h.9v.9h-.9zM460.0 175.0h.9v.9h-.9zM455.0 186.9h.9v.9h-.9zM464.7 185.3h.9v.9h-.9zM471.2 183.9h.9v.9h-.9zM452.6 184.6h.9v.9h-.9zM463.4 184.9h.9v.9h-.9zM456.3 189.8h.9v.9h-.9zM453.3 186.6h.9v.9h-.9zM472.7 169.0h.9v.9h-.9zM460.4 171.8h.9v.9h-.9zM464.9 173.9h.9v.9h-.9zM459.4 181.8h.9v.9h-.9zM459.3 185.5h.9v.9h-.9zM461.6 184.5h.9v.9h-.9zM463.9 201.8h.9v.9h-.9zM457.3 179.8h.9v.9h-.9zM460.0 174.5h.9v.9h-.9zM458.6 198.8h.9v.9h-.9zM460.8 186.3h.9v.9h-.9zM457.1 188.1h.9v.9h-.9zM467.7 184.3h.9v.9h-.9zM455.0 182.5h.9v.9h-.9zM457.0 190.3h.9v.9h-.9zM454.2 185.4h.9v.9h-.9zM475.6 184.4h.9v.9h-.9zM466.2 204.7h.9v.9h-.9zM466.4 173.1h.9v.9h-.9zM467.8 169.9h.9v.9h-.9zM460.8 171.8h.9v.9h-.9zM460.4 190.0h.9v.9h-.9zM461.3 172.1h.9v.9h-.9zM461.5 199.4h.9v.9h-.9zM479.3 184.2h.9v.9h-.9zM479.2 185.5h.9v.9h-.9zM459.2 172.4h.9v.9h-.9zM458.5 170.9h.9v.9h-.9zM480.4 185.8h.9v.9h-.9zM453.0 178.3h.9v.9h-.9zM461.4 170.5h.9v.9h-.9zM475.9 181.9h.9v.9h-.9zM458.7 182.1h.9v.9h-.9zM458.5 196.6h.9v.9h-.9zM459.0 180.1h.9v.9h-.9zM471.1 181.4h.9v.9h-.9zM478.5 186.8h.9v.9h-.9zM474.0 178.5h.9v.9h-.9zM452.1 182.8h.9v.9h-.9zM462.6 173.4h.9v.9h-.9zM481.9 192.9h.9v.9h-.9zM480.2 189.3h.9v.9h-.9zM464.3 171.5h.9v.9h-.9zM458.6 177.1h.9v.9h-.9zM454.8 172.2h.9v.9h-.9zM471.2 169.4h.9v.9h-.9zM453.0 184.5h.9v.9h-.9zM457.4 179.8h.9v.9h-.9zM481.2 190.0h.9v.9h-.9zM451.4 187.7h.9v.9h-.9zM475.4 184.8h.9v.9h-.9zM475.7 177.7h.9v.9h-.9zM458.6 196.9h.9v.9h-.9zM472.8 174.9h.9v.9h-.9zM465.7 186.7h.9v.9h-.9zM459.2 180.7h.9v.9h-.9zM463.6 174.0h.9v.9h-.9zM458.8 169.4h.9v.9h-.9zM460.5 171.0h.9v.9h-.9zM457.0 199.8h.9v.9h-.9zM460.9 197.9h.9v.9h-.9zM473.9 184.8h.9v.9h-.9zM474.0 178.7h.9v.9h-.9zM456.2 170.6h.9v.9h-.9zM457.2 197.5h.9v.9h-.9zM460.1 180.9h.9v.9h-.9zM467.3 185.6h.9v.9h-.9zM452.2 178.2h.9v.9h-.9zM462.4 183.5h.9v.9h-.9zM457.5 186.3h.9v.9h-.9zM451.4 187.8h.9v.9h-.9zM457.9 191.2h.9v.9h-.9zM472.0 183.5h.9v.9h-.9zM471.7 183.7h.9v.9h-.9zM457.8 189.4h.9v.9h-.9zM466.4 179.0h.9v.9h-.9zM472.8 173.3h.9v.9h-.9zM462.1 201.8h.9v.9h-.9zM462.6 183.8h.9v.9h-.9zM464.4 187.7h.9v.9h-.9zM462.4 180.7h.9v.9h-.9zM457.6 195.8h.9v.9h-.9zM454.1 193.0h.9v.9h-.9zM466.8 184.1h.9v.9h-.9zM461.1 197.6h.9v.9h-.9zM452.2 172.0h.9v.9h-.9zM476.7 183.1h.9v.9h-.9zM465.8 185.5h.9v.9h-.9zM463.2 201.9h.9v.9h-.9zM461.4 186.9h.9v.9h-.9zM460.4 190.3h.9v.9h-.9zM467.1 177.2h.9v.9h-.9zM455.2 179.2h.9v.9h-.9zM472.0 180.2h.9v.9h-.9zM461.8 176.7h.9v.9h-.9zM460.2 185.9h.9v.9h-.9zM457.1 182.3h.9v.9h-.9zM455.7 175.4h.9v.9h-.9zM472.8 172.6h.9v.9h-.9zM463.0 178.2h.9v.9h-.9zM460.1 170.9h.9v.9h-.9zM476.9 186.3h.9v.9h-.9zM453.2 193.0h.9v.9h-.9zM462.0 200.4h.9v.9h-.9zM472.9 169.6h.9v.9h-.9zM465.9 170.2h.9v.9h-.9zM453.7 186.8h.9v.9h-.9zM468.4 176.9h.9v.9h-.9zM462.8 177.2h.9v.9h-.9zM457.9 191.6h.9v.9h-.9zM463.0 171.9h.9v.9h-.9zM458.1 196.2h.9v.9h-.9zM453.1 191.2h.9v.9h-.9zM462.7 183.3h.9v.9h-.9zM468.4 205.2h.9v.9h-.9zM472.3 175.0h.9v.9h-.9zM468.2 170.7h.9v.9h-.9zM463.8 170.6h.9v.9h-.9zM458.3 175.2h.9v.9h-.9zM457.0 183.2h.9v.9h-.9zM456.5 192.1h.9v.9h-.9zM471.0 170.2h.9v.9h-.9zM459.5 170.7h.9v.9h-.9zM474.4 175.2h.9v.9h-.9zM462.1 172.5h.9v.9h-.9zM461.1 197.1h.9v.9h-.9zM465.1 177.1h.9v.9h-.9zM465.2 171.1h.9v.9h-.9zM455.4 195.8h.9v.9h-.9zM480.5 186.7h.9v.9h-.9zM462.2 199.6h.9v.9h-.9zM462.5 202.9h.9v.9h-.9zM457.4 171.9h.9v.9h-.9zM456.3 172.8h.9v.9h-.9zM468.9 182.2h.9v.9h-.9zM457.2 171.2h.9v.9h-.9zM468.9 171.8h.9v.9h-.9zM455.3 179.9h.9v.9h-.9zM465.7 203.3h.9v.9h-.9zM466.9 171.0h.9v.9h-.9zM464.1 183.4h.9v.9h-.9zM475.2 180.6h.9v.9h-.9zM458.4 193.4h.9v.9h-.9zM461.1 170.7h.9v.9h-.9zM464.5 181.5h.9v.9h-.9zM459.9 185.5h.9v.9h-.9zM471.3 180.4h.9v.9h-.9zM458.1 169.8h.9v.9h-.9zM481.2 188.1h.9v.9h-.9zM462.0 181.9h.9v.9h-.9zM463.6 202.7h.9v.9h-.9zM456.4 182.4h.9v.9h-.9zM458.4 199.7h.9v.9h-.9zM456.9 196.4h.9v.9h-.9zM466.8 171.0h.9v.9h-.9zM457.6 191.9h.9v.9h-.9zM456.5 174.5h.9v.9h-.9zM456.9 182.7h.9v.9h-.9zM456.9 185.3h.9v.9h-.9zM466.0 184.9h.9v.9h-.9zM474.6 172.2h.9v.9h-.9zM474.6 172.2h.9v.9h-.9zM457.6 191.4h.9v.9h-.9zM465.3 177.6h.9v.9h-.9zM481.7 192.5h.9v.9h-.9zM455.5 177.0h.9v.9h-.9zM469.1 183.6h.9v.9h-.9zM464.4 179.8h.9v.9h-.9zM473.5 178.9h.9v.9h-.9zM455.7 184.4h.9v.9h-.9zM459.8 182.6h.9v.9h-.9zM473.5 175.4h.9v.9h-.9zM479.3 188.0h.9v.9h-.9zM460.4 190.2h.9v.9h-.9zM476.0 183.2h.9v.9h-.9zM463.7 177.9h.9v.9h-.9zM458.3 170.5h.9v.9h-.9zM460.7 202.1h.9v.9h-.9zM468.3 181.3h.9v.9h-.9zM464.4 182.7h.9v.9h-.9zM457.0 192.6h.9v.9h-.9zM464.3 172.2h.9v.9h-.9zM460.5 173.6h.9v.9h-.9zM475.5 179.2h.9v.9h-.9zM455.5 171.4h.9v.9h-.9zM460.6 194.0h.9v.9h-.9zM457.6 184.4h.9v.9h-.9zM468.9 177.4h.9v.9h-.9zM457.2 184.9h.9v.9h-.9zM466.7 204.6h.9v.9h-.9zM461.2 173.1h.9v.9h-.9zM457.7 185.1h.9v.9h-.9zM460.0 196.0h.9v.9h-.9zM459.6 193.8h.9v.9h-.9zM459.5 195.1h.9v.9h-.9zM478.6 185.7h.9v.9h-.9zM469.3 176.5h.9v.9h-.9zM480.2 185.3h.9v.9h-.9zM457.1 193.6h.9v.9h-.9zM457.6 194.1h.9v.9h-.9zM474.4 182.7h.9v.9h-.9zM471.1 173.8h.9v.9h-.9zM465.5 176.5h.9v.9h-.9zM458.6 187.4h.9v.9h-.9zM472.7 184.2h.9v.9h-.9zM459.4 174.0h.9v.9h-.9zM461.5 193.1h.9v.9h-.9zM460.3 184.2h.9v.9h-.9zM460.6 189.1h.9v.9h-.9zM456.4 198.0h.9v.9h-.9zM467.1 171.8h.9v.9h-.9zM472.4 175.2h.9v.9h-.9zM469.4 178.6h.9v.9h-.9zM456.7 184.7h.9v.9h-.9zM453.4 176.3h.9v.9h-.9zM467.1 180.5h.9v.9h-.9zM468.0 178.1h.9v.9h-.9zM452.4 173.2h.9v.9h-.9zM462.8 170.8h.9v.9h-.9zM460.0 181.3h.9v.9h-.9zM460.3 173.1h.9v.9h-.9z" fill="#9467BD"/>
<path d="M502.8 168.6h.9v.9h-.9zM506.0 178.8h.9v.9h-.9zM504.9 177.7h.9v.9h-.9zM504.1 178.9h.9v.9h-.9zM508.4 176.0h.9v.9h-.9zM509.4 174.1h.9v.9h-.9zM505.0 168.1h.9v.9h-.9zM505.0 179.5h.9v.9h-.9zM508.2 174.5h.9v.9h-.9zM505.6 177.1h.9v.9h-.9zM502.4 175.8h.9v.9h-.9zM508.8 169.9h.9v.9h-.9zM502.6 175.4h.9v.9h-.9zM506.9 173.7h.9v.9h-.9zM505.3 182.0h.9v.9h-.9zM509.9 182.7h.9v.9h-.9zM503.4 172.8h.9v.9h-.9zM504.1 181.6h.9v.9h-.9zM506.9 176.3h.9v.9h-.9zM502.7 179.9h.9v.9h-.9zM509.8 171.4h.9v.9h-.9zM504.3 168.2h.9v.9h-.9zM508.7 171.5h.9v.9h-.9zM503.4 181.1h.9v.9h-.9zM507.4 174.7h.9v.9h-.9zM503.9 182.3h.9v.9h-.9zM504.7 179.1h.9v.9h-.9zM507.1 173.8h.9v.9h-.9zM509.8 174.2h.9v.9h-.9zM504.1 171.4h.9v.9h-.9zM502.3 174.8h.9v.9h-.9zM509.4 178.9h.9v.9h-.9zM504.8 172.5h.9v.9h-.9zM508.4 180.3h.9v.9h-.9zM504.5 171.8h.9v.9h-.9zM504.1 180.2h.9v.9h-.9zM505.8 178.1h.9v.9h-.9zM507.4 180.0h.9v.9h-.9zM506.3 168.4h.9v.9h-.9zM507.3 171.6h.9v.9h-.9zM508.8 176.8h.9v.9h-.9zM507.5 178.3h.9v.9h-.9zM508.8 180.3h.9v.9h-.9zM509.3 180.4h.9v.9h-.9zM504.0 179.2h.9v.9h-.9zM504.8 179.3h.9v.9h-.9zM506.5 176.6h.9v.9h-.9zM502.7 170.7h.9v.9h-.9zM503.0 169.5h.9v.9h-.9zM508.9 181.6h.9v.9h-.9zM504.8 174.8h.9v.9h-.9zM506.6 178.4h.9v.9h-.9zM502.7 182.6h.9v.9h-.9zM502.2 169.7h.9v.9h-.9zM507.8 172.9h.9v.9h-.9zM507.1 176.4h.9v.9h-.9zM505.8 175.8h.9v.9h-.9zM508.5 174.1h.9v.9h-.9zM508.1 176.8h.9v.9h-.9zM509.1 169.6h.9v.9h-.9z" fill="#D62728"/>
<path d="M457.0 95.4h.9v.9h-.9zM470.2 95.7h.9v.9h-.9zM458.0 92.2h.9v.9h-.9zM483.8 95.5h.9v.9h-.9zM459.0 92.7h.9v.9h-.9zM468.5 97.1h.9v.9h-.9zM487.1 92.3h.9v.9h-.9zM462.9 99.3h.9v.9h-.9zM463.7 96.0h.9v.9h-.9zM456.4 93.5h.9v.9h-.9zM487.5 98.0h.9v.9h-.9zM458.1 98.2h.9v.9h-.9zM463.5 99.3h.9v.9h-.9z" fill="#1F77B4"/>
<text x="3.70" y="292.00" font-size="13.5" text-anchor="start" font-weight="bold" fill="#000" transform="matrix(1,0,0,1.08,0,-23.360)" >c</text>
<text x="35.20" y="304.50" font-size="12.3" text-anchor="start" font-weight="normal" fill="#000" transform="matrix(1,0,0,1.08,0,-24.360)" >Discovery of Ecotypes in Discovery cohorts</text>
<text x="0.00" y="338.70" font-size="10.9" text-anchor="start" font-weight="normal" fill="#000" transform="matrix(1,0,0,1.08,0,-27.096)" >Response</text>
<rect x="53.60" y="328.20" width="27.20" height="14.20" fill="#D93A30" shape-rendering="crispEdges"/>
<rect x="80.80" y="328.20" width="5.44" height="14.20" fill="#F8D84A" shape-rendering="crispEdges"/>
<rect x="86.23" y="328.20" width="54.39" height="14.20" fill="#D93A30" shape-rendering="crispEdges"/>
<rect x="140.62" y="328.20" width="5.44" height="14.20" fill="#F8D84A" shape-rendering="crispEdges"/>
<rect x="146.06" y="328.20" width="5.44" height="14.20" fill="#D93A30" shape-rendering="crispEdges"/>
<rect x="151.50" y="328.20" width="5.44" height="14.20" fill="#F8D84A" shape-rendering="crispEdges"/>
<rect x="156.94" y="328.20" width="5.44" height="14.20" fill="#D93A30" shape-rendering="crispEdges"/>
<rect x="162.38" y="328.20" width="32.63" height="14.20" fill="#F8D84A" shape-rendering="crispEdges"/>
<rect x="195.01" y="328.20" width="5.44" height="14.20" fill="#D93A30" shape-rendering="crispEdges"/>
<rect x="200.45" y="328.20" width="27.20" height="14.20" fill="#F8D84A" shape-rendering="crispEdges"/>
<rect x="227.65" y="328.20" width="5.44" height="14.20" fill="#D93A30" shape-rendering="crispEdges"/>
<rect x="233.09" y="328.20" width="5.44" height="14.20" fill="#F8D84A" shape-rendering="crispEdges"/>
<rect x="238.53" y="328.20" width="21.76" height="14.20" fill="#D93A30" shape-rendering="crispEdges"/>
<rect x="260.28" y="328.20" width="5.44" height="14.20" fill="#F8D84A" shape-rendering="crispEdges"/>
<rect x="265.72" y="328.20" width="10.88" height="14.20" fill="#D93A30" shape-rendering="crispEdges"/>
<rect x="53.60" y="328.20" width="223.00" height="14.20" fill="none" stroke="#222" stroke-width="1.1"/>
<rect x="53.30" y="345.80" width="5.44" height="16.42" fill="#97D83F" shape-rendering="crispEdges"/>
<rect x="58.74" y="345.80" width="5.44" height="16.42" fill="#25858E" shape-rendering="crispEdges"/>
<rect x="64.18" y="345.80" width="5.44" height="16.42" fill="#1FA188" shape-rendering="crispEdges"/>
<rect x="69.62" y="345.80" width="5.44" height="16.42" fill="#FDE725" shape-rendering="crispEdges"/>
<rect x="75.06" y="345.80" width="5.44" height="16.42" fill="#25858E" shape-rendering="crispEdges"/>
<rect x="80.50" y="345.80" width="16.32" height="16.42" fill="#FDE725" shape-rendering="crispEdges"/>
<rect x="96.83" y="345.80" width="5.44" height="16.42" fill="#25858E" shape-rendering="crispEdges"/>
<rect x="102.27" y="345.80" width="21.76" height="16.42" fill="#FDE725" shape-rendering="crispEdges"/>
<rect x="124.03" y="345.80" width="5.44" height="16.42" fill="#97D83F" shape-rendering="crispEdges"/>
<rect x="129.47" y="345.80" width="5.44" height="16.42" fill="#4CC26C" shape-rendering="crispEdges"/>
<rect x="134.91" y="345.80" width="10.88" height="16.42" fill="#FDE725" shape-rendering="crispEdges"/>
<rect x="145.80" y="345.80" width="5.44" height="16.42" fill="#3E4C8A" shape-rendering="crispEdges"/>
<rect x="151.24" y="345.80" width="5.44" height="16.42" fill="#4CC26C" shape-rendering="crispEdges"/>
<rect x="156.68" y="345.80" width="5.44" height="16.42" fill="#440154" shape-rendering="crispEdges"/>
<rect x="162.12" y="345.80" width="5.44" height="16.42" fill="#4CC26C" shape-rendering="crispEdges"/>
<rect x="167.56" y="345.80" width="10.88" height="16.42" fill="#25858E" shape-rendering="crispEdges"/>
<rect x="178.44" y="345.80" width="5.44" height="16.42" fill="#3E4C8A" shape-rendering="crispEdges"/>
<rect x="183.88" y="345.80" width="5.44" height="16.42" fill="#440154" shape-rendering="crispEdges"/>
<rect x="189.32" y="345.80" width="5.44" height="16.42" fill="#FDE725" shape-rendering="crispEdges"/>
<rect x="194.77" y="345.80" width="5.44" height="16.42" fill="#440154" shape-rendering="crispEdges"/>
<rect x="200.21" y="345.80" width="5.44" height="16.42" fill="#30698E" shape-rendering="crispEdges"/>
<rect x="205.65" y="345.80" width="10.88" height="16.42" fill="#440154" shape-rendering="crispEdges"/>
<rect x="216.53" y="345.80" width="5.44" height="16.42" fill="#472878" shape-rendering="crispEdges"/>
<rect x="221.97" y="345.80" width="5.44" height="16.42" fill="#440154" shape-rendering="crispEdges"/>
<rect x="227.41" y="345.80" width="5.44" height="16.42" fill="#472878" shape-rendering="crispEdges"/>
<rect x="232.85" y="345.80" width="5.44" height="16.42" fill="#BEBEBE" shape-rendering="crispEdges"/>
<rect x="238.29" y="345.80" width="5.44" height="16.42" fill="#472878" shape-rendering="crispEdges"/>
<rect x="243.74" y="345.80" width="5.44" height="16.42" fill="#3E4C8A" shape-rendering="crispEdges"/>
<rect x="249.18" y="345.80" width="10.88" height="16.42" fill="#440154" shape-rendering="crispEdges"/>
<rect x="260.06" y="345.80" width="5.44" height="16.42" fill="#30698E" shape-rendering="crispEdges"/>
<rect x="265.50" y="345.80" width="10.88" height="16.42" fill="#440154" shape-rendering="crispEdges"/>
<rect x="53.30" y="362.22" width="5.44" height="16.42" fill="#FDE725" shape-rendering="crispEdges"/>
<rect x="58.74" y="362.22" width="5.44" height="16.42" fill="#3E4C8A" shape-rendering="crispEdges"/>
<rect x="64.18" y="362.22" width="5.44" height="16.42" fill="#97D83F" shape-rendering="crispEdges"/>
<rect x="69.62" y="362.22" width="21.76" height="16.42" fill="#FDE725" shape-rendering="crispEdges"/>
<rect x="91.39" y="362.22" width="5.44" height="16.42" fill="#25858E" shape-rendering="crispEdges"/>
<rect x="96.83" y="362.22" width="5.44" height="16.42" fill="#1FA188" shape-rendering="crispEdges"/>
<rect x="102.27" y="362.22" width="5.44" height="16.42" fill="#3E4C8A" shape-rendering="crispEdges"/>
<rect x="107.71" y="362.22" width="5.44" height="16.42" fill="#FDE725" shape-rendering="crispEdges"/>
<rect x="113.15" y="362.22" width="5.44" height="16.42" fill="#97D83F" shape-rendering="crispEdges"/>
<rect x="118.59" y="362.22" width="5.44" height="16.42" fill="#440154" shape-rendering="crispEdges"/>
<rect x="124.03" y="362.22" width="5.44" height="16.42" fill="#25858E" shape-rendering="crispEdges"/>
<rect x="129.47" y="362.22" width="5.44" height="16.42" fill="#FDE725" shape-rendering="crispEdges"/>
<rect x="134.91" y="362.22" width="5.44" height="16.42" fill="#25858E" shape-rendering="crispEdges"/>
<rect x="140.36" y="362.22" width="5.44" height="16.42" fill="#BEBEBE" shape-rendering="crispEdges"/>
<rect x="145.80" y="362.22" width="5.44" height="16.42" fill="#30698E" shape-rendering="crispEdges"/>
<rect x="151.24" y="362.22" width="10.88" height="16.42" fill="#440154" shape-rendering="crispEdges"/>
<rect x="162.12" y="362.22" width="5.44" height="16.42" fill="#1FA188" shape-rendering="crispEdges"/>
<rect x="167.56" y="362.22" width="5.44" height="16.42" fill="#3E4C8A" shape-rendering="crispEdges"/>
<rect x="173.00" y="362.22" width="5.44" height="16.42" fill="#30698E" shape-rendering="crispEdges"/>
<rect x="178.44" y="362.22" width="5.44" height="16.42" fill="#3E4C8A" shape-rendering="crispEdges"/>
<rect x="183.88" y="362.22" width="5.44" height="16.42" fill="#472878" shape-rendering="crispEdges"/>
<rect x="189.32" y="362.22" width="21.76" height="16.42" fill="#440154" shape-rendering="crispEdges"/>
<rect x="211.09" y="362.22" width="5.44" height="16.42" fill="#FDE725" shape-rendering="crispEdges"/>
<rect x="216.53" y="362.22" width="10.88" height="16.42" fill="#3E4C8A" shape-rendering="crispEdges"/>
<rect x="227.41" y="362.22" width="5.44" height="16.42" fill="#4CC26C" shape-rendering="crispEdges"/>
<rect x="232.85" y="362.22" width="5.44" height="16.42" fill="#30698E" shape-rendering="crispEdges"/>
<rect x="238.29" y="362.22" width="10.88" height="16.42" fill="#440154" shape-rendering="crispEdges"/>
<rect x="249.18" y="362.22" width="10.88" height="16.42" fill="#3E4C8A" shape-rendering="crispEdges"/>
<rect x="260.06" y="362.22" width="5.44" height="16.42" fill="#440154" shape-rendering="crispEdges"/>
<rect x="265.50" y="362.22" width="10.88" height="16.42" fill="#30698E" shape-rendering="crispEdges"/>
<rect x="53.30" y="378.64" width="5.44" height="16.42" fill="#25858E" shape-rendering="crispEdges"/>
<rect x="58.74" y="378.64" width="16.32" height="16.42" fill="#97D83F" shape-rendering="crispEdges"/>
<rect x="75.06" y="378.64" width="5.44" height="16.42" fill="#4CC26C" shape-rendering="crispEdges"/>
<rect x="80.50" y="378.64" width="5.44" height="16.42" fill="#472878" shape-rendering="crispEdges"/>
<rect x="85.95" y="378.64" width="5.44" height="16.42" fill="#30698E" shape-rendering="crispEdges"/>
<rect x="91.39" y="378.64" width="21.76" height="16.42" fill="#FDE725" shape-rendering="crispEdges"/>
<rect x="113.15" y="378.64" width="5.44" height="16.42" fill="#97D83F" shape-rendering="crispEdges"/>
<rect x="118.59" y="378.64" width="10.88" height="16.42" fill="#FDE725" shape-rendering="crispEdges"/>
<rect x="129.47" y="378.64" width="5.44" height="16.42" fill="#BEBEBE" shape-rendering="crispEdges"/>
<rect x="134.91" y="378.64" width="5.44" height="16.42" fill="#FDE725" shape-rendering="crispEdges"/>
<rect x="140.36" y="378.64" width="5.44" height="16.42" fill="#440154" shape-rendering="crispEdges"/>
<rect x="145.80" y="378.64" width="5.44" height="16.42" fill="#30698E" shape-rendering="crispEdges"/>
<rect x="151.24" y="378.64" width="5.44" height="16.42" fill="#4CC26C" shape-rendering="crispEdges"/>
<rect x="156.68" y="378.64" width="5.44" height="16.42" fill="#BEBEBE" shape-rendering="crispEdges"/>
<rect x="162.12" y="378.64" width="5.44" height="16.42" fill="#25858E" shape-rendering="crispEdges"/>
<rect x="167.56" y="378.64" width="5.44" height="16.42" fill="#FDE725" shape-rendering="crispEdges"/>
<rect x="173.00" y="378.64" width="5.44" height="16.42" fill="#30698E" shape-rendering="crispEdges"/>
<rect x="178.44" y="378.64" width="5.44" height="16.42" fill="#472878" shape-rendering="crispEdges"/>
<rect x="183.88" y="378.64" width="5.44" height="16.42" fill="#4CC26C" shape-rendering="crispEdges"/>
<rect x="189.32" y="378.64" width="5.44" height="16.42" fill="#97D83F" shape-rendering="crispEdges"/>
<rect x="194.77" y="378.64" width="5.44" height="16.42" fill="#440154" shape-rendering="crispEdges"/>
<rect x="200.21" y="378.64" width="5.44" height="16.42" fill="#472878" shape-rendering="crispEdges"/>
<rect x="205.65" y="378.64" width="5.44" height="16.42" fill="#30698E" shape-rendering="crispEdges"/>
<rect x="211.09" y="378.64" width="32.65" height="16.42" fill="#440154" shape-rendering="crispEdges"/>
<rect x="243.74" y="378.64" width="5.44" height="16.42" fill="#30698E" shape-rendering="crispEdges"/>
<rect x="249.18" y="378.64" width="5.44" height="16.42" fill="#3E4C8A" shape-rendering="crispEdges"/>
<rect x="254.62" y="378.64" width="5.44" height="16.42" fill="#440154" shape-rendering="crispEdges"/>
<rect x="260.06" y="378.64" width="10.88" height="16.42" fill="#3E4C8A" shape-rendering="crispEdges"/>
<rect x="270.94" y="378.64" width="5.44" height="16.42" fill="#440154" shape-rendering="crispEdges"/>
<rect x="53.30" y="395.06" width="10.88" height="16.42" fill="#FDE725" shape-rendering="crispEdges"/>
<rect x="64.18" y="395.06" width="5.44" height="16.42" fill="#3E4C8A" shape-rendering="crispEdges"/>
<rect x="69.62" y="395.06" width="5.44" height="16.42" fill="#FDE725" shape-rendering="crispEdges"/>
<rect x="75.06" y="395.06" width="5.44" height="16.42" fill="#472878" shape-rendering="crispEdges"/>
<rect x="80.50" y="395.06" width="5.44" height="16.42" fill="#440154" shape-rendering="crispEdges"/>
<rect x="85.95" y="395.06" width="5.44" height="16.42" fill="#1FA188" shape-rendering="crispEdges"/>
<rect x="91.39" y="395.06" width="5.44" height="16.42" fill="#3E4C8A" shape-rendering="crispEdges"/>
<rect x="96.83" y="395.06" width="5.44" height="16.42" fill="#440154" shape-rendering="crispEdges"/>
<rect x="102.27" y="395.06" width="5.44" height="16.42" fill="#97D83F" shape-rendering="crispEdges"/>
<rect x="107.71" y="395.06" width="5.44" height="16.42" fill="#30698E" shape-rendering="crispEdges"/>
<rect x="113.15" y="395.06" width="5.44" height="16.42" fill="#3E4C8A" shape-rendering="crispEdges"/>
<rect x="118.59" y="395.06" width="5.44" height="16.42" fill="#FDE725" shape-rendering="crispEdges"/>
<rect x="124.03" y="395.06" width="5.44" height="16.42" fill="#440154" shape-rendering="crispEdges"/>
<rect x="129.47" y="395.06" width="5.44" height="16.42" fill="#FDE725" shape-rendering="crispEdges"/>
<rect x="134.91" y="395.06" width="5.44" height="16.42" fill="#3E4C8A" shape-rendering="crispEdges"/>
<rect x="140.36" y="395.06" width="5.44" height="16.42" fill="#440154" shape-rendering="crispEdges"/>
<rect x="145.80" y="395.06" width="5.44" height="16.42" fill="#30698E" shape-rendering="crispEdges"/>
<rect x="151.24" y="395.06" width="5.44" height="16.42" fill="#472878" shape-rendering="crispEdges"/>
<rect x="156.68" y="395.06" width="5.44" height="16.42" fill="#440154" shape-rendering="crispEdges"/>
<rect x="162.12" y="395.06" width="10.88" height="16.42" fill="#472878" shape-rendering="crispEdges"/>
<rect x="173.00" y="395.06" width="5.44" height="16.42" fill="#3E4C8A" shape-rendering="crispEdges"/>
<rect x="178.44" y="395.06" width="5.44" height="16.42" fill="#440154" shape-rendering="crispEdges"/>
<rect x="183.88" y="395.06" width="5.44" height="16.42" fill="#472878" shape-rendering="crispEdges"/>
<rect x="189.32" y="395.06" width="5.44" height="16.42" fill="#30698E" shape-rendering="crispEdges"/>
<rect x="194.77" y="395.06" width="10.88" height="16.42" fill="#472878" shape-rendering="crispEdges"/>
<rect x="205.65" y="395.06" width="10.88" height="16.42" fill="#440154" shape-rendering="crispEdges"/>
<rect x="216.53" y="395.06" width="5.44" height="16.42" fill="#472878" shape-rendering="crispEdges"/>
<rect x="221.97" y="395.06" width="5.44" height="16.42" fill="#3E4C8A" shape-rendering="crispEdges"/>
<rect x="227.41" y="395.06" width="5.44" height="16.42" fill="#472878" shape-rendering="crispEdges"/>
<rect x="232.85" y="395.06" width="43.53" height="16.42" fill="#440154" shape-rendering="crispEdges"/>
<rect x="53.30" y="411.48" width="10.88" height="16.42" fill="#25858E" shape-rendering="crispEdges"/>
<rect x="64.18" y="411.48" width="5.44" height="16.42" fill="#FDE725" shape-rendering="crispEdges"/>
<rect x="69.62" y="411.48" width="5.44" height="16.42" fill="#440154" shape-rendering="crispEdges"/>
<rect x="75.06" y="411.48" width="10.88" height="16.42" fill="#472878" shape-rendering="crispEdges"/>
<rect x="85.95" y="411.48" width="5.44" height="16.42" fill="#1FA188" shape-rendering="crispEdges"/>
<rect x="91.39" y="411.48" width="5.44" height="16.42" fill="#97D83F" shape-rendering="crispEdges"/>
<rect x="96.83" y="411.48" width="10.88" height="16.42" fill="#FDE725" shape-rendering="crispEdges"/>
<rect x="107.71" y="411.48" width="5.44" height="16.42" fill="#4CC26C" shape-rendering="crispEdges"/>
<rect x="113.15" y="411.48" width="5.44" height="16.42" fill="#97D83F" shape-rendering="crispEdges"/>
<rect x="118.59" y="411.48" width="5.44" height="16.42" fill="#30698E" shape-rendering="crispEdges"/>
<rect x="124.03" y="411.48" width="5.44" height="16.42" fill="#FDE725" shape-rendering="crispEdges"/>
<rect x="129.47" y="411.48" width="5.44" height="16.42" fill="#440154" shape-rendering="crispEdges"/>
<rect x="134.91" y="411.48" width="5.44" height="16.42" fill="#25858E" shape-rendering="crispEdges"/>
<rect x="140.36" y="411.48" width="5.44" height="16.42" fill="#3E4C8A" shape-rendering="crispEdges"/>
<rect x="145.80" y="411.48" width="10.88" height="16.42" fill="#30698E" shape-rendering="crispEdges"/>
<rect x="156.68" y="411.48" width="5.44" height="16.42" fill="#440154" shape-rendering="crispEdges"/>
<rect x="162.12" y="411.48" width="5.44" height="16.42" fill="#25858E" shape-rendering="crispEdges"/>
<rect x="167.56" y="411.48" width="5.44" height="16.42" fill="#30698E" shape-rendering="crispEdges"/>
<rect x="173.00" y="411.48" width="5.44" height="16.42" fill="#3E4C8A" shape-rendering="crispEdges"/>
<rect x="178.44" y="411.48" width="5.44" height="16.42" fill="#440154" shape-rendering="crispEdges"/>
<rect x="183.88" y="411.48" width="5.44" height="16.42" fill="#3E4C8A" shape-rendering="crispEdges"/>
<rect x="189.32" y="411.48" width="5.44" height="16.42" fill="#30698E" shape-rendering="crispEdges"/>
<rect x="194.77" y="411.48" width="10.88" height="16.42" fill="#440154" shape-rendering="crispEdges"/>
<rect x="205.65" y="411.48" width="10.88" height="16.42" fill="#3E4C8A" shape-rendering="crispEdges"/>
<rect x="216.53" y="411.48" width="5.44" height="16.42" fill="#30698E" shape-rendering="crispEdges"/>
<rect x="221.97" y="411.48" width="5.44" height="16.42" fill="#3E4C8A" shape-rendering="crispEdges"/>
<rect x="227.41" y="411.48" width="16.32" height="16.42" fill="#440154" shape-rendering="crispEdges"/>
<rect x="243.74" y="411.48" width="5.44" height="16.42" fill="#472878" shape-rendering="crispEdges"/>
<rect x="249.18" y="411.48" width="10.88" height="16.42" fill="#440154" shape-rendering="crispEdges"/>
<rect x="260.06" y="411.48" width="10.88" height="16.42" fill="#472878" shape-rendering="crispEdges"/>
<rect x="270.94" y="411.48" width="5.44" height="16.42" fill="#440154" shape-rendering="crispEdges"/>
<rect x="53.30" y="427.90" width="16.32" height="16.42" fill="#30698E" shape-rendering="crispEdges"/>
<rect x="69.62" y="427.90" width="5.44" height="16.42" fill="#440154" shape-rendering="crispEdges"/>
<rect x="75.06" y="427.90" width="5.44" height="16.42" fill="#1FA188" shape-rendering="crispEdges"/>
<rect x="80.50" y="427.90" width="5.44" height="16.42" fill="#440154" shape-rendering="crispEdges"/>
<rect x="85.95" y="427.90" width="5.44" height="16.42" fill="#97D83F" shape-rendering="crispEdges"/>
<rect x="91.39" y="427.90" width="5.44" height="16.42" fill="#440154" shape-rendering="crispEdges"/>
<rect x="96.83" y="427.90" width="5.44" height="16.42" fill="#FDE725" shape-rendering="crispEdges"/>
<rect x="102.27" y="427.90" width="5.44" height="16.42" fill="#1FA188" shape-rendering="crispEdges"/>
<rect x="107.71" y="427.90" width="5.44" height="16.42" fill="#25858E" shape-rendering="crispEdges"/>
<rect x="113.15" y="427.90" width="10.88" height="16.42" fill="#440154" shape-rendering="crispEdges"/>
<rect x="124.03" y="427.90" width="5.44" height="16.42" fill="#BEBEBE" shape-rendering="crispEdges"/>
<rect x="129.47" y="427.90" width="5.44" height="16.42" fill="#30698E" shape-rendering="crispEdges"/>
<rect x="134.91" y="427.90" width="5.44" height="16.42" fill="#1FA188" shape-rendering="crispEdges"/>
<rect x="140.36" y="427.90" width="5.44" height="16.42" fill="#440154" shape-rendering="crispEdges"/>
<rect x="145.80" y="427.90" width="5.44" height="16.42" fill="#FDE725" shape-rendering="crispEdges"/>
<rect x="151.24" y="427.90" width="5.44" height="16.42" fill="#97D83F" shape-rendering="crispEdges"/>
<rect x="156.68" y="427.90" width="10.88" height="16.42" fill="#FDE725" shape-rendering="crispEdges"/>
<rect x="167.56" y="427.90" width="5.44" height="16.42" fill="#3E4C8A" shape-rendering="crispEdges"/>
<rect x="173.00" y="427.90" width="5.44" height="16.42" fill="#FDE725" shape-rendering="crispEdges"/>
<rect x="178.44" y="427.90" width="5.44" height="16.42" fill="#30698E" shape-rendering="crispEdges"/>
<rect x="183.88" y="427.90" width="5.44" height="16.42" fill="#FDE725" shape-rendering="crispEdges"/>
<rect x="189.32" y="427.90" width="5.44" height="16.42" fill="#97D83F" shape-rendering="crispEdges"/>
<rect x="194.77" y="427.90" width="21.76" height="16.42" fill="#FDE725" shape-rendering="crispEdges"/>
<rect x="216.53" y="427.90" width="10.88" height="16.42" fill="#472878" shape-rendering="crispEdges"/>
<rect x="227.41" y="427.90" width="5.44" height="16.42" fill="#FDE725" shape-rendering="crispEdges"/>
<rect x="232.85" y="427.90" width="5.44" height="16.42" fill="#BEBEBE" shape-rendering="crispEdges"/>
<rect x="238.29" y="427.90" width="5.44" height="16.42" fill="#3E4C8A" shape-rendering="crispEdges"/>
<rect x="243.74" y="427.90" width="5.44" height="16.42" fill="#30698E" shape-rendering="crispEdges"/>
<rect x="249.18" y="427.90" width="5.44" height="16.42" fill="#440154" shape-rendering="crispEdges"/>
<rect x="254.62" y="427.90" width="5.44" height="16.42" fill="#FDE725" shape-rendering="crispEdges"/>
<rect x="260.06" y="427.90" width="5.44" height="16.42" fill="#30698E" shape-rendering="crispEdges"/>
<rect x="265.50" y="427.90" width="10.88" height="16.42" fill="#1FA188" shape-rendering="crispEdges"/>
<rect x="53.30" y="444.32" width="5.44" height="16.42" fill="#30698E" shape-rendering="crispEdges"/>
<rect x="58.74" y="444.32" width="5.44" height="16.42" fill="#3E4C8A" shape-rendering="crispEdges"/>
<rect x="64.18" y="444.32" width="5.44" height="16.42" fill="#440154" shape-rendering="crispEdges"/>
<rect x="69.62" y="444.32" width="5.44" height="16.42" fill="#FDE725" shape-rendering="crispEdges"/>
<rect x="75.06" y="444.32" width="5.44" height="16.42" fill="#3E4C8A" shape-rendering="crispEdges"/>
<rect x="80.50" y="444.32" width="5.44" height="16.42" fill="#472878" shape-rendering="crispEdges"/>
<rect x="85.95" y="444.32" width="10.88" height="16.42" fill="#3E4C8A" shape-rendering="crispEdges"/>
<rect x="96.83" y="444.32" width="16.32" height="16.42" fill="#440154" shape-rendering="crispEdges"/>
<rect x="113.15" y="444.32" width="5.44" height="16.42" fill="#30698E" shape-rendering="crispEdges"/>
<rect x="118.59" y="444.32" width="5.44" height="16.42" fill="#440154" shape-rendering="crispEdges"/>
<rect x="124.03" y="444.32" width="5.44" height="16.42" fill="#3E4C8A" shape-rendering="crispEdges"/>
<rect x="129.47" y="444.32" width="5.44" height="16.42" fill="#BEBEBE" shape-rendering="crispEdges"/>
<rect x="134.91" y="444.32" width="5.44" height="16.42" fill="#3E4C8A" shape-rendering="crispEdges"/>
<rect x="140.36" y="444.32" width="5.44" height="16.42" fill="#BEBEBE" shape-rendering="crispEdges"/>
<rect x="145.80" y="444.32" width="5.44" height="16.42" fill="#25858E" shape-rendering="crispEdges"/>
<rect x="151.24" y="444.32" width="5.44" height="16.42" fill="#FDE725" shape-rendering="crispEdges"/>
<rect x="156.68" y="444.32" width="5.44" height="16.42" fill="#440154" shape-rendering="crispEdges"/>
<rect x="162.12" y="444.32" width="5.44" height="16.42" fill="#FDE725" shape-rendering="crispEdges"/>
<rect x="167.56" y="444.32" width="5.44" height="16.42" fill="#1FA188" shape-rendering="crispEdges"/>
<rect x="173.00" y="444.32" width="5.44" height="16.42" fill="#30698E" shape-rendering="crispEdges"/>
<rect x="178.44" y="444.32" width="5.44" height="16.42" fill="#FDE725" shape-rendering="crispEdges"/>
<rect x="183.88" y="444.32" width="5.44" height="16.42" fill="#30698E" shape-rendering="crispEdges"/>
<rect x="189.32" y="444.32" width="5.44" height="16.42" fill="#3E4C8A" shape-rendering="crispEdges"/>
<rect x="194.77" y="444.32" width="5.44" height="16.42" fill="#FDE725" shape-rendering="crispEdges"/>
<rect x="200.21" y="444.32" width="5.44" height="16.42" fill="#30698E" shape-rendering="crispEdges"/>
<rect x="205.65" y="444.32" width="5.44" height="16.42" fill="#FDE725" shape-rendering="crispEdges"/>
<rect x="211.09" y="444.32" width="5.44" height="16.42" fill="#30698E" shape-rendering="crispEdges"/>
<rect x="216.53" y="444.32" width="5.44" height="16.42" fill="#1FA188" shape-rendering="crispEdges"/>
<rect x="221.97" y="444.32" width="5.44" height="16.42" fill="#FDE725" shape-rendering="crispEdges"/>
<rect x="227.41" y="444.32" width="5.44" height="16.42" fill="#440154" shape-rendering="crispEdges"/>
<rect x="232.85" y="444.32" width="5.44" height="16.42" fill="#30698E" shape-rendering="crispEdges"/>
<rect x="238.29" y="444.32" width="10.88" height="16.42" fill="#440154" shape-rendering="crispEdges"/>
<rect x="249.18" y="444.32" width="10.88" height="16.42" fill="#30698E" shape-rendering="crispEdges"/>
<rect x="260.06" y="444.32" width="5.44" height="16.42" fill="#440154" shape-rendering="crispEdges"/>
<rect x="265.50" y="444.32" width="5.44" height="16.42" fill="#30698E" shape-rendering="crispEdges"/>
<rect x="270.94" y="444.32" width="5.44" height="16.42" fill="#BEBEBE" shape-rendering="crispEdges"/>
<rect x="53.30" y="460.74" width="5.44" height="16.42" fill="#30698E" shape-rendering="crispEdges"/>
<rect x="58.74" y="460.74" width="5.44" height="16.42" fill="#3E4C8A" shape-rendering="crispEdges"/>
<rect x="64.18" y="460.74" width="5.44" height="16.42" fill="#30698E" shape-rendering="crispEdges"/>
<rect x="69.62" y="460.74" width="10.88" height="16.42" fill="#440154" shape-rendering="crispEdges"/>
<rect x="80.50" y="460.74" width="5.44" height="16.42" fill="#97D83F" shape-rendering="crispEdges"/>
<rect x="85.95" y="460.74" width="5.44" height="16.42" fill="#472878" shape-rendering="crispEdges"/>
<rect x="91.39" y="460.74" width="21.76" height="16.42" fill="#440154" shape-rendering="crispEdges"/>
<rect x="113.15" y="460.74" width="5.44" height="16.42" fill="#3E4C8A" shape-rendering="crispEdges"/>
<rect x="118.59" y="460.74" width="5.44" height="16.42" fill="#97D83F" shape-rendering="crispEdges"/>
<rect x="124.03" y="460.74" width="5.44" height="16.42" fill="#472878" shape-rendering="crispEdges"/>
<rect x="129.47" y="460.74" width="5.44" height="16.42" fill="#3E4C8A" shape-rendering="crispEdges"/>
<rect x="134.91" y="460.74" width="5.44" height="16.42" fill="#30698E" shape-rendering="crispEdges"/>
<rect x="140.36" y="460.74" width="5.44" height="16.42" fill="#FDE725" shape-rendering="crispEdges"/>
<rect x="145.80" y="460.74" width="5.44" height="16.42" fill="#4CC26C" shape-rendering="crispEdges"/>
<rect x="151.24" y="460.74" width="5.44" height="16.42" fill="#25858E" shape-rendering="crispEdges"/>
<rect x="156.68" y="460.74" width="5.44" height="16.42" fill="#440154" shape-rendering="crispEdges"/>
<rect x="162.12" y="460.74" width="5.44" height="16.42" fill="#25858E" shape-rendering="crispEdges"/>
<rect x="167.56" y="460.74" width="5.44" height="16.42" fill="#1FA188" shape-rendering="crispEdges"/>
<rect x="173.00" y="460.74" width="5.44" height="16.42" fill="#97D83F" shape-rendering="crispEdges"/>
<rect x="178.44" y="460.74" width="5.44" height="16.42" fill="#3E4C8A" shape-rendering="crispEdges"/>
<rect x="183.88" y="460.74" width="10.88" height="16.42" fill="#FDE725" shape-rendering="crispEdges"/>
<rect x="194.77" y="460.74" width="5.44" height="16.42" fill="#1FA188" shape-rendering="crispEdges"/>
<rect x="200.21" y="460.74" width="5.44" height="16.42" fill="#25858E" shape-rendering="crispEdges"/>
<rect x="205.65" y="460.74" width="10.88" height="16.42" fill="#4CC26C" shape-rendering="crispEdges"/>
<rect x="216.53" y="460.74" width="5.44" height="16.42" fill="#BEBEBE" shape-rendering="crispEdges"/>
<rect x="221.97" y="460.74" width="5.44" height="16.42" fill="#FDE725" shape-rendering="crispEdges"/>
<rect x="227.41" y="460.74" width="5.44" height="16.42" fill="#440154" shape-rendering="crispEdges"/>
<rect x="232.85" y="460.74" width="5.44" height="16.42" fill="#FDE725" shape-rendering="crispEdges"/>
<rect x="238.29" y="460.74" width="10.88" height="16.42" fill="#440154" shape-rendering="crispEdges"/>
<rect x="249.18" y="460.74" width="5.44" height="16.42" fill="#472878" shape-rendering="crispEdges"/>
<rect x="254.62" y="460.74" width="5.44" height="16.42" fill="#30698E" shape-rendering="crispEdges"/>
<rect x="260.06" y="460.74" width="5.44" height="16.42" fill="#440154" shape-rendering="crispEdges"/>
<rect x="265.50" y="460.74" width="5.44" height="16.42" fill="#472878" shape-rendering="crispEdges"/>
<rect x="270.94" y="460.74" width="5.44" height="16.42" fill="#440154" shape-rendering="crispEdges"/>
<rect x="53.30" y="477.16" width="5.44" height="16.42" fill="#1FA188" shape-rendering="crispEdges"/>
<rect x="58.74" y="477.16" width="5.44" height="16.42" fill="#30698E" shape-rendering="crispEdges"/>
<rect x="64.18" y="477.16" width="5.44" height="16.42" fill="#25858E" shape-rendering="crispEdges"/>
<rect x="69.62" y="477.16" width="5.44" height="16.42" fill="#97D83F" shape-rendering="crispEdges"/>
<rect x="75.06" y="477.16" width="10.88" height="16.42" fill="#3E4C8A" shape-rendering="crispEdges"/>
<rect x="85.95" y="477.16" width="5.44" height="16.42" fill="#4CC26C" shape-rendering="crispEdges"/>
<rect x="91.39" y="477.16" width="5.44" height="16.42" fill="#472878" shape-rendering="crispEdges"/>
<rect x="96.83" y="477.16" width="16.32" height="16.42" fill="#440154" shape-rendering="crispEdges"/>
<rect x="113.15" y="477.16" width="5.44" height="16.42" fill="#97D83F" shape-rendering="crispEdges"/>
<rect x="118.59" y="477.16" width="5.44" height="16.42" fill="#440154" shape-rendering="crispEdges"/>
<rect x="124.03" y="477.16" width="5.44" height="16.42" fill="#3E4C8A" shape-rendering="crispEdges"/>
<rect x="129.47" y="477.16" width="5.44" height="16.42" fill="#30698E" shape-rendering="crispEdges"/>
<rect x="134.91" y="477.16" width="5.44" height="16.42" fill="#25858E" shape-rendering="crispEdges"/>
<rect x="140.36" y="477.16" width="5.44" height="16.42" fill="#FDE725" shape-rendering="crispEdges"/>
<rect x="145.80" y="477.16" width="5.44" height="16.42" fill="#25858E" shape-rendering="crispEdges"/>
<rect x="151.24" y="477.16" width="5.44" height="16.42" fill="#30698E" shape-rendering="crispEdges"/>
<rect x="156.68" y="477.16" width="5.44" height="16.42" fill="#BEBEBE" shape-rendering="crispEdges"/>
<rect x="162.12" y="477.16" width="5.44" height="16.42" fill="#4CC26C" shape-rendering="crispEdges"/>
<rect x="167.56" y="477.16" width="5.44" height="16.42" fill="#FDE725" shape-rendering="crispEdges"/>
<rect x="173.00" y="477.16" width="5.44" height="16.42" fill="#30698E" shape-rendering="crispEdges"/>
<rect x="178.44" y="477.16" width="5.44" height="16.42" fill="#FDE725" shape-rendering="crispEdges"/>
<rect x="183.88" y="477.16" width="10.88" height="16.42" fill="#97D83F" shape-rendering="crispEdges"/>
<rect x="194.77" y="477.16" width="5.44" height="16.42" fill="#FDE725" shape-rendering="crispEdges"/>
<rect x="200.21" y="477.16" width="5.44" height="16.42" fill="#30698E" shape-rendering="crispEdges"/>
<rect x="205.65" y="477.16" width="5.44" height="16.42" fill="#4CC26C" shape-rendering="crispEdges"/>
<rect x="211.09" y="477.16" width="5.44" height="16.42" fill="#1FA188" shape-rendering="crispEdges"/>
<rect x="216.53" y="477.16" width="5.44" height="16.42" fill="#FDE725" shape-rendering="crispEdges"/>
<rect x="221.97" y="477.16" width="5.44" height="16.42" fill="#1FA188" shape-rendering="crispEdges"/>
<rect x="227.41" y="477.16" width="10.88" height="16.42" fill="#FDE725" shape-rendering="crispEdges"/>
<rect x="238.29" y="477.16" width="5.44" height="16.42" fill="#440154" shape-rendering="crispEdges"/>
<rect x="243.74" y="477.16" width="5.44" height="16.42" fill="#472878" shape-rendering="crispEdges"/>
<rect x="249.18" y="477.16" width="5.44" height="16.42" fill="#FDE725" shape-rendering="crispEdges"/>
<rect x="254.62" y="477.16" width="5.44" height="16.42" fill="#440154" shape-rendering="crispEdges"/>
<rect x="260.06" y="477.16" width="5.44" height="16.42" fill="#97D83F" shape-rendering="crispEdges"/>
<rect x="265.50" y="477.16" width="5.44" height="16.42" fill="#30698E" shape-rendering="crispEdges"/>
<rect x="270.94" y="477.16" width="5.44" height="16.42" fill="#440154" shape-rendering="crispEdges"/>
<rect x="53.30" y="493.58" width="5.44" height="16.42" fill="#30698E" shape-rendering="crispEdges"/>
<rect x="58.74" y="493.58" width="5.44" height="16.42" fill="#25858E" shape-rendering="crispEdges"/>
<rect x="64.18" y="493.58" width="5.44" height="16.42" fill="#3E4C8A" shape-rendering="crispEdges"/>
<rect x="69.62" y="493.58" width="5.44" height="16.42" fill="#97D83F" shape-rendering="crispEdges"/>
<rect x="75.06" y="493.58" width="10.88" height="16.42" fill="#3E4C8A" shape-rendering="crispEdges"/>
<rect x="85.95" y="493.58" width="5.44" height="16.42" fill="#4CC26C" shape-rendering="crispEdges"/>
<rect x="91.39" y="493.58" width="5.44" height="16.42" fill="#30698E" shape-rendering="crispEdges"/>
<rect x="96.83" y="493.58" width="5.44" height="16.42" fill="#440154" shape-rendering="crispEdges"/>
<rect x="102.27" y="493.58" width="5.44" height="16.42" fill="#472878" shape-rendering="crispEdges"/>
<rect x="107.71" y="493.58" width="5.44" height="16.42" fill="#3E4C8A" shape-rendering="crispEdges"/>
<rect x="113.15" y="493.58" width="10.88" height="16.42" fill="#30698E" shape-rendering="crispEdges"/>
<rect x="124.03" y="493.58" width="5.44" height="16.42" fill="#3E4C8A" shape-rendering="crispEdges"/>
<rect x="129.47" y="493.58" width="5.44" height="16.42" fill="#440154" shape-rendering="crispEdges"/>
<rect x="134.91" y="493.58" width="5.44" height="16.42" fill="#30698E" shape-rendering="crispEdges"/>
<rect x="140.36" y="493.58" width="5.44" height="16.42" fill="#FDE725" shape-rendering="crispEdges"/>
<rect x="145.80" y="493.58" width="5.44" height="16.42" fill="#3E4C8A" shape-rendering="crispEdges"/>
<rect x="151.24" y="493.58" width="5.44" height="16.42" fill="#FDE725" shape-rendering="crispEdges"/>
<rect x="156.68" y="493.58" width="5.44" height="16.42" fill="#440154" shape-rendering="crispEdges"/>
<rect x="162.12" y="493.58" width="5.44" height="16.42" fill="#FDE725" shape-rendering="crispEdges"/>
<rect x="167.56" y="493.58" width="5.44" height="16.42" fill="#3E4C8A" shape-rendering="crispEdges"/>
<rect x="173.00" y="493.58" width="5.44" height="16.42" fill="#4CC26C" shape-rendering="crispEdges"/>
<rect x="178.44" y="493.58" width="5.44" height="16.42" fill="#440154" shape-rendering="crispEdges"/>
<rect x="183.88" y="493.58" width="5.44" height="16.42" fill="#97D83F" shape-rendering="crispEdges"/>
<rect x="189.32" y="493.58" width="5.44" height="16.42" fill="#FDE725" shape-rendering="crispEdges"/>
<rect x="194.77" y="493.58" width="5.44" height="16.42" fill="#4CC26C" shape-rendering="crispEdges"/>
<rect x="200.21" y="493.58" width="5.44" height="16.42" fill="#1FA188" shape-rendering="crispEdges"/>
<rect x="205.65" y="493.58" width="5.44" height="16.42" fill="#30698E" shape-rendering="crispEdges"/>
<rect x="211.09" y="493.58" width="5.44" height="16.42" fill="#97D83F" shape-rendering="crispEdges"/>
<rect x="216.53" y="493.58" width="5.44" height="16.42" fill="#30698E" shape-rendering="crispEdges"/>
<rect x="221.97" y="493.58" width="5.44" height="16.42" fill="#4CC26C" shape-rendering="crispEdges"/>
<rect x="227.41" y="493.58" width="5.44" height="16.42" fill="#30698E" shape-rendering="crispEdges"/>
<rect x="232.85" y="493.58" width="5.44" height="16.42" fill="#1FA188" shape-rendering="crispEdges"/>
<rect x="238.29" y="493.58" width="5.44" height="16.42" fill="#4CC26C" shape-rendering="crispEdges"/>
<rect x="243.74" y="493.58" width="10.88" height="16.42" fill="#3E4C8A" shape-rendering="crispEdges"/>
<rect x="254.62" y="493.58" width="5.44" height="16.42" fill="#25858E" shape-rendering="crispEdges"/>
<rect x="260.06" y="493.58" width="5.44" height="16.42" fill="#440154" shape-rendering="crispEdges"/>
<rect x="265.50" y="493.58" width="5.44" height="16.42" fill="#30698E" shape-rendering="crispEdges"/>
<rect x="270.94" y="493.58" width="5.44" height="16.42" fill="#472878" shape-rendering="crispEdges"/>
<rect x="53.30" y="510.00" width="5.44" height="16.42" fill="#1FA188" shape-rendering="crispEdges"/>
<rect x="58.74" y="510.00" width="10.88" height="16.42" fill="#4CC26C" shape-rendering="crispEdges"/>
<rect x="69.62" y="510.00" width="5.44" height="16.42" fill="#3E4C8A" shape-rendering="crispEdges"/>
<rect x="75.06" y="510.00" width="5.44" height="16.42" fill="#97D83F" shape-rendering="crispEdges"/>
<rect x="80.50" y="510.00" width="5.44" height="16.42" fill="#25858E" shape-rendering="crispEdges"/>
<rect x="85.95" y="510.00" width="5.44" height="16.42" fill="#30698E" shape-rendering="crispEdges"/>
<rect x="91.39" y="510.00" width="5.44" height="16.42" fill="#25858E" shape-rendering="crispEdges"/>
<rect x="96.83" y="510.00" width="5.44" height="16.42" fill="#472878" shape-rendering="crispEdges"/>
<rect x="102.27" y="510.00" width="10.88" height="16.42" fill="#440154" shape-rendering="crispEdges"/>
<rect x="113.15" y="510.00" width="5.44" height="16.42" fill="#30698E" shape-rendering="crispEdges"/>
<rect x="118.59" y="510.00" width="5.44" height="16.42" fill="#97D83F" shape-rendering="crispEdges"/>
<rect x="124.03" y="510.00" width="5.44" height="16.42" fill="#25858E" shape-rendering="crispEdges"/>
<rect x="129.47" y="510.00" width="5.44" height="16.42" fill="#97D83F" shape-rendering="crispEdges"/>
<rect x="134.91" y="510.00" width="5.44" height="16.42" fill="#1FA188" shape-rendering="crispEdges"/>
<rect x="140.36" y="510.00" width="5.44" height="16.42" fill="#97D83F" shape-rendering="crispEdges"/>
<rect x="145.80" y="510.00" width="5.44" height="16.42" fill="#FDE725" shape-rendering="crispEdges"/>
<rect x="151.24" y="510.00" width="5.44" height="16.42" fill="#25858E" shape-rendering="crispEdges"/>
<rect x="156.68" y="510.00" width="5.44" height="16.42" fill="#FDE725" shape-rendering="crispEdges"/>
<rect x="162.12" y="510.00" width="5.44" height="16.42" fill="#1FA188" shape-rendering="crispEdges"/>
<rect x="167.56" y="510.00" width="5.44" height="16.42" fill="#25858E" shape-rendering="crispEdges"/>
<rect x="173.00" y="510.00" width="5.44" height="16.42" fill="#4CC26C" shape-rendering="crispEdges"/>
<rect x="178.44" y="510.00" width="5.44" height="16.42" fill="#472878" shape-rendering="crispEdges"/>
<rect x="183.88" y="510.00" width="10.88" height="16.42" fill="#FDE725" shape-rendering="crispEdges"/>
<rect x="194.77" y="510.00" width="5.44" height="16.42" fill="#440154" shape-rendering="crispEdges"/>
<rect x="200.21" y="510.00" width="5.44" height="16.42" fill="#97D83F" shape-rendering="crispEdges"/>
<rect x="205.65" y="510.00" width="5.44" height="16.42" fill="#FDE725" shape-rendering="crispEdges"/>
<rect x="211.09" y="510.00" width="5.44" height="16.42" fill="#4CC26C" shape-rendering="crispEdges"/>
<rect x="216.53" y="510.00" width="5.44" height="16.42" fill="#25858E" shape-rendering="crispEdges"/>
<rect x="221.97" y="510.00" width="5.44" height="16.42" fill="#1FA188" shape-rendering="crispEdges"/>
<rect x="227.41" y="510.00" width="5.44" height="16.42" fill="#440154" shape-rendering="crispEdges"/>
<rect x="232.85" y="510.00" width="5.44" height="16.42" fill="#FDE725" shape-rendering="crispEdges"/>
<rect x="238.29" y="510.00" width="5.44" height="16.42" fill="#4CC26C" shape-rendering="crispEdges"/>
<rect x="243.74" y="510.00" width="5.44" height="16.42" fill="#440154" shape-rendering="crispEdges"/>
<rect x="249.18" y="510.00" width="5.44" height="16.42" fill="#1FA188" shape-rendering="crispEdges"/>
<rect x="254.62" y="510.00" width="10.88" height="16.42" fill="#472878" shape-rendering="crispEdges"/>
<rect x="265.50" y="510.00" width="10.88" height="16.42" fill="#30698E" shape-rendering="crispEdges"/>
<rect x="53.30" y="526.42" width="10.88" height="16.42" fill="#3E4C8A" shape-rendering="crispEdges"/>
<rect x="64.18" y="526.42" width="10.88" height="16.42" fill="#440154" shape-rendering="crispEdges"/>
<rect x="75.06" y="526.42" width="5.44" height="16.42" fill="#4CC26C" shape-rendering="crispEdges"/>
<rect x="80.50" y="526.42" width="5.44" height="16.42" fill="#472878" shape-rendering="crispEdges"/>
<rect x="85.95" y="526.42" width="10.88" height="16.42" fill="#3E4C8A" shape-rendering="crispEdges"/>
<rect x="96.83" y="526.42" width="5.44" height="16.42" fill="#440154" shape-rendering="crispEdges"/>
<rect x="102.27" y="526.42" width="5.44" height="16.42" fill="#472878" shape-rendering="crispEdges"/>
<rect x="107.71" y="526.42" width="5.44" height="16.42" fill="#440154" shape-rendering="crispEdges"/>
<rect x="113.15" y="526.42" width="5.44" height="16.42" fill="#30698E" shape-rendering="crispEdges"/>
<rect x="118.59" y="526.42" width="5.44" height="16.42" fill="#440154" shape-rendering="crispEdges"/>
<rect x="124.03" y="526.42" width="5.44" height="16.42" fill="#BEBEBE" shape-rendering="crispEdges"/>
<rect x="129.47" y="526.42" width="5.44" height="16.42" fill="#3E4C8A" shape-rendering="crispEdges"/>
<rect x="134.91" y="526.42" width="5.44" height="16.42" fill="#25858E" shape-rendering="crispEdges"/>
<rect x="140.36" y="526.42" width="5.44" height="16.42" fill="#BEBEBE" shape-rendering="crispEdges"/>
<rect x="145.80" y="526.42" width="5.44" height="16.42" fill="#3E4C8A" shape-rendering="crispEdges"/>
<rect x="151.24" y="526.42" width="10.88" height="16.42" fill="#440154" shape-rendering="crispEdges"/>
<rect x="162.12" y="526.42" width="5.44" height="16.42" fill="#30698E" shape-rendering="crispEdges"/>
<rect x="167.56" y="526.42" width="5.44" height="16.42" fill="#3E4C8A" shape-rendering="crispEdges"/>
<rect x="173.00" y="526.42" width="10.88" height="16.42" fill="#30698E" shape-rendering="crispEdges"/>
<rect x="183.88" y="526.42" width="5.44" height="16.42" fill="#472878" shape-rendering="crispEdges"/>
<rect x="189.32" y="526.42" width="5.44" height="16.42" fill="#25858E" shape-rendering="crispEdges"/>
<rect x="194.77" y="526.42" width="5.44" height="16.42" fill="#440154" shape-rendering="crispEdges"/>
<rect x="200.21" y="526.42" width="5.44" height="16.42" fill="#97D83F" shape-rendering="crispEdges"/>
<rect x="205.65" y="526.42" width="10.88" height="16.42" fill="#440154" shape-rendering="crispEdges"/>
<rect x="216.53" y="526.42" width="5.44" height="16.42" fill="#BEBEBE" shape-rendering="crispEdges"/>
<rect x="221.97" y="526.42" width="5.44" height="16.42" fill="#30698E" shape-rendering="crispEdges"/>
<rect x="227.41" y="526.42" width="5.44" height="16.42" fill="#440154" shape-rendering="crispEdges"/>
<rect x="232.85" y="526.42" width="5.44" height="16.42" fill="#FDE725" shape-rendering="crispEdges"/>
<rect x="238.29" y="526.42" width="5.44" height="16.42" fill="#30698E" shape-rendering="crispEdges"/>
<rect x="243.74" y="526.42" width="10.88" height="16.42" fill="#FDE725" shape-rendering="crispEdges"/>
<rect x="254.62" y="526.42" width="5.44" height="16.42" fill="#1FA188" shape-rendering="crispEdges"/>
<rect x="260.06" y="526.42" width="5.44" height="16.42" fill="#FDE725" shape-rendering="crispEdges"/>
<rect x="265.50" y="526.42" width="5.44" height="16.42" fill="#97D83F" shape-rendering="crispEdges"/>
<rect x="270.94" y="526.42" width="5.44" height="16.42" fill="#FDE725" shape-rendering="crispEdges"/>
<rect x="53.30" y="542.84" width="5.44" height="16.42" fill="#472878" shape-rendering="crispEdges"/>
<rect x="58.74" y="542.84" width="10.88" height="16.42" fill="#3E4C8A" shape-rendering="crispEdges"/>
<rect x="69.62" y="542.84" width="5.44" height="16.42" fill="#440154" shape-rendering="crispEdges"/>
<rect x="75.06" y="542.84" width="5.44" height="16.42" fill="#30698E" shape-rendering="crispEdges"/>
<rect x="80.50" y="542.84" width="5.44" height="16.42" fill="#440154" shape-rendering="crispEdges"/>
<rect x="85.95" y="542.84" width="5.44" height="16.42" fill="#472878" shape-rendering="crispEdges"/>
<rect x="91.39" y="542.84" width="5.44" height="16.42" fill="#3E4C8A" shape-rendering="crispEdges"/>
<rect x="96.83" y="542.84" width="5.44" height="16.42" fill="#25858E" shape-rendering="crispEdges"/>
<rect x="102.27" y="542.84" width="5.44" height="16.42" fill="#472878" shape-rendering="crispEdges"/>
<rect x="107.71" y="542.84" width="5.44" height="16.42" fill="#30698E" shape-rendering="crispEdges"/>
<rect x="113.15" y="542.84" width="16.32" height="16.42" fill="#472878" shape-rendering="crispEdges"/>
<rect x="129.47" y="542.84" width="5.44" height="16.42" fill="#440154" shape-rendering="crispEdges"/>
<rect x="134.91" y="542.84" width="16.32" height="16.42" fill="#30698E" shape-rendering="crispEdges"/>
<rect x="151.24" y="542.84" width="5.44" height="16.42" fill="#4CC26C" shape-rendering="crispEdges"/>
<rect x="156.68" y="542.84" width="5.44" height="16.42" fill="#440154" shape-rendering="crispEdges"/>
<rect x="162.12" y="542.84" width="5.44" height="16.42" fill="#3E4C8A" shape-rendering="crispEdges"/>
<rect x="167.56" y="542.84" width="5.44" height="16.42" fill="#30698E" shape-rendering="crispEdges"/>
<rect x="173.00" y="542.84" width="5.44" height="16.42" fill="#25858E" shape-rendering="crispEdges"/>
<rect x="178.44" y="542.84" width="5.44" height="16.42" fill="#440154" shape-rendering="crispEdges"/>
<rect x="183.88" y="542.84" width="5.44" height="16.42" fill="#25858E" shape-rendering="crispEdges"/>
<rect x="189.32" y="542.84" width="5.44" height="16.42" fill="#30698E" shape-rendering="crispEdges"/>
<rect x="194.77" y="542.84" width="5.44" height="16.42" fill="#472878" shape-rendering="crispEdges"/>
<rect x="200.21" y="542.84" width="5.44" height="16.42" fill="#30698E" shape-rendering="crispEdges"/>
<rect x="205.65" y="542.84" width="5.44" height="16.42" fill="#472878" shape-rendering="crispEdges"/>
<rect x="211.09" y="542.84" width="5.44" height="16.42" fill="#440154" shape-rendering="crispEdges"/>
<rect x="216.53" y="542.84" width="5.44" height="16.42" fill="#3E4C8A" shape-rendering="crispEdges"/>
<rect x="221.97" y="542.84" width="10.88" height="16.42" fill="#472878" shape-rendering="crispEdges"/>
<rect x="232.85" y="542.84" width="5.44" height="16.42" fill="#3E4C8A" shape-rendering="crispEdges"/>
<rect x="238.29" y="542.84" width="5.44" height="16.42" fill="#1FA188" shape-rendering="crispEdges"/>
<rect x="243.74" y="542.84" width="5.44" height="16.42" fill="#30698E" shape-rendering="crispEdges"/>
<rect x="249.18" y="542.84" width="5.44" height="16.42" fill="#FDE725" shape-rendering="crispEdges"/>
<rect x="254.62" y="542.84" width="5.44" height="16.42" fill="#97D83F" shape-rendering="crispEdges"/>
<rect x="260.06" y="542.84" width="5.44" height="16.42" fill="#30698E" shape-rendering="crispEdges"/>
<rect x="265.50" y="542.84" width="10.88" height="16.42" fill="#97D83F" shape-rendering="crispEdges"/>
<rect x="53.30" y="559.26" width="5.44" height="16.42" fill="#472878" shape-rendering="crispEdges"/>
<rect x="58.74" y="559.26" width="10.88" height="16.42" fill="#3E4C8A" shape-rendering="crispEdges"/>
<rect x="69.62" y="559.26" width="5.44" height="16.42" fill="#30698E" shape-rendering="crispEdges"/>
<rect x="75.06" y="559.26" width="5.44" height="16.42" fill="#472878" shape-rendering="crispEdges"/>
<rect x="80.50" y="559.26" width="5.44" height="16.42" fill="#3E4C8A" shape-rendering="crispEdges"/>
<rect x="85.95" y="559.26" width="5.44" height="16.42" fill="#472878" shape-rendering="crispEdges"/>
<rect x="91.39" y="559.26" width="5.44" height="16.42" fill="#3E4C8A" shape-rendering="crispEdges"/>
<rect x="96.83" y="559.26" width="5.44" height="16.42" fill="#440154" shape-rendering="crispEdges"/>
<rect x="102.27" y="559.26" width="5.44" height="16.42" fill="#472878" shape-rendering="crispEdges"/>
<rect x="107.71" y="559.26" width="5.44" height="16.42" fill="#30698E" shape-rendering="crispEdges"/>
<rect x="113.15" y="559.26" width="5.44" height="16.42" fill="#472878" shape-rendering="crispEdges"/>
<rect x="118.59" y="559.26" width="5.44" height="16.42" fill="#30698E" shape-rendering="crispEdges"/>
<rect x="124.03" y="559.26" width="5.44" height="16.42" fill="#472878" shape-rendering="crispEdges"/>
<rect x="129.47" y="559.26" width="5.44" height="16.42" fill="#97D83F" shape-rendering="crispEdges"/>
<rect x="134.91" y="559.26" width="5.44" height="16.42" fill="#472878" shape-rendering="crispEdges"/>
<rect x="140.36" y="559.26" width="5.44" height="16.42" fill="#440154" shape-rendering="crispEdges"/>
<rect x="145.80" y="559.26" width="5.44" height="16.42" fill="#3E4C8A" shape-rendering="crispEdges"/>
<rect x="151.24" y="559.26" width="5.44" height="16.42" fill="#472878" shape-rendering="crispEdges"/>
<rect x="156.68" y="559.26" width="5.44" height="16.42" fill="#440154" shape-rendering="crispEdges"/>
<rect x="162.12" y="559.26" width="5.44" height="16.42" fill="#3E4C8A" shape-rendering="crispEdges"/>
<rect x="167.56" y="559.26" width="5.44" height="16.42" fill="#472878" shape-rendering="crispEdges"/>
<rect x="173.00" y="559.26" width="10.88" height="16.42" fill="#3E4C8A" shape-rendering="crispEdges"/>
<rect x="183.88" y="559.26" width="5.44" height="16.42" fill="#472878" shape-rendering="crispEdges"/>
<rect x="189.32" y="559.26" width="5.44" height="16.42" fill="#30698E" shape-rendering="crispEdges"/>
<rect x="194.77" y="559.26" width="5.44" height="16.42" fill="#440154" shape-rendering="crispEdges"/>
<rect x="200.21" y="559.26" width="5.44" height="16.42" fill="#25858E" shape-rendering="crispEdges"/>
<rect x="205.65" y="559.26" width="5.44" height="16.42" fill="#472878" shape-rendering="crispEdges"/>
<rect x="211.09" y="559.26" width="10.88" height="16.42" fill="#3E4C8A" shape-rendering="crispEdges"/>
<rect x="221.97" y="559.26" width="5.44" height="16.42" fill="#440154" shape-rendering="crispEdges"/>
<rect x="227.41" y="559.26" width="5.44" height="16.42" fill="#3E4C8A" shape-rendering="crispEdges"/>
<rect x="232.85" y="559.26" width="10.88" height="16.42" fill="#472878" shape-rendering="crispEdges"/>
<rect x="243.74" y="559.26" width="5.44" height="16.42" fill="#FDE725" shape-rendering="crispEdges"/>
<rect x="249.18" y="559.26" width="5.44" height="16.42" fill="#1FA188" shape-rendering="crispEdges"/>
<rect x="254.62" y="559.26" width="5.44" height="16.42" fill="#97D83F" shape-rendering="crispEdges"/>
<rect x="260.06" y="559.26" width="5.44" height="16.42" fill="#FDE725" shape-rendering="crispEdges"/>
<rect x="265.50" y="559.26" width="5.44" height="16.42" fill="#97D83F" shape-rendering="crispEdges"/>
<rect x="270.94" y="559.26" width="5.44" height="16.42" fill="#472878" shape-rendering="crispEdges"/>
<rect x="53.30" y="345.80" width="223.08" height="229.88" fill="none" stroke="#000" stroke-width="1.0"/>
<rect x="52.20" y="344.70" width="88.16" height="83.20" fill="none" stroke="#fff" stroke-width="2.9"/>
<rect x="140.36" y="427.90" width="97.94" height="98.52" fill="none" stroke="#fff" stroke-width="2.9"/>
<rect x="238.29" y="526.42" width="39.19" height="50.36" fill="none" stroke="#fff" stroke-width="2.9"/>
<rect x="22.30" y="345.80" width="7.90" height="82.10" fill="#D93A30" shape-rendering="crispEdges"/>
<rect x="22.30" y="427.90" width="7.90" height="98.52" fill="#F8D84A" shape-rendering="crispEdges"/>
<rect x="22.30" y="526.42" width="7.90" height="49.26" fill="#6DB665" shape-rendering="crispEdges"/>
<rect x="22.30" y="345.80" width="7.90" height="229.88" fill="none" stroke="#111" stroke-width="1.1"/>
<rect x="31.60" y="345.80" width="8.40" height="16.42" fill="#E6AB02" shape-rendering="crispEdges"/>
<rect x="31.60" y="362.22" width="8.40" height="16.42" fill="#E7298A" shape-rendering="crispEdges"/>
<rect x="31.60" y="378.64" width="8.40" height="16.42" fill="#7570B3" shape-rendering="crispEdges"/>
<rect x="31.60" y="395.06" width="8.40" height="32.84" fill="#D95F02" shape-rendering="crispEdges"/>
<rect x="31.60" y="427.90" width="8.40" height="16.42" fill="#E6AB02" shape-rendering="crispEdges"/>
<rect x="31.60" y="444.32" width="8.40" height="32.84" fill="#E7298A" shape-rendering="crispEdges"/>
<rect x="31.60" y="477.16" width="8.40" height="16.42" fill="#7570B3" shape-rendering="crispEdges"/>
<rect x="31.60" y="493.58" width="8.40" height="16.42" fill="#D95F02" shape-rendering="crispEdges"/>
<rect x="31.60" y="510.00" width="8.40" height="16.42" fill="#1B9E77" shape-rendering="crispEdges"/>
<rect x="31.60" y="526.42" width="8.40" height="16.42" fill="#E7298A" shape-rendering="crispEdges"/>
<rect x="31.60" y="542.84" width="8.40" height="16.42" fill="#D95F02" shape-rendering="crispEdges"/>
<rect x="31.60" y="559.26" width="8.40" height="16.42" fill="#1B9E77" shape-rendering="crispEdges"/>
<rect x="31.60" y="345.80" width="8.40" height="229.88" fill="none" stroke="#111" stroke-width="1.1"/>
<rect x="40.90" y="345.80" width="8.50" height="16.42" fill="#E8187C" shape-rendering="crispEdges"/>
<rect x="40.90" y="362.22" width="8.50" height="16.42" fill="#5AAF4E" shape-rendering="crispEdges"/>
<rect x="40.90" y="378.64" width="8.50" height="16.42" fill="#3AA0C6" shape-rendering="crispEdges"/>
<rect x="40.90" y="395.06" width="8.50" height="16.42" fill="#5AAF4E" shape-rendering="crispEdges"/>
<rect x="40.90" y="411.48" width="8.50" height="16.42" fill="#8452A8" shape-rendering="crispEdges"/>
<rect x="40.90" y="427.90" width="8.50" height="16.42" fill="#3AA0C6" shape-rendering="crispEdges"/>
<rect x="40.90" y="444.32" width="8.50" height="16.42" fill="#E8187C" shape-rendering="crispEdges"/>
<rect x="40.90" y="460.74" width="8.50" height="16.42" fill="#8452A8" shape-rendering="crispEdges"/>
<rect x="40.90" y="477.16" width="8.50" height="16.42" fill="#E8187C" shape-rendering="crispEdges"/>
<rect x="40.90" y="493.58" width="8.50" height="16.42" fill="#FF7400" shape-rendering="crispEdges"/>
<rect x="40.90" y="510.00" width="8.50" height="32.84" fill="#3AA0C6" shape-rendering="crispEdges"/>
<rect x="40.90" y="542.84" width="8.50" height="16.42" fill="#FFC40C" shape-rendering="crispEdges"/>
<rect x="40.90" y="559.26" width="8.50" height="16.42" fill="#E8187C" shape-rendering="crispEdges"/>
<rect x="40.90" y="345.80" width="8.50" height="229.88" fill="none" stroke="#111" stroke-width="1.1"/>
<text x="26.25" y="388.75" font-size="11" text-anchor="middle" font-weight="bold" fill="#000" transform="matrix(1,0,0,1.08,0,-31.100)" >1</text>
<text x="26.25" y="481.06" font-size="11" text-anchor="middle" font-weight="bold" fill="#000" transform="matrix(1,0,0,1.08,0,-38.485)" >2</text>
<text x="26.25" y="555.95" font-size="11" text-anchor="middle" font-weight="bold" fill="#000" transform="matrix(1,0,0,1.08,0,-44.476)" >3</text>
<text x="30.00" y="584.00" font-size="10" text-anchor="end" transform="rotate(-50 30.00 584.00)">Ecotype</text>
<text x="42.70" y="584.00" font-size="10" text-anchor="end" transform="rotate(-50 42.70 584.00)">CellType</text>
<text x="53.00" y="584.30" font-size="10" text-anchor="end" transform="rotate(-50 53.00 584.30)">State</text>
<text x="91.70" y="593.20" font-size="9.65" text-anchor="start" font-weight="normal" fill="#000" transform="matrix(1,0,0,1.08,0,-47.456)" >State abundance</text>
<text x="169.20" y="593.40" font-size="9.6" text-anchor="start" font-weight="normal" fill="#000" transform="matrix(1,0,0,1.08,0,-47.472)" >0</text>
<linearGradient id="vg1" x1="0" x2="1" y1="0" y2="0"><stop offset="0" stop-color="#440154"/><stop offset="0.1" stop-color="#482475"/><stop offset="0.2" stop-color="#3E4A89"/><stop offset="0.3" stop-color="#31688E"/><stop offset="0.4" stop-color="#26828E"/><stop offset="0.5" stop-color="#1FA088"/><stop offset="0.6" stop-color="#4AC16D"/><stop offset="0.7" stop-color="#9FDA3A"/><stop offset="0.8" stop-color="#FDE725"/><stop offset="1" stop-color="#FDE725"/></linearGradient>
<rect x="175.1" y="586.0" width="77.9" height="8.899999999999977" fill="url(#vg1)"/>
<line x1="177.00" y1="586.0" x2="177.00" y2="588.2" stroke="#fff" stroke-width="1.0"/>
<line x1="177.00" y1="592.6999999999999" x2="177.00" y2="594.9" stroke="#fff" stroke-width="1.0"/>
<line x1="191.82" y1="586.0" x2="191.82" y2="588.2" stroke="#fff" stroke-width="1.0"/>
<line x1="191.82" y1="592.6999999999999" x2="191.82" y2="594.9" stroke="#fff" stroke-width="1.0"/>
<line x1="206.64" y1="586.0" x2="206.64" y2="588.2" stroke="#fff" stroke-width="1.0"/>
<line x1="206.64" y1="592.6999999999999" x2="206.64" y2="594.9" stroke="#fff" stroke-width="1.0"/>
<line x1="221.46" y1="586.0" x2="221.46" y2="588.2" stroke="#fff" stroke-width="1.0"/>
<line x1="221.46" y1="592.6999999999999" x2="221.46" y2="594.9" stroke="#fff" stroke-width="1.0"/>
<line x1="236.28" y1="586.0" x2="236.28" y2="588.2" stroke="#fff" stroke-width="1.0"/>
<line x1="236.28" y1="592.6999999999999" x2="236.28" y2="594.9" stroke="#fff" stroke-width="1.0"/>
<line x1="251.10" y1="586.0" x2="251.10" y2="588.2" stroke="#fff" stroke-width="1.0"/>
<line x1="251.10" y1="592.6999999999999" x2="251.10" y2="594.9" stroke="#fff" stroke-width="1.0"/>
<text x="255.00" y="593.40" font-size="9.6" text-anchor="start" font-weight="normal" fill="#000" transform="matrix(1,0,0,1.08,0,-47.472)" >0.5</text>
<text x="338.50" y="291.20" font-size="13.5" text-anchor="start" font-weight="bold" fill="#000" transform="matrix(1,0,0,1.08,0,-23.296)" >d</text>
<text x="406.50" y="307.20" font-size="12.3" text-anchor="start" font-weight="normal" fill="#000" transform="matrix(1,0,0,1.08,0,-24.576)" >Validation of Ecotypes in independent cohorts</text>
<text x="375.40" y="323.60" font-size="12.0" text-anchor="start" font-weight="normal" fill="#000" transform="matrix(1,0,0,1.08,0,-25.888)" >BCC</text>
<text x="504.50" y="323.60" font-size="12.0" text-anchor="start" font-weight="normal" fill="#000" transform="matrix(1,0,0,1.08,0,-25.888)" >SKCM</text>
<text x="628.50" y="323.60" font-size="12.0" text-anchor="start" font-weight="normal" fill="#000" transform="matrix(1,0,0,1.08,0,-25.888)" >BLCA</text>
<text x="300.40" y="336.90" font-size="10.9" text-anchor="start" font-weight="normal" fill="#000" transform="matrix(1,0,0,1.08,0,-26.952)" >Response</text>
<rect x="352.70" y="327.20" width="7.62" height="13.80" fill="#D93A30" shape-rendering="crispEdges"/>
<rect x="360.32" y="327.20" width="7.62" height="13.80" fill="#F8D84A" shape-rendering="crispEdges"/>
<rect x="367.94" y="327.20" width="15.24" height="13.80" fill="#D93A30" shape-rendering="crispEdges"/>
<rect x="383.17" y="327.20" width="7.62" height="13.80" fill="#F8D84A" shape-rendering="crispEdges"/>
<rect x="390.79" y="327.20" width="7.62" height="13.80" fill="#D93A30" shape-rendering="crispEdges"/>
<rect x="398.41" y="327.20" width="22.85" height="13.80" fill="#F8D84A" shape-rendering="crispEdges"/>
<rect x="421.26" y="327.20" width="15.24" height="13.80" fill="#D93A30" shape-rendering="crispEdges"/>
<rect x="352.70" y="327.20" width="83.80" height="13.80" fill="none" stroke="#222" stroke-width="1.1"/>
<rect x="438.60" y="327.20" width="6.77" height="13.80" fill="#6DB665" shape-rendering="crispEdges"/>
<rect x="445.37" y="327.20" width="6.77" height="13.80" fill="#D93A30" shape-rendering="crispEdges"/>
<rect x="452.14" y="327.20" width="6.77" height="13.80" fill="#6DB665" shape-rendering="crispEdges"/>
<rect x="458.90" y="327.20" width="6.77" height="13.80" fill="#D93A30" shape-rendering="crispEdges"/>
<rect x="465.67" y="327.20" width="6.77" height="13.80" fill="#6DB665" shape-rendering="crispEdges"/>
<rect x="472.44" y="327.20" width="20.30" height="13.80" fill="#D93A30" shape-rendering="crispEdges"/>
<rect x="492.74" y="327.20" width="13.54" height="13.80" fill="#6DB665" shape-rendering="crispEdges"/>
<rect x="506.28" y="327.20" width="6.77" height="13.80" fill="#D93A30" shape-rendering="crispEdges"/>
<rect x="513.05" y="327.20" width="20.30" height="13.80" fill="#6DB665" shape-rendering="crispEdges"/>
<rect x="533.35" y="327.20" width="6.77" height="13.80" fill="#F8D84A" shape-rendering="crispEdges"/>
<rect x="540.12" y="327.20" width="13.54" height="13.80" fill="#6DB665" shape-rendering="crispEdges"/>
<rect x="553.66" y="327.20" width="6.77" height="13.80" fill="#D93A30" shape-rendering="crispEdges"/>
<rect x="560.42" y="327.20" width="6.77" height="13.80" fill="#6DB665" shape-rendering="crispEdges"/>
<rect x="567.19" y="327.20" width="33.84" height="13.80" fill="#D93A30" shape-rendering="crispEdges"/>
<rect x="601.03" y="327.20" width="6.77" height="13.80" fill="#6DB665" shape-rendering="crispEdges"/>
<rect x="438.60" y="327.20" width="169.20" height="13.80" fill="none" stroke="#222" stroke-width="1.1"/>
<rect x="610.50" y="327.20" width="7.40" height="13.80" fill="#F8D84A" shape-rendering="crispEdges"/>
<rect x="617.90" y="327.20" width="14.80" height="13.80" fill="#D93A30" shape-rendering="crispEdges"/>
<rect x="632.70" y="327.20" width="7.40" height="13.80" fill="#F8D84A" shape-rendering="crispEdges"/>
<rect x="640.10" y="327.20" width="14.80" height="13.80" fill="#D93A30" shape-rendering="crispEdges"/>
<rect x="654.90" y="327.20" width="14.80" height="13.80" fill="#F8D84A" shape-rendering="crispEdges"/>
<rect x="669.70" y="327.20" width="7.40" height="13.80" fill="#D93A30" shape-rendering="crispEdges"/>
<rect x="677.10" y="327.20" width="7.40" height="13.80" fill="#F8D84A" shape-rendering="crispEdges"/>
<rect x="610.50" y="327.20" width="74.00" height="13.80" fill="none" stroke="#222" stroke-width="1.1"/>
<rect x="352.70" y="346.10" width="7.62" height="16.45" fill="#97D83F" shape-rendering="crispEdges"/>
<rect x="360.32" y="346.10" width="7.62" height="16.45" fill="#FDE725" shape-rendering="crispEdges"/>
<rect x="367.94" y="346.10" width="7.62" height="16.45" fill="#472878" shape-rendering="crispEdges"/>
<rect x="375.56" y="346.10" width="7.62" height="16.45" fill="#440154" shape-rendering="crispEdges"/>
<rect x="383.18" y="346.10" width="7.62" height="16.45" fill="#FDE725" shape-rendering="crispEdges"/>
<rect x="390.80" y="346.10" width="7.62" height="16.45" fill="#BEBEBE" shape-rendering="crispEdges"/>
<rect x="398.42" y="346.10" width="7.62" height="16.45" fill="#1FA188" shape-rendering="crispEdges"/>
<rect x="406.04" y="346.10" width="7.62" height="16.45" fill="#440154" shape-rendering="crispEdges"/>
<rect x="413.66" y="346.10" width="22.86" height="16.45" fill="#30698E" shape-rendering="crispEdges"/>
<rect x="352.70" y="362.55" width="15.24" height="16.45" fill="#3E4C8A" shape-rendering="crispEdges"/>
<rect x="367.94" y="362.55" width="7.62" height="16.45" fill="#30698E" shape-rendering="crispEdges"/>
<rect x="375.56" y="362.55" width="15.24" height="16.45" fill="#25858E" shape-rendering="crispEdges"/>
<rect x="390.80" y="362.55" width="7.62" height="16.45" fill="#BEBEBE" shape-rendering="crispEdges"/>
<rect x="398.42" y="362.55" width="7.62" height="16.45" fill="#440154" shape-rendering="crispEdges"/>
<rect x="406.04" y="362.55" width="7.62" height="16.45" fill="#30698E" shape-rendering="crispEdges"/>
<rect x="413.66" y="362.55" width="7.62" height="16.45" fill="#472878" shape-rendering="crispEdges"/>
<rect x="421.28" y="362.55" width="7.62" height="16.45" fill="#FDE725" shape-rendering="crispEdges"/>
<rect x="428.90" y="362.55" width="7.62" height="16.45" fill="#1FA188" shape-rendering="crispEdges"/>
<rect x="352.70" y="379.00" width="7.62" height="16.45" fill="#97D83F" shape-rendering="crispEdges"/>
<rect x="360.32" y="379.00" width="30.48" height="16.45" fill="#FDE725" shape-rendering="crispEdges"/>
<rect x="390.80" y="379.00" width="7.62" height="16.45" fill="#1FA188" shape-rendering="crispEdges"/>
<rect x="398.42" y="379.00" width="7.62" height="16.45" fill="#30698E" shape-rendering="crispEdges"/>
<rect x="406.04" y="379.00" width="7.62" height="16.45" fill="#FDE725" shape-rendering="crispEdges"/>
<rect x="413.66" y="379.00" width="7.62" height="16.45" fill="#3E4C8A" shape-rendering="crispEdges"/>
<rect x="421.28" y="379.00" width="7.62" height="16.45" fill="#BEBEBE" shape-rendering="crispEdges"/>
<rect x="428.90" y="379.00" width="7.62" height="16.45" fill="#4CC26C" shape-rendering="crispEdges"/>
<rect x="352.70" y="395.45" width="7.62" height="16.45" fill="#3E4C8A" shape-rendering="crispEdges"/>
<rect x="360.32" y="395.45" width="7.62" height="16.45" fill="#472878" shape-rendering="crispEdges"/>
<rect x="367.94" y="395.45" width="7.62" height="16.45" fill="#25858E" shape-rendering="crispEdges"/>
<rect x="375.56" y="395.45" width="7.62" height="16.45" fill="#1FA188" shape-rendering="crispEdges"/>
<rect x="383.18" y="395.45" width="15.24" height="16.45" fill="#472878" shape-rendering="crispEdges"/>
<rect x="398.42" y="395.45" width="7.62" height="16.45" fill="#3E4C8A" shape-rendering="crispEdges"/>
<rect x="406.04" y="395.45" width="7.62" height="16.45" fill="#1FA188" shape-rendering="crispEdges"/>
<rect x="413.66" y="395.45" width="15.24" height="16.45" fill="#472878" shape-rendering="crispEdges"/>
<rect x="428.90" y="395.45" width="7.62" height="16.45" fill="#30698E" shape-rendering="crispEdges"/>
<rect x="352.70" y="411.90" width="7.62" height="16.45" fill="#1FA188" shape-rendering="crispEdges"/>
<rect x="360.32" y="411.90" width="7.62" height="16.45" fill="#4CC26C" shape-rendering="crispEdges"/>
<rect x="367.94" y="411.90" width="7.62" height="16.45" fill="#472878" shape-rendering="crispEdges"/>
<rect x="375.56" y="411.90" width="7.62" height="16.45" fill="#FDE725" shape-rendering="crispEdges"/>
<rect x="383.18" y="411.90" width="7.62" height="16.45" fill="#4CC26C" shape-rendering="crispEdges"/>
<rect x="390.80" y="411.90" width="7.62" height="16.45" fill="#97D83F" shape-rendering="crispEdges"/>
<rect x="398.42" y="411.90" width="7.62" height="16.45" fill="#3E4C8A" shape-rendering="crispEdges"/>
<rect x="406.04" y="411.90" width="7.62" height="16.45" fill="#25858E" shape-rendering="crispEdges"/>
<rect x="413.66" y="411.90" width="7.62" height="16.45" fill="#30698E" shape-rendering="crispEdges"/>
<rect x="421.28" y="411.90" width="7.62" height="16.45" fill="#4CC26C" shape-rendering="crispEdges"/>
<rect x="428.90" y="411.90" width="7.62" height="16.45" fill="#3E4C8A" shape-rendering="crispEdges"/>
<rect x="352.70" y="428.35" width="7.62" height="16.45" fill="#FDE725" shape-rendering="crispEdges"/>
<rect x="360.32" y="428.35" width="7.62" height="16.45" fill="#1FA188" shape-rendering="crispEdges"/>
<rect x="367.94" y="428.35" width="15.24" height="16.45" fill="#FDE725" shape-rendering="crispEdges"/>
<rect x="383.18" y="428.35" width="7.62" height="16.45" fill="#4CC26C" shape-rendering="crispEdges"/>
<rect x="390.80" y="428.35" width="7.62" height="16.45" fill="#BEBEBE" shape-rendering="crispEdges"/>
<rect x="398.42" y="428.35" width="7.62" height="16.45" fill="#FDE725" shape-rendering="crispEdges"/>
<rect x="406.04" y="428.35" width="7.62" height="16.45" fill="#440154" shape-rendering="crispEdges"/>
<rect x="413.66" y="428.35" width="7.62" height="16.45" fill="#1FA188" shape-rendering="crispEdges"/>
<rect x="421.28" y="428.35" width="7.62" height="16.45" fill="#25858E" shape-rendering="crispEdges"/>
<rect x="428.90" y="428.35" width="7.62" height="16.45" fill="#BEBEBE" shape-rendering="crispEdges"/>
<rect x="352.70" y="444.80" width="7.62" height="16.45" fill="#440154" shape-rendering="crispEdges"/>
<rect x="360.32" y="444.80" width="7.62" height="16.45" fill="#472878" shape-rendering="crispEdges"/>
<rect x="367.94" y="444.80" width="7.62" height="16.45" fill="#3E4C8A" shape-rendering="crispEdges"/>
<rect x="375.56" y="444.80" width="7.62" height="16.45" fill="#440154" shape-rendering="crispEdges"/>
<rect x="383.18" y="444.80" width="7.62" height="16.45" fill="#472878" shape-rendering="crispEdges"/>
<rect x="390.80" y="444.80" width="7.62" height="16.45" fill="#BEBEBE" shape-rendering="crispEdges"/>
<rect x="398.42" y="444.80" width="7.62" height="16.45" fill="#472878" shape-rendering="crispEdges"/>
<rect x="406.04" y="444.80" width="7.62" height="16.45" fill="#440154" shape-rendering="crispEdges"/>
<rect x="413.66" y="444.80" width="7.62" height="16.45" fill="#472878" shape-rendering="crispEdges"/>
<rect x="421.28" y="444.80" width="7.62" height="16.45" fill="#4CC26C" shape-rendering="crispEdges"/>
<rect x="428.90" y="444.80" width="7.62" height="16.45" fill="#1FA188" shape-rendering="crispEdges"/>
<rect x="352.70" y="461.25" width="7.62" height="16.45" fill="#4CC26C" shape-rendering="crispEdges"/>
<rect x="360.32" y="461.25" width="7.62" height="16.45" fill="#97D83F" shape-rendering="crispEdges"/>
<rect x="367.94" y="461.25" width="7.62" height="16.45" fill="#1FA188" shape-rendering="crispEdges"/>
<rect x="375.56" y="461.25" width="7.62" height="16.45" fill="#440154" shape-rendering="crispEdges"/>
<rect x="383.18" y="461.25" width="7.62" height="16.45" fill="#1FA188" shape-rendering="crispEdges"/>
<rect x="390.80" y="461.25" width="7.62" height="16.45" fill="#BEBEBE" shape-rendering="crispEdges"/>
<rect x="398.42" y="461.25" width="7.62" height="16.45" fill="#4CC26C" shape-rendering="crispEdges"/>
<rect x="406.04" y="461.25" width="15.24" height="16.45" fill="#FDE725" shape-rendering="crispEdges"/>
<rect x="421.28" y="461.25" width="7.62" height="16.45" fill="#1FA188" shape-rendering="crispEdges"/>
<rect x="428.90" y="461.25" width="7.62" height="16.45" fill="#3E4C8A" shape-rendering="crispEdges"/>
<rect x="352.70" y="477.70" width="7.62" height="16.45" fill="#440154" shape-rendering="crispEdges"/>
<rect x="360.32" y="477.70" width="15.24" height="16.45" fill="#30698E" shape-rendering="crispEdges"/>
<rect x="375.56" y="477.70" width="7.62" height="16.45" fill="#3E4C8A" shape-rendering="crispEdges"/>
<rect x="383.18" y="477.70" width="7.62" height="16.45" fill="#30698E" shape-rendering="crispEdges"/>
<rect x="390.80" y="477.70" width="7.62" height="16.45" fill="#440154" shape-rendering="crispEdges"/>
<rect x="398.42" y="477.70" width="7.62" height="16.45" fill="#FDE725" shape-rendering="crispEdges"/>
<rect x="406.04" y="477.70" width="7.62" height="16.45" fill="#4CC26C" shape-rendering="crispEdges"/>
<rect x="413.66" y="477.70" width="7.62" height="16.45" fill="#FDE725" shape-rendering="crispEdges"/>
<rect x="421.28" y="477.70" width="15.24" height="16.45" fill="#440154" shape-rendering="crispEdges"/>
<rect x="352.70" y="494.15" width="22.86" height="16.45" fill="#30698E" shape-rendering="crispEdges"/>
<rect x="375.56" y="494.15" width="7.62" height="16.45" fill="#3E4C8A" shape-rendering="crispEdges"/>
<rect x="383.18" y="494.15" width="7.62" height="16.45" fill="#4CC26C" shape-rendering="crispEdges"/>
<rect x="390.80" y="494.15" width="15.24" height="16.45" fill="#1FA188" shape-rendering="crispEdges"/>
<rect x="406.04" y="494.15" width="7.62" height="16.45" fill="#4CC26C" shape-rendering="crispEdges"/>
<rect x="413.66" y="494.15" width="7.62" height="16.45" fill="#30698E" shape-rendering="crispEdges"/>
<rect x="421.28" y="494.15" width="7.62" height="16.45" fill="#25858E" shape-rendering="crispEdges"/>
<rect x="428.90" y="494.15" width="7.62" height="16.45" fill="#30698E" shape-rendering="crispEdges"/>
<rect x="352.70" y="510.60" width="7.62" height="16.45" fill="#30698E" shape-rendering="crispEdges"/>
<rect x="360.32" y="510.60" width="7.62" height="16.45" fill="#472878" shape-rendering="crispEdges"/>
<rect x="367.94" y="510.60" width="15.24" height="16.45" fill="#3E4C8A" shape-rendering="crispEdges"/>
<rect x="383.18" y="510.60" width="7.62" height="16.45" fill="#30698E" shape-rendering="crispEdges"/>
<rect x="390.80" y="510.60" width="7.62" height="16.45" fill="#25858E" shape-rendering="crispEdges"/>
<rect x="398.42" y="510.60" width="15.24" height="16.45" fill="#30698E" shape-rendering="crispEdges"/>
<rect x="413.66" y="510.60" width="7.62" height="16.45" fill="#472878" shape-rendering="crispEdges"/>
<rect x="421.28" y="510.60" width="7.62" height="16.45" fill="#30698E" shape-rendering="crispEdges"/>
<rect x="428.90" y="510.60" width="7.62" height="16.45" fill="#3E4C8A" shape-rendering="crispEdges"/>
<rect x="352.70" y="527.05" width="7.62" height="16.45" fill="#472878" shape-rendering="crispEdges"/>
<rect x="360.32" y="527.05" width="15.24" height="16.45" fill="#3E4C8A" shape-rendering="crispEdges"/>
<rect x="375.56" y="527.05" width="7.62" height="16.45" fill="#440154" shape-rendering="crispEdges"/>
<rect x="383.18" y="527.05" width="7.62" height="16.45" fill="#30698E" shape-rendering="crispEdges"/>
<rect x="390.80" y="527.05" width="7.62" height="16.45" fill="#BEBEBE" shape-rendering="crispEdges"/>
<rect x="398.42" y="527.05" width="7.62" height="16.45" fill="#30698E" shape-rendering="crispEdges"/>
<rect x="406.04" y="527.05" width="7.62" height="16.45" fill="#440154" shape-rendering="crispEdges"/>
<rect x="413.66" y="527.05" width="7.62" height="16.45" fill="#3E4C8A" shape-rendering="crispEdges"/>
<rect x="421.28" y="527.05" width="15.24" height="16.45" fill="#FDE725" shape-rendering="crispEdges"/>
<rect x="352.70" y="543.50" width="7.62" height="16.45" fill="#440154" shape-rendering="crispEdges"/>
<rect x="360.32" y="543.50" width="7.62" height="16.45" fill="#30698E" shape-rendering="crispEdges"/>
<rect x="367.94" y="543.50" width="22.86" height="16.45" fill="#472878" shape-rendering="crispEdges"/>
<rect x="390.80" y="543.50" width="7.62" height="16.45" fill="#3E4C8A" shape-rendering="crispEdges"/>
<rect x="398.42" y="543.50" width="7.62" height="16.45" fill="#25858E" shape-rendering="crispEdges"/>
<rect x="406.04" y="543.50" width="15.24" height="16.45" fill="#472878" shape-rendering="crispEdges"/>
<rect x="421.28" y="543.50" width="7.62" height="16.45" fill="#4CC26C" shape-rendering="crispEdges"/>
<rect x="428.90" y="543.50" width="7.62" height="16.45" fill="#97D83F" shape-rendering="crispEdges"/>
<rect x="352.70" y="559.95" width="7.62" height="16.45" fill="#472878" shape-rendering="crispEdges"/>
<rect x="360.32" y="559.95" width="15.24" height="16.45" fill="#3E4C8A" shape-rendering="crispEdges"/>
<rect x="375.56" y="559.95" width="7.62" height="16.45" fill="#440154" shape-rendering="crispEdges"/>
<rect x="383.18" y="559.95" width="7.62" height="16.45" fill="#472878" shape-rendering="crispEdges"/>
<rect x="390.80" y="559.95" width="15.24" height="16.45" fill="#3E4C8A" shape-rendering="crispEdges"/>
<rect x="406.04" y="559.95" width="7.62" height="16.45" fill="#472878" shape-rendering="crispEdges"/>
<rect x="413.66" y="559.95" width="7.62" height="16.45" fill="#30698E" shape-rendering="crispEdges"/>
<rect x="421.28" y="559.95" width="7.62" height="16.45" fill="#97D83F" shape-rendering="crispEdges"/>
<rect x="428.90" y="559.95" width="7.62" height="16.45" fill="#FDE725" shape-rendering="crispEdges"/>
<rect x="352.70" y="346.10" width="83.82" height="230.30" fill="none" stroke="#000" stroke-width="1.0"/>
<rect x="351.55" y="344.95" width="46.87" height="83.40" fill="none" stroke="#fff" stroke-width="3.0"/>
<rect x="398.42" y="428.35" width="22.86" height="98.70" fill="none" stroke="#fff" stroke-width="3.0"/>
<rect x="421.28" y="527.05" width="16.39" height="50.50" fill="none" stroke="#fff" stroke-width="3.0"/>
<rect x="438.60" y="343.00" width="6.77" height="16.48" fill="#472878" shape-rendering="crispEdges"/>
<rect x="445.37" y="343.00" width="6.77" height="16.48" fill="#440154" shape-rendering="crispEdges"/>
<rect x="452.14" y="343.00" width="6.77" height="16.48" fill="#FDE725" shape-rendering="crispEdges"/>
<rect x="458.90" y="343.00" width="6.77" height="16.48" fill="#97D83F" shape-rendering="crispEdges"/>
<rect x="465.67" y="343.00" width="6.77" height="16.48" fill="#FDE725" shape-rendering="crispEdges"/>
<rect x="472.44" y="343.00" width="6.77" height="16.48" fill="#30698E" shape-rendering="crispEdges"/>
<rect x="479.21" y="343.00" width="6.77" height="16.48" fill="#97D83F" shape-rendering="crispEdges"/>
<rect x="485.98" y="343.00" width="6.77" height="16.48" fill="#3E4C8A" shape-rendering="crispEdges"/>
<rect x="492.74" y="343.00" width="6.77" height="16.48" fill="#BEBEBE" shape-rendering="crispEdges"/>
<rect x="499.51" y="343.00" width="6.77" height="16.48" fill="#30698E" shape-rendering="crispEdges"/>
<rect x="506.28" y="343.00" width="6.77" height="16.48" fill="#472878" shape-rendering="crispEdges"/>
<rect x="513.05" y="343.00" width="6.77" height="16.48" fill="#25858E" shape-rendering="crispEdges"/>
<rect x="519.82" y="343.00" width="13.54" height="16.48" fill="#440154" shape-rendering="crispEdges"/>
<rect x="533.35" y="343.00" width="6.77" height="16.48" fill="#472878" shape-rendering="crispEdges"/>
<rect x="540.12" y="343.00" width="6.77" height="16.48" fill="#440154" shape-rendering="crispEdges"/>
<rect x="546.89" y="343.00" width="6.77" height="16.48" fill="#3E4C8A" shape-rendering="crispEdges"/>
<rect x="553.66" y="343.00" width="6.77" height="16.48" fill="#440154" shape-rendering="crispEdges"/>
<rect x="560.42" y="343.00" width="13.54" height="16.48" fill="#472878" shape-rendering="crispEdges"/>
<rect x="573.96" y="343.00" width="33.84" height="16.48" fill="#440154" shape-rendering="crispEdges"/>
<rect x="438.60" y="359.48" width="20.30" height="16.48" fill="#FDE725" shape-rendering="crispEdges"/>
<rect x="458.90" y="359.48" width="20.30" height="16.48" fill="#440154" shape-rendering="crispEdges"/>
<rect x="479.21" y="359.48" width="6.77" height="16.48" fill="#30698E" shape-rendering="crispEdges"/>
<rect x="485.98" y="359.48" width="6.77" height="16.48" fill="#FDE725" shape-rendering="crispEdges"/>
<rect x="492.74" y="359.48" width="6.77" height="16.48" fill="#25858E" shape-rendering="crispEdges"/>
<rect x="499.51" y="359.48" width="6.77" height="16.48" fill="#472878" shape-rendering="crispEdges"/>
<rect x="506.28" y="359.48" width="20.30" height="16.48" fill="#30698E" shape-rendering="crispEdges"/>
<rect x="526.58" y="359.48" width="33.84" height="16.48" fill="#440154" shape-rendering="crispEdges"/>
<rect x="560.42" y="359.48" width="6.77" height="16.48" fill="#1FA188" shape-rendering="crispEdges"/>
<rect x="567.19" y="359.48" width="13.54" height="16.48" fill="#25858E" shape-rendering="crispEdges"/>
<rect x="580.73" y="359.48" width="6.77" height="16.48" fill="#1FA188" shape-rendering="crispEdges"/>
<rect x="587.50" y="359.48" width="6.77" height="16.48" fill="#440154" shape-rendering="crispEdges"/>
<rect x="594.26" y="359.48" width="6.77" height="16.48" fill="#3E4C8A" shape-rendering="crispEdges"/>
<rect x="601.03" y="359.48" width="6.77" height="16.48" fill="#440154" shape-rendering="crispEdges"/>
<rect x="438.60" y="375.96" width="6.77" height="16.48" fill="#4CC26C" shape-rendering="crispEdges"/>
<rect x="445.37" y="375.96" width="6.77" height="16.48" fill="#BEBEBE" shape-rendering="crispEdges"/>
<rect x="452.14" y="375.96" width="6.77" height="16.48" fill="#440154" shape-rendering="crispEdges"/>
<rect x="458.90" y="375.96" width="27.07" height="16.48" fill="#FDE725" shape-rendering="crispEdges"/>
<rect x="485.98" y="375.96" width="6.77" height="16.48" fill="#30698E" shape-rendering="crispEdges"/>
<rect x="492.74" y="375.96" width="6.77" height="16.48" fill="#472878" shape-rendering="crispEdges"/>
<rect x="499.51" y="375.96" width="13.54" height="16.48" fill="#440154" shape-rendering="crispEdges"/>
<rect x="513.05" y="375.96" width="6.77" height="16.48" fill="#1FA188" shape-rendering="crispEdges"/>
<rect x="519.82" y="375.96" width="6.77" height="16.48" fill="#440154" shape-rendering="crispEdges"/>
<rect x="526.58" y="375.96" width="6.77" height="16.48" fill="#30698E" shape-rendering="crispEdges"/>
<rect x="533.35" y="375.96" width="6.77" height="16.48" fill="#440154" shape-rendering="crispEdges"/>
<rect x="540.12" y="375.96" width="6.77" height="16.48" fill="#BEBEBE" shape-rendering="crispEdges"/>
<rect x="546.89" y="375.96" width="6.77" height="16.48" fill="#440154" shape-rendering="crispEdges"/>
<rect x="553.66" y="375.96" width="6.77" height="16.48" fill="#3E4C8A" shape-rendering="crispEdges"/>
<rect x="560.42" y="375.96" width="13.54" height="16.48" fill="#440154" shape-rendering="crispEdges"/>
<rect x="573.96" y="375.96" width="6.77" height="16.48" fill="#4CC26C" shape-rendering="crispEdges"/>
<rect x="580.73" y="375.96" width="13.54" height="16.48" fill="#BEBEBE" shape-rendering="crispEdges"/>
<rect x="594.26" y="375.96" width="13.54" height="16.48" fill="#440154" shape-rendering="crispEdges"/>
<rect x="438.60" y="392.44" width="27.07" height="16.48" fill="#440154" shape-rendering="crispEdges"/>
<rect x="465.67" y="392.44" width="13.54" height="16.48" fill="#472878" shape-rendering="crispEdges"/>
<rect x="479.21" y="392.44" width="6.77" height="16.48" fill="#3E4C8A" shape-rendering="crispEdges"/>
<rect x="485.98" y="392.44" width="13.54" height="16.48" fill="#472878" shape-rendering="crispEdges"/>
<rect x="499.51" y="392.44" width="13.54" height="16.48" fill="#440154" shape-rendering="crispEdges"/>
<rect x="513.05" y="392.44" width="20.30" height="16.48" fill="#472878" shape-rendering="crispEdges"/>
<rect x="533.35" y="392.44" width="13.54" height="16.48" fill="#440154" shape-rendering="crispEdges"/>
<rect x="546.89" y="392.44" width="6.77" height="16.48" fill="#25858E" shape-rendering="crispEdges"/>
<rect x="553.66" y="392.44" width="6.77" height="16.48" fill="#440154" shape-rendering="crispEdges"/>
<rect x="560.42" y="392.44" width="6.77" height="16.48" fill="#472878" shape-rendering="crispEdges"/>
<rect x="567.19" y="392.44" width="6.77" height="16.48" fill="#440154" shape-rendering="crispEdges"/>
<rect x="573.96" y="392.44" width="6.77" height="16.48" fill="#3E4C8A" shape-rendering="crispEdges"/>
<rect x="580.73" y="392.44" width="6.77" height="16.48" fill="#BEBEBE" shape-rendering="crispEdges"/>
<rect x="587.50" y="392.44" width="20.30" height="16.48" fill="#440154" shape-rendering="crispEdges"/>
<rect x="438.60" y="408.92" width="6.77" height="16.48" fill="#472878" shape-rendering="crispEdges"/>
<rect x="445.37" y="408.92" width="6.77" height="16.48" fill="#30698E" shape-rendering="crispEdges"/>
<rect x="452.14" y="408.92" width="6.77" height="16.48" fill="#440154" shape-rendering="crispEdges"/>
<rect x="458.90" y="408.92" width="6.77" height="16.48" fill="#FDE725" shape-rendering="crispEdges"/>
<rect x="465.67" y="408.92" width="6.77" height="16.48" fill="#30698E" shape-rendering="crispEdges"/>
<rect x="472.44" y="408.92" width="6.77" height="16.48" fill="#3E4C8A" shape-rendering="crispEdges"/>
<rect x="479.21" y="408.92" width="6.77" height="16.48" fill="#97D83F" shape-rendering="crispEdges"/>
<rect x="485.98" y="408.92" width="6.77" height="16.48" fill="#472878" shape-rendering="crispEdges"/>
<rect x="492.74" y="408.92" width="6.77" height="16.48" fill="#FDE725" shape-rendering="crispEdges"/>
<rect x="499.51" y="408.92" width="6.77" height="16.48" fill="#30698E" shape-rendering="crispEdges"/>
<rect x="506.28" y="408.92" width="6.77" height="16.48" fill="#440154" shape-rendering="crispEdges"/>
<rect x="513.05" y="408.92" width="6.77" height="16.48" fill="#3E4C8A" shape-rendering="crispEdges"/>
<rect x="519.82" y="408.92" width="6.77" height="16.48" fill="#440154" shape-rendering="crispEdges"/>
<rect x="526.58" y="408.92" width="6.77" height="16.48" fill="#4CC26C" shape-rendering="crispEdges"/>
<rect x="533.35" y="408.92" width="6.77" height="16.48" fill="#3E4C8A" shape-rendering="crispEdges"/>
<rect x="540.12" y="408.92" width="6.77" height="16.48" fill="#30698E" shape-rendering="crispEdges"/>
<rect x="546.89" y="408.92" width="6.77" height="16.48" fill="#472878" shape-rendering="crispEdges"/>
<rect x="553.66" y="408.92" width="6.77" height="16.48" fill="#3E4C8A" shape-rendering="crispEdges"/>
<rect x="560.42" y="408.92" width="6.77" height="16.48" fill="#25858E" shape-rendering="crispEdges"/>
<rect x="567.19" y="408.92" width="6.77" height="16.48" fill="#3E4C8A" shape-rendering="crispEdges"/>
<rect x="573.96" y="408.92" width="6.77" height="16.48" fill="#440154" shape-rendering="crispEdges"/>
<rect x="580.73" y="408.92" width="6.77" height="16.48" fill="#BEBEBE" shape-rendering="crispEdges"/>
<rect x="587.50" y="408.92" width="20.30" height="16.48" fill="#440154" shape-rendering="crispEdges"/>
<rect x="438.60" y="425.40" width="6.77" height="16.48" fill="#97D83F" shape-rendering="crispEdges"/>
<rect x="445.37" y="425.40" width="6.77" height="16.48" fill="#FDE725" shape-rendering="crispEdges"/>
<rect x="452.14" y="425.40" width="6.77" height="16.48" fill="#440154" shape-rendering="crispEdges"/>
<rect x="458.90" y="425.40" width="6.77" height="16.48" fill="#97D83F" shape-rendering="crispEdges"/>
<rect x="465.67" y="425.40" width="6.77" height="16.48" fill="#3E4C8A" shape-rendering="crispEdges"/>
<rect x="472.44" y="425.40" width="13.54" height="16.48" fill="#25858E" shape-rendering="crispEdges"/>
<rect x="485.98" y="425.40" width="6.77" height="16.48" fill="#4CC26C" shape-rendering="crispEdges"/>
<rect x="492.74" y="425.40" width="6.77" height="16.48" fill="#BEBEBE" shape-rendering="crispEdges"/>
<rect x="499.51" y="425.40" width="6.77" height="16.48" fill="#97D83F" shape-rendering="crispEdges"/>
<rect x="506.28" y="425.40" width="6.77" height="16.48" fill="#4CC26C" shape-rendering="crispEdges"/>
<rect x="513.05" y="425.40" width="6.77" height="16.48" fill="#97D83F" shape-rendering="crispEdges"/>
<rect x="519.82" y="425.40" width="6.77" height="16.48" fill="#440154" shape-rendering="crispEdges"/>
<rect x="526.58" y="425.40" width="6.77" height="16.48" fill="#FDE725" shape-rendering="crispEdges"/>
<rect x="533.35" y="425.40" width="6.77" height="16.48" fill="#3E4C8A" shape-rendering="crispEdges"/>
<rect x="540.12" y="425.40" width="13.54" height="16.48" fill="#FDE725" shape-rendering="crispEdges"/>
<rect x="553.66" y="425.40" width="6.77" height="16.48" fill="#440154" shape-rendering="crispEdges"/>
<rect x="560.42" y="425.40" width="6.77" height="16.48" fill="#1FA188" shape-rendering="crispEdges"/>
<rect x="567.19" y="425.40" width="6.77" height="16.48" fill="#25858E" shape-rendering="crispEdges"/>
<rect x="573.96" y="425.40" width="6.77" height="16.48" fill="#FDE725" shape-rendering="crispEdges"/>
<rect x="580.73" y="425.40" width="6.77" height="16.48" fill="#4CC26C" shape-rendering="crispEdges"/>
<rect x="587.50" y="425.40" width="6.77" height="16.48" fill="#FDE725" shape-rendering="crispEdges"/>
<rect x="594.26" y="425.40" width="6.77" height="16.48" fill="#3E4C8A" shape-rendering="crispEdges"/>
<rect x="601.03" y="425.40" width="6.77" height="16.48" fill="#97D83F" shape-rendering="crispEdges"/>
<rect x="438.60" y="441.88" width="6.77" height="16.48" fill="#440154" shape-rendering="crispEdges"/>
<rect x="445.37" y="441.88" width="6.77" height="16.48" fill="#3E4C8A" shape-rendering="crispEdges"/>
<rect x="452.14" y="441.88" width="6.77" height="16.48" fill="#30698E" shape-rendering="crispEdges"/>
<rect x="458.90" y="441.88" width="6.77" height="16.48" fill="#440154" shape-rendering="crispEdges"/>
<rect x="465.67" y="441.88" width="6.77" height="16.48" fill="#FDE725" shape-rendering="crispEdges"/>
<rect x="472.44" y="441.88" width="20.30" height="16.48" fill="#440154" shape-rendering="crispEdges"/>
<rect x="492.74" y="441.88" width="6.77" height="16.48" fill="#3E4C8A" shape-rendering="crispEdges"/>
<rect x="499.51" y="441.88" width="6.77" height="16.48" fill="#472878" shape-rendering="crispEdges"/>
<rect x="506.28" y="441.88" width="6.77" height="16.48" fill="#440154" shape-rendering="crispEdges"/>
<rect x="513.05" y="441.88" width="6.77" height="16.48" fill="#25858E" shape-rendering="crispEdges"/>
<rect x="519.82" y="441.88" width="6.77" height="16.48" fill="#FDE725" shape-rendering="crispEdges"/>
<rect x="526.58" y="441.88" width="6.77" height="16.48" fill="#30698E" shape-rendering="crispEdges"/>
<rect x="533.35" y="441.88" width="6.77" height="16.48" fill="#3E4C8A" shape-rendering="crispEdges"/>
<rect x="540.12" y="441.88" width="6.77" height="16.48" fill="#440154" shape-rendering="crispEdges"/>
<rect x="546.89" y="441.88" width="6.77" height="16.48" fill="#30698E" shape-rendering="crispEdges"/>
<rect x="553.66" y="441.88" width="6.77" height="16.48" fill="#3E4C8A" shape-rendering="crispEdges"/>
<rect x="560.42" y="441.88" width="6.77" height="16.48" fill="#30698E" shape-rendering="crispEdges"/>
<rect x="567.19" y="441.88" width="6.77" height="16.48" fill="#25858E" shape-rendering="crispEdges"/>
<rect x="573.96" y="441.88" width="20.30" height="16.48" fill="#440154" shape-rendering="crispEdges"/>
<rect x="594.26" y="441.88" width="6.77" height="16.48" fill="#1FA188" shape-rendering="crispEdges"/>
<rect x="601.03" y="441.88" width="6.77" height="16.48" fill="#440154" shape-rendering="crispEdges"/>
<rect x="438.60" y="458.36" width="33.84" height="16.48" fill="#440154" shape-rendering="crispEdges"/>
<rect x="472.44" y="458.36" width="13.54" height="16.48" fill="#30698E" shape-rendering="crispEdges"/>
<rect x="485.98" y="458.36" width="6.77" height="16.48" fill="#472878" shape-rendering="crispEdges"/>
<rect x="492.74" y="458.36" width="6.77" height="16.48" fill="#25858E" shape-rendering="crispEdges"/>
<rect x="499.51" y="458.36" width="13.54" height="16.48" fill="#3E4C8A" shape-rendering="crispEdges"/>
<rect x="513.05" y="458.36" width="6.77" height="16.48" fill="#472878" shape-rendering="crispEdges"/>
<rect x="519.82" y="458.36" width="6.77" height="16.48" fill="#30698E" shape-rendering="crispEdges"/>
<rect x="526.58" y="458.36" width="6.77" height="16.48" fill="#440154" shape-rendering="crispEdges"/>
<rect x="533.35" y="458.36" width="20.30" height="16.48" fill="#FDE725" shape-rendering="crispEdges"/>
<rect x="553.66" y="458.36" width="6.77" height="16.48" fill="#30698E" shape-rendering="crispEdges"/>
<rect x="560.42" y="458.36" width="6.77" height="16.48" fill="#FDE725" shape-rendering="crispEdges"/>
<rect x="567.19" y="458.36" width="6.77" height="16.48" fill="#30698E" shape-rendering="crispEdges"/>
<rect x="573.96" y="458.36" width="6.77" height="16.48" fill="#4CC26C" shape-rendering="crispEdges"/>
<rect x="580.73" y="458.36" width="20.30" height="16.48" fill="#440154" shape-rendering="crispEdges"/>
<rect x="601.03" y="458.36" width="6.77" height="16.48" fill="#FDE725" shape-rendering="crispEdges"/>
<rect x="438.60" y="474.84" width="6.77" height="16.48" fill="#4CC26C" shape-rendering="crispEdges"/>
<rect x="445.37" y="474.84" width="6.77" height="16.48" fill="#BEBEBE" shape-rendering="crispEdges"/>
<rect x="452.14" y="474.84" width="6.77" height="16.48" fill="#FDE725" shape-rendering="crispEdges"/>
<rect x="458.90" y="474.84" width="27.07" height="16.48" fill="#440154" shape-rendering="crispEdges"/>
<rect x="485.98" y="474.84" width="6.77" height="16.48" fill="#30698E" shape-rendering="crispEdges"/>
<rect x="492.74" y="474.84" width="13.54" height="16.48" fill="#FDE725" shape-rendering="crispEdges"/>
<rect x="506.28" y="474.84" width="6.77" height="16.48" fill="#440154" shape-rendering="crispEdges"/>
<rect x="513.05" y="474.84" width="6.77" height="16.48" fill="#FDE725" shape-rendering="crispEdges"/>
<rect x="519.82" y="474.84" width="6.77" height="16.48" fill="#30698E" shape-rendering="crispEdges"/>
<rect x="526.58" y="474.84" width="6.77" height="16.48" fill="#97D83F" shape-rendering="crispEdges"/>
<rect x="533.35" y="474.84" width="6.77" height="16.48" fill="#FDE725" shape-rendering="crispEdges"/>
<rect x="540.12" y="474.84" width="6.77" height="16.48" fill="#BEBEBE" shape-rendering="crispEdges"/>
<rect x="546.89" y="474.84" width="6.77" height="16.48" fill="#440154" shape-rendering="crispEdges"/>
<rect x="553.66" y="474.84" width="6.77" height="16.48" fill="#30698E" shape-rendering="crispEdges"/>
<rect x="560.42" y="474.84" width="6.77" height="16.48" fill="#FDE725" shape-rendering="crispEdges"/>
<rect x="567.19" y="474.84" width="6.77" height="16.48" fill="#1FA188" shape-rendering="crispEdges"/>
<rect x="573.96" y="474.84" width="6.77" height="16.48" fill="#440154" shape-rendering="crispEdges"/>
<rect x="580.73" y="474.84" width="13.54" height="16.48" fill="#BEBEBE" shape-rendering="crispEdges"/>
<rect x="594.26" y="474.84" width="6.77" height="16.48" fill="#4CC26C" shape-rendering="crispEdges"/>
<rect x="601.03" y="474.84" width="6.77" height="16.48" fill="#FDE725" shape-rendering="crispEdges"/>
<rect x="438.60" y="491.32" width="6.77" height="16.48" fill="#472878" shape-rendering="crispEdges"/>
<rect x="445.37" y="491.32" width="6.77" height="16.48" fill="#30698E" shape-rendering="crispEdges"/>
<rect x="452.14" y="491.32" width="6.77" height="16.48" fill="#440154" shape-rendering="crispEdges"/>
<rect x="458.90" y="491.32" width="13.54" height="16.48" fill="#472878" shape-rendering="crispEdges"/>
<rect x="472.44" y="491.32" width="6.77" height="16.48" fill="#3E4C8A" shape-rendering="crispEdges"/>
<rect x="479.21" y="491.32" width="6.77" height="16.48" fill="#30698E" shape-rendering="crispEdges"/>
<rect x="485.98" y="491.32" width="6.77" height="16.48" fill="#3E4C8A" shape-rendering="crispEdges"/>
<rect x="492.74" y="491.32" width="6.77" height="16.48" fill="#472878" shape-rendering="crispEdges"/>
<rect x="499.51" y="491.32" width="6.77" height="16.48" fill="#4CC26C" shape-rendering="crispEdges"/>
<rect x="506.28" y="491.32" width="6.77" height="16.48" fill="#1FA188" shape-rendering="crispEdges"/>
<rect x="513.05" y="491.32" width="6.77" height="16.48" fill="#3E4C8A" shape-rendering="crispEdges"/>
<rect x="519.82" y="491.32" width="6.77" height="16.48" fill="#30698E" shape-rendering="crispEdges"/>
<rect x="526.58" y="491.32" width="6.77" height="16.48" fill="#3E4C8A" shape-rendering="crispEdges"/>
<rect x="533.35" y="491.32" width="6.77" height="16.48" fill="#1FA188" shape-rendering="crispEdges"/>
<rect x="540.12" y="491.32" width="6.77" height="16.48" fill="#30698E" shape-rendering="crispEdges"/>
<rect x="546.89" y="491.32" width="6.77" height="16.48" fill="#3E4C8A" shape-rendering="crispEdges"/>
<rect x="553.66" y="491.32" width="13.54" height="16.48" fill="#30698E" shape-rendering="crispEdges"/>
<rect x="567.19" y="491.32" width="6.77" height="16.48" fill="#3E4C8A" shape-rendering="crispEdges"/>
<rect x="573.96" y="491.32" width="6.77" height="16.48" fill="#25858E" shape-rendering="crispEdges"/>
<rect x="580.73" y="491.32" width="6.77" height="16.48" fill="#BEBEBE" shape-rendering="crispEdges"/>
<rect x="587.50" y="491.32" width="13.54" height="16.48" fill="#30698E" shape-rendering="crispEdges"/>
<rect x="601.03" y="491.32" width="6.77" height="16.48" fill="#440154" shape-rendering="crispEdges"/>
<rect x="438.60" y="507.80" width="6.77" height="16.48" fill="#440154" shape-rendering="crispEdges"/>
<rect x="445.37" y="507.80" width="6.77" height="16.48" fill="#4CC26C" shape-rendering="crispEdges"/>
<rect x="452.14" y="507.80" width="6.77" height="16.48" fill="#97D83F" shape-rendering="crispEdges"/>
<rect x="458.90" y="507.80" width="6.77" height="16.48" fill="#3E4C8A" shape-rendering="crispEdges"/>
<rect x="465.67" y="507.80" width="6.77" height="16.48" fill="#FDE725" shape-rendering="crispEdges"/>
<rect x="472.44" y="507.80" width="6.77" height="16.48" fill="#25858E" shape-rendering="crispEdges"/>
<rect x="479.21" y="507.80" width="6.77" height="16.48" fill="#97D83F" shape-rendering="crispEdges"/>
<rect x="485.98" y="507.80" width="6.77" height="16.48" fill="#30698E" shape-rendering="crispEdges"/>
<rect x="492.74" y="507.80" width="6.77" height="16.48" fill="#472878" shape-rendering="crispEdges"/>
<rect x="499.51" y="507.80" width="6.77" height="16.48" fill="#4CC26C" shape-rendering="crispEdges"/>
<rect x="506.28" y="507.80" width="6.77" height="16.48" fill="#FDE725" shape-rendering="crispEdges"/>
<rect x="513.05" y="507.80" width="6.77" height="16.48" fill="#3E4C8A" shape-rendering="crispEdges"/>
<rect x="519.82" y="507.80" width="6.77" height="16.48" fill="#97D83F" shape-rendering="crispEdges"/>
<rect x="526.58" y="507.80" width="13.54" height="16.48" fill="#4CC26C" shape-rendering="crispEdges"/>
<rect x="540.12" y="507.80" width="6.77" height="16.48" fill="#25858E" shape-rendering="crispEdges"/>
<rect x="546.89" y="507.80" width="6.77" height="16.48" fill="#FDE725" shape-rendering="crispEdges"/>
<rect x="553.66" y="507.80" width="6.77" height="16.48" fill="#97D83F" shape-rendering="crispEdges"/>
<rect x="560.42" y="507.80" width="6.77" height="16.48" fill="#25858E" shape-rendering="crispEdges"/>
<rect x="567.19" y="507.80" width="6.77" height="16.48" fill="#97D83F" shape-rendering="crispEdges"/>
<rect x="573.96" y="507.80" width="6.77" height="16.48" fill="#FDE725" shape-rendering="crispEdges"/>
<rect x="580.73" y="507.80" width="6.77" height="16.48" fill="#30698E" shape-rendering="crispEdges"/>
<rect x="587.50" y="507.80" width="6.77" height="16.48" fill="#97D83F" shape-rendering="crispEdges"/>
<rect x="594.26" y="507.80" width="6.77" height="16.48" fill="#30698E" shape-rendering="crispEdges"/>
<rect x="601.03" y="507.80" width="6.77" height="16.48" fill="#440154" shape-rendering="crispEdges"/>
<rect x="438.60" y="524.28" width="20.30" height="16.48" fill="#440154" shape-rendering="crispEdges"/>
<rect x="458.90" y="524.28" width="6.77" height="16.48" fill="#1FA188" shape-rendering="crispEdges"/>
<rect x="465.67" y="524.28" width="13.54" height="16.48" fill="#440154" shape-rendering="crispEdges"/>
<rect x="479.21" y="524.28" width="6.77" height="16.48" fill="#30698E" shape-rendering="crispEdges"/>
<rect x="485.98" y="524.28" width="13.54" height="16.48" fill="#3E4C8A" shape-rendering="crispEdges"/>
<rect x="499.51" y="524.28" width="6.77" height="16.48" fill="#FDE725" shape-rendering="crispEdges"/>
<rect x="506.28" y="524.28" width="6.77" height="16.48" fill="#4CC26C" shape-rendering="crispEdges"/>
<rect x="513.05" y="524.28" width="13.54" height="16.48" fill="#3E4C8A" shape-rendering="crispEdges"/>
<rect x="526.58" y="524.28" width="6.77" height="16.48" fill="#4CC26C" shape-rendering="crispEdges"/>
<rect x="533.35" y="524.28" width="6.77" height="16.48" fill="#440154" shape-rendering="crispEdges"/>
<rect x="540.12" y="524.28" width="6.77" height="16.48" fill="#FDE725" shape-rendering="crispEdges"/>
<rect x="546.89" y="524.28" width="6.77" height="16.48" fill="#440154" shape-rendering="crispEdges"/>
<rect x="553.66" y="524.28" width="6.77" height="16.48" fill="#3E4C8A" shape-rendering="crispEdges"/>
<rect x="560.42" y="524.28" width="6.77" height="16.48" fill="#472878" shape-rendering="crispEdges"/>
<rect x="567.19" y="524.28" width="6.77" height="16.48" fill="#30698E" shape-rendering="crispEdges"/>
<rect x="573.96" y="524.28" width="6.77" height="16.48" fill="#1FA188" shape-rendering="crispEdges"/>
<rect x="580.73" y="524.28" width="27.07" height="16.48" fill="#FDE725" shape-rendering="crispEdges"/>
<rect x="438.60" y="540.76" width="6.77" height="16.48" fill="#440154" shape-rendering="crispEdges"/>
<rect x="445.37" y="540.76" width="6.77" height="16.48" fill="#3E4C8A" shape-rendering="crispEdges"/>
<rect x="452.14" y="540.76" width="6.77" height="16.48" fill="#440154" shape-rendering="crispEdges"/>
<rect x="458.90" y="540.76" width="6.77" height="16.48" fill="#472878" shape-rendering="crispEdges"/>
<rect x="465.67" y="540.76" width="6.77" height="16.48" fill="#4CC26C" shape-rendering="crispEdges"/>
<rect x="472.44" y="540.76" width="6.77" height="16.48" fill="#25858E" shape-rendering="crispEdges"/>
<rect x="479.21" y="540.76" width="6.77" height="16.48" fill="#30698E" shape-rendering="crispEdges"/>
<rect x="485.98" y="540.76" width="13.54" height="16.48" fill="#472878" shape-rendering="crispEdges"/>
<rect x="499.51" y="540.76" width="13.54" height="16.48" fill="#1FA188" shape-rendering="crispEdges"/>
<rect x="513.05" y="540.76" width="6.77" height="16.48" fill="#3E4C8A" shape-rendering="crispEdges"/>
<rect x="519.82" y="540.76" width="6.77" height="16.48" fill="#440154" shape-rendering="crispEdges"/>
<rect x="526.58" y="540.76" width="6.77" height="16.48" fill="#472878" shape-rendering="crispEdges"/>
<rect x="533.35" y="540.76" width="6.77" height="16.48" fill="#3E4C8A" shape-rendering="crispEdges"/>
<rect x="540.12" y="540.76" width="13.54" height="16.48" fill="#30698E" shape-rendering="crispEdges"/>
<rect x="553.66" y="540.76" width="13.54" height="16.48" fill="#472878" shape-rendering="crispEdges"/>
<rect x="567.19" y="540.76" width="6.77" height="16.48" fill="#3E4C8A" shape-rendering="crispEdges"/>
<rect x="573.96" y="540.76" width="6.77" height="16.48" fill="#440154" shape-rendering="crispEdges"/>
<rect x="580.73" y="540.76" width="6.77" height="16.48" fill="#BEBEBE" shape-rendering="crispEdges"/>
<rect x="587.50" y="540.76" width="6.77" height="16.48" fill="#440154" shape-rendering="crispEdges"/>
<rect x="594.26" y="540.76" width="6.77" height="16.48" fill="#3E4C8A" shape-rendering="crispEdges"/>
<rect x="601.03" y="540.76" width="6.77" height="16.48" fill="#440154" shape-rendering="crispEdges"/>
<rect x="438.60" y="557.24" width="6.77" height="16.48" fill="#1FA188" shape-rendering="crispEdges"/>
<rect x="445.37" y="557.24" width="13.54" height="16.48" fill="#3E4C8A" shape-rendering="crispEdges"/>
<rect x="458.90" y="557.24" width="13.54" height="16.48" fill="#440154" shape-rendering="crispEdges"/>
<rect x="472.44" y="557.24" width="6.77" height="16.48" fill="#472878" shape-rendering="crispEdges"/>
<rect x="479.21" y="557.24" width="6.77" height="16.48" fill="#30698E" shape-rendering="crispEdges"/>
<rect x="485.98" y="557.24" width="20.30" height="16.48" fill="#3E4C8A" shape-rendering="crispEdges"/>
<rect x="506.28" y="557.24" width="6.77" height="16.48" fill="#472878" shape-rendering="crispEdges"/>
<rect x="513.05" y="557.24" width="6.77" height="16.48" fill="#30698E" shape-rendering="crispEdges"/>
<rect x="519.82" y="557.24" width="13.54" height="16.48" fill="#472878" shape-rendering="crispEdges"/>
<rect x="533.35" y="557.24" width="6.77" height="16.48" fill="#3E4C8A" shape-rendering="crispEdges"/>
<rect x="540.12" y="557.24" width="6.77" height="16.48" fill="#25858E" shape-rendering="crispEdges"/>
<rect x="546.89" y="557.24" width="6.77" height="16.48" fill="#3E4C8A" shape-rendering="crispEdges"/>
<rect x="553.66" y="557.24" width="6.77" height="16.48" fill="#472878" shape-rendering="crispEdges"/>
<rect x="560.42" y="557.24" width="6.77" height="16.48" fill="#440154" shape-rendering="crispEdges"/>
<rect x="567.19" y="557.24" width="6.77" height="16.48" fill="#472878" shape-rendering="crispEdges"/>
<rect x="573.96" y="557.24" width="13.54" height="16.48" fill="#30698E" shape-rendering="crispEdges"/>
<rect x="587.50" y="557.24" width="6.77" height="16.48" fill="#3E4C8A" shape-rendering="crispEdges"/>
<rect x="594.26" y="557.24" width="6.77" height="16.48" fill="#30698E" shape-rendering="crispEdges"/>
<rect x="601.03" y="557.24" width="6.77" height="16.48" fill="#FDE725" shape-rendering="crispEdges"/>
<rect x="438.60" y="343.00" width="169.20" height="230.72" fill="none" stroke="#000" stroke-width="1.0"/>
<rect x="437.45" y="341.85" width="62.06" height="83.55" fill="none" stroke="#fff" stroke-width="3.0"/>
<rect x="499.51" y="425.40" width="81.22" height="98.88" fill="none" stroke="#fff" stroke-width="3.0"/>
<rect x="580.73" y="524.28" width="28.22" height="50.59" fill="none" stroke="#fff" stroke-width="3.0"/>
<rect x="610.50" y="343.00" width="14.80" height="16.48" fill="#FDE725" shape-rendering="crispEdges"/>
<rect x="625.30" y="343.00" width="7.40" height="16.48" fill="#97D83F" shape-rendering="crispEdges"/>
<rect x="632.70" y="343.00" width="7.40" height="16.48" fill="#FDE725" shape-rendering="crispEdges"/>
<rect x="640.10" y="343.00" width="7.40" height="16.48" fill="#30698E" shape-rendering="crispEdges"/>
<rect x="647.50" y="343.00" width="7.40" height="16.48" fill="#FDE725" shape-rendering="crispEdges"/>
<rect x="654.90" y="343.00" width="7.40" height="16.48" fill="#440154" shape-rendering="crispEdges"/>
<rect x="662.30" y="343.00" width="14.80" height="16.48" fill="#3E4C8A" shape-rendering="crispEdges"/>
<rect x="677.10" y="343.00" width="7.40" height="16.48" fill="#25858E" shape-rendering="crispEdges"/>
<rect x="610.50" y="359.48" width="7.40" height="16.48" fill="#472878" shape-rendering="crispEdges"/>
<rect x="617.90" y="359.48" width="22.20" height="16.48" fill="#440154" shape-rendering="crispEdges"/>
<rect x="640.10" y="359.48" width="22.20" height="16.48" fill="#472878" shape-rendering="crispEdges"/>
<rect x="662.30" y="359.48" width="22.20" height="16.48" fill="#440154" shape-rendering="crispEdges"/>
<rect x="610.50" y="375.96" width="7.40" height="16.48" fill="#97D83F" shape-rendering="crispEdges"/>
<rect x="617.90" y="375.96" width="22.20" height="16.48" fill="#FDE725" shape-rendering="crispEdges"/>
<rect x="640.10" y="375.96" width="7.40" height="16.48" fill="#97D83F" shape-rendering="crispEdges"/>
<rect x="647.50" y="375.96" width="7.40" height="16.48" fill="#FDE725" shape-rendering="crispEdges"/>
<rect x="654.90" y="375.96" width="7.40" height="16.48" fill="#440154" shape-rendering="crispEdges"/>
<rect x="662.30" y="375.96" width="7.40" height="16.48" fill="#1FA188" shape-rendering="crispEdges"/>
<rect x="669.70" y="375.96" width="7.40" height="16.48" fill="#30698E" shape-rendering="crispEdges"/>
<rect x="677.10" y="375.96" width="7.40" height="16.48" fill="#1FA188" shape-rendering="crispEdges"/>
<rect x="610.50" y="392.44" width="7.40" height="16.48" fill="#472878" shape-rendering="crispEdges"/>
<rect x="617.90" y="392.44" width="7.40" height="16.48" fill="#3E4C8A" shape-rendering="crispEdges"/>
<rect x="625.30" y="392.44" width="7.40" height="16.48" fill="#472878" shape-rendering="crispEdges"/>
<rect x="632.70" y="392.44" width="7.40" height="16.48" fill="#440154" shape-rendering="crispEdges"/>
<rect x="640.10" y="392.44" width="7.40" height="16.48" fill="#472878" shape-rendering="crispEdges"/>
<rect x="647.50" y="392.44" width="7.40" height="16.48" fill="#3E4C8A" shape-rendering="crispEdges"/>
<rect x="654.90" y="392.44" width="7.40" height="16.48" fill="#440154" shape-rendering="crispEdges"/>
<rect x="662.30" y="392.44" width="7.40" height="16.48" fill="#472878" shape-rendering="crispEdges"/>
<rect x="669.70" y="392.44" width="7.40" height="16.48" fill="#30698E" shape-rendering="crispEdges"/>
<rect x="677.10" y="392.44" width="7.40" height="16.48" fill="#472878" shape-rendering="crispEdges"/>
<rect x="610.50" y="408.92" width="7.40" height="16.48" fill="#25858E" shape-rendering="crispEdges"/>
<rect x="617.90" y="408.92" width="14.80" height="16.48" fill="#FDE725" shape-rendering="crispEdges"/>
<rect x="632.70" y="408.92" width="7.40" height="16.48" fill="#25858E" shape-rendering="crispEdges"/>
<rect x="640.10" y="408.92" width="7.40" height="16.48" fill="#30698E" shape-rendering="crispEdges"/>
<rect x="647.50" y="408.92" width="7.40" height="16.48" fill="#25858E" shape-rendering="crispEdges"/>
<rect x="654.90" y="408.92" width="7.40" height="16.48" fill="#440154" shape-rendering="crispEdges"/>
<rect x="662.30" y="408.92" width="7.40" height="16.48" fill="#25858E" shape-rendering="crispEdges"/>
<rect x="669.70" y="408.92" width="7.40" height="16.48" fill="#30698E" shape-rendering="crispEdges"/>
<rect x="677.10" y="408.92" width="7.40" height="16.48" fill="#3E4C8A" shape-rendering="crispEdges"/>
<rect x="610.50" y="425.40" width="22.20" height="16.48" fill="#30698E" shape-rendering="crispEdges"/>
<rect x="632.70" y="425.40" width="14.80" height="16.48" fill="#1FA188" shape-rendering="crispEdges"/>
<rect x="647.50" y="425.40" width="7.40" height="16.48" fill="#3E4C8A" shape-rendering="crispEdges"/>
<rect x="654.90" y="425.40" width="7.40" height="16.48" fill="#25858E" shape-rendering="crispEdges"/>
<rect x="662.30" y="425.40" width="7.40" height="16.48" fill="#FDE725" shape-rendering="crispEdges"/>
<rect x="669.70" y="425.40" width="14.80" height="16.48" fill="#1FA188" shape-rendering="crispEdges"/>
<rect x="610.50" y="441.88" width="7.40" height="16.48" fill="#4CC26C" shape-rendering="crispEdges"/>
<rect x="617.90" y="441.88" width="7.40" height="16.48" fill="#472878" shape-rendering="crispEdges"/>
<rect x="625.30" y="441.88" width="14.80" height="16.48" fill="#440154" shape-rendering="crispEdges"/>
<rect x="640.10" y="441.88" width="7.40" height="16.48" fill="#3E4C8A" shape-rendering="crispEdges"/>
<rect x="647.50" y="441.88" width="7.40" height="16.48" fill="#1FA188" shape-rendering="crispEdges"/>
<rect x="654.90" y="441.88" width="7.40" height="16.48" fill="#FDE725" shape-rendering="crispEdges"/>
<rect x="662.30" y="441.88" width="14.80" height="16.48" fill="#3E4C8A" shape-rendering="crispEdges"/>
<rect x="677.10" y="441.88" width="7.40" height="16.48" fill="#1FA188" shape-rendering="crispEdges"/>
<rect x="610.50" y="458.36" width="7.40" height="16.48" fill="#25858E" shape-rendering="crispEdges"/>
<rect x="617.90" y="458.36" width="7.40" height="16.48" fill="#FDE725" shape-rendering="crispEdges"/>
<rect x="625.30" y="458.36" width="7.40" height="16.48" fill="#97D83F" shape-rendering="crispEdges"/>
<rect x="632.70" y="458.36" width="7.40" height="16.48" fill="#FDE725" shape-rendering="crispEdges"/>
<rect x="640.10" y="458.36" width="14.80" height="16.48" fill="#3E4C8A" shape-rendering="crispEdges"/>
<rect x="654.90" y="458.36" width="7.40" height="16.48" fill="#440154" shape-rendering="crispEdges"/>
<rect x="662.30" y="458.36" width="7.40" height="16.48" fill="#3E4C8A" shape-rendering="crispEdges"/>
<rect x="669.70" y="458.36" width="14.80" height="16.48" fill="#472878" shape-rendering="crispEdges"/>
<rect x="610.50" y="474.84" width="7.40" height="16.48" fill="#97D83F" shape-rendering="crispEdges"/>
<rect x="617.90" y="474.84" width="7.40" height="16.48" fill="#3E4C8A" shape-rendering="crispEdges"/>
<rect x="625.30" y="474.84" width="14.80" height="16.48" fill="#30698E" shape-rendering="crispEdges"/>
<rect x="640.10" y="474.84" width="14.80" height="16.48" fill="#3E4C8A" shape-rendering="crispEdges"/>
<rect x="654.90" y="474.84" width="7.40" height="16.48" fill="#FDE725" shape-rendering="crispEdges"/>
<rect x="662.30" y="474.84" width="14.80" height="16.48" fill="#30698E" shape-rendering="crispEdges"/>
<rect x="677.10" y="474.84" width="7.40" height="16.48" fill="#FDE725" shape-rendering="crispEdges"/>
<rect x="610.50" y="491.32" width="7.40" height="16.48" fill="#472878" shape-rendering="crispEdges"/>
<rect x="617.90" y="491.32" width="7.40" height="16.48" fill="#30698E" shape-rendering="crispEdges"/>
<rect x="625.30" y="491.32" width="7.40" height="16.48" fill="#440154" shape-rendering="crispEdges"/>
<rect x="632.70" y="491.32" width="7.40" height="16.48" fill="#472878" shape-rendering="crispEdges"/>
<rect x="640.10" y="491.32" width="7.40" height="16.48" fill="#440154" shape-rendering="crispEdges"/>
<rect x="647.50" y="491.32" width="14.80" height="16.48" fill="#472878" shape-rendering="crispEdges"/>
<rect x="662.30" y="491.32" width="7.40" height="16.48" fill="#3E4C8A" shape-rendering="crispEdges"/>
<rect x="669.70" y="491.32" width="14.80" height="16.48" fill="#440154" shape-rendering="crispEdges"/>
<rect x="610.50" y="507.80" width="14.80" height="16.48" fill="#3E4C8A" shape-rendering="crispEdges"/>
<rect x="625.30" y="507.80" width="7.40" height="16.48" fill="#472878" shape-rendering="crispEdges"/>
<rect x="632.70" y="507.80" width="7.40" height="16.48" fill="#440154" shape-rendering="crispEdges"/>
<rect x="640.10" y="507.80" width="7.40" height="16.48" fill="#472878" shape-rendering="crispEdges"/>
<rect x="647.50" y="507.80" width="7.40" height="16.48" fill="#30698E" shape-rendering="crispEdges"/>
<rect x="654.90" y="507.80" width="7.40" height="16.48" fill="#3E4C8A" shape-rendering="crispEdges"/>
<rect x="662.30" y="507.80" width="7.40" height="16.48" fill="#472878" shape-rendering="crispEdges"/>
<rect x="669.70" y="507.80" width="7.40" height="16.48" fill="#440154" shape-rendering="crispEdges"/>
<rect x="677.10" y="507.80" width="7.40" height="16.48" fill="#3E4C8A" shape-rendering="crispEdges"/>
<rect x="610.50" y="524.28" width="14.80" height="16.48" fill="#3E4C8A" shape-rendering="crispEdges"/>
<rect x="625.30" y="524.28" width="14.80" height="16.48" fill="#472878" shape-rendering="crispEdges"/>
<rect x="640.10" y="524.28" width="7.40" height="16.48" fill="#3E4C8A" shape-rendering="crispEdges"/>
<rect x="647.50" y="524.28" width="7.40" height="16.48" fill="#30698E" shape-rendering="crispEdges"/>
<rect x="654.90" y="524.28" width="7.40" height="16.48" fill="#25858E" shape-rendering="crispEdges"/>
<rect x="662.30" y="524.28" width="7.40" height="16.48" fill="#472878" shape-rendering="crispEdges"/>
<rect x="669.70" y="524.28" width="14.80" height="16.48" fill="#FDE725" shape-rendering="crispEdges"/>
<rect x="610.50" y="540.76" width="7.40" height="16.48" fill="#3E4C8A" shape-rendering="crispEdges"/>
<rect x="617.90" y="540.76" width="44.40" height="16.48" fill="#472878" shape-rendering="crispEdges"/>
<rect x="662.30" y="540.76" width="7.40" height="16.48" fill="#440154" shape-rendering="crispEdges"/>
<rect x="669.70" y="540.76" width="7.40" height="16.48" fill="#1FA188" shape-rendering="crispEdges"/>
<rect x="677.10" y="540.76" width="7.40" height="16.48" fill="#97D83F" shape-rendering="crispEdges"/>
<rect x="610.50" y="557.24" width="7.40" height="16.48" fill="#3E4C8A" shape-rendering="crispEdges"/>
<rect x="617.90" y="557.24" width="14.80" height="16.48" fill="#472878" shape-rendering="crispEdges"/>
<rect x="632.70" y="557.24" width="7.40" height="16.48" fill="#440154" shape-rendering="crispEdges"/>
<rect x="640.10" y="557.24" width="14.80" height="16.48" fill="#472878" shape-rendering="crispEdges"/>
<rect x="654.90" y="557.24" width="14.80" height="16.48" fill="#3E4C8A" shape-rendering="crispEdges"/>
<rect x="669.70" y="557.24" width="7.40" height="16.48" fill="#FDE725" shape-rendering="crispEdges"/>
<rect x="677.10" y="557.24" width="7.40" height="16.48" fill="#25858E" shape-rendering="crispEdges"/>
<rect x="610.50" y="343.00" width="74.00" height="230.72" fill="none" stroke="#000" stroke-width="1.0"/>
<rect x="609.35" y="341.85" width="45.55" height="83.55" fill="none" stroke="#fff" stroke-width="3.0"/>
<rect x="654.90" y="425.40" width="14.80" height="98.88" fill="none" stroke="#fff" stroke-width="3.0"/>
<rect x="669.70" y="524.28" width="15.95" height="50.59" fill="none" stroke="#fff" stroke-width="3.0"/>
<rect x="323.50" y="346.10" width="8.60" height="82.25" fill="#D93A30" shape-rendering="crispEdges"/>
<rect x="323.50" y="428.35" width="8.60" height="98.70" fill="#F8D84A" shape-rendering="crispEdges"/>
<rect x="323.50" y="527.05" width="8.60" height="49.35" fill="#6DB665" shape-rendering="crispEdges"/>
<rect x="323.50" y="346.10" width="8.60" height="230.30" fill="none" stroke="#111" stroke-width="1.1"/>
<rect x="333.20" y="346.10" width="8.70" height="16.45" fill="#E6AB02" shape-rendering="crispEdges"/>
<rect x="333.20" y="362.55" width="8.70" height="16.45" fill="#E7298A" shape-rendering="crispEdges"/>
<rect x="333.20" y="379.00" width="8.70" height="16.45" fill="#7570B3" shape-rendering="crispEdges"/>
<rect x="333.20" y="395.45" width="8.70" height="32.90" fill="#D95F02" shape-rendering="crispEdges"/>
<rect x="333.20" y="428.35" width="8.70" height="16.45" fill="#E6AB02" shape-rendering="crispEdges"/>
<rect x="333.20" y="444.80" width="8.70" height="32.90" fill="#E7298A" shape-rendering="crispEdges"/>
<rect x="333.20" y="477.70" width="8.70" height="16.45" fill="#7570B3" shape-rendering="crispEdges"/>
<rect x="333.20" y="494.15" width="8.70" height="16.45" fill="#D95F02" shape-rendering="crispEdges"/>
<rect x="333.20" y="510.60" width="8.70" height="16.45" fill="#1B9E77" shape-rendering="crispEdges"/>
<rect x="333.20" y="527.05" width="8.70" height="16.45" fill="#E7298A" shape-rendering="crispEdges"/>
<rect x="333.20" y="543.50" width="8.70" height="16.45" fill="#D95F02" shape-rendering="crispEdges"/>
<rect x="333.20" y="559.95" width="8.70" height="16.45" fill="#1B9E77" shape-rendering="crispEdges"/>
<rect x="333.20" y="346.10" width="8.70" height="230.30" fill="none" stroke="#111" stroke-width="1.1"/>
<rect x="342.80" y="346.10" width="8.30" height="16.45" fill="#E8187C" shape-rendering="crispEdges"/>
<rect x="342.80" y="362.55" width="8.30" height="16.45" fill="#5AAF4E" shape-rendering="crispEdges"/>
<rect x="342.80" y="379.00" width="8.30" height="16.45" fill="#3AA0C6" shape-rendering="crispEdges"/>
<rect x="342.80" y="395.45" width="8.30" height="16.45" fill="#5AAF4E" shape-rendering="crispEdges"/>
<rect x="342.80" y="411.90" width="8.30" height="16.45" fill="#8452A8" shape-rendering="crispEdges"/>
<rect x="342.80" y="428.35" width="8.30" height="16.45" fill="#3AA0C6" shape-rendering="crispEdges"/>
<rect x="342.80" y="444.80" width="8.30" height="16.45" fill="#E8187C" shape-rendering="crispEdges"/>
<rect x="342.80" y="461.25" width="8.30" height="16.45" fill="#8452A8" shape-rendering="crispEdges"/>
<rect x="342.80" y="477.70" width="8.30" height="16.45" fill="#E8187C" shape-rendering="crispEdges"/>
<rect x="342.80" y="494.15" width="8.30" height="16.45" fill="#FF7400" shape-rendering="crispEdges"/>
<rect x="342.80" y="510.60" width="8.30" height="32.90" fill="#3AA0C6" shape-rendering="crispEdges"/>
<rect x="342.80" y="543.50" width="8.30" height="16.45" fill="#FFC40C" shape-rendering="crispEdges"/>
<rect x="342.80" y="559.95" width="8.30" height="16.45" fill="#E8187C" shape-rendering="crispEdges"/>
<rect x="342.80" y="346.10" width="8.30" height="230.30" fill="none" stroke="#111" stroke-width="1.1"/>
<text x="328.40" y="387.12" font-size="11" text-anchor="middle" font-weight="bold" fill="#000" transform="matrix(1,0,0,1.08,0,-30.970)" >1</text>
<text x="328.40" y="478.60" font-size="11" text-anchor="middle" font-weight="bold" fill="#000" transform="matrix(1,0,0,1.08,0,-38.288)" >2</text>
<text x="328.40" y="553.93" font-size="11" text-anchor="middle" font-weight="bold" fill="#000" transform="matrix(1,0,0,1.08,0,-44.314)" >3</text>
<text x="330.00" y="582.00" font-size="10" text-anchor="end" transform="rotate(-50 330.00 582.00)">Ecotype</text>
<text x="342.70" y="582.00" font-size="10" text-anchor="end" transform="rotate(-50 342.70 582.00)">CellType</text>
<text x="353.00" y="582.30" font-size="10" text-anchor="end" transform="rotate(-50 353.00 582.30)">State</text>
<text x="491.40" y="593.80" font-size="9.65" text-anchor="start" font-weight="normal" fill="#000" transform="matrix(1,0,0,1.08,0,-47.504)" >State abundance</text>
<text x="575.20" y="594.00" font-size="9.6" text-anchor="start" font-weight="normal" fill="#000" transform="matrix(1,0,0,1.08,0,-47.520)" >0</text>
<linearGradient id="vg2" x1="0" x2="1" y1="0" y2="0"><stop offset="0" stop-color="#440154"/><stop offset="0.1" stop-color="#482475"/><stop offset="0.2" stop-color="#3E4A89"/><stop offset="0.3" stop-color="#31688E"/><stop offset="0.4" stop-color="#26828E"/><stop offset="0.5" stop-color="#1FA088"/><stop offset="0.6" stop-color="#4AC16D"/><stop offset="0.7" stop-color="#9FDA3A"/><stop offset="0.8" stop-color="#FDE725"/><stop offset="1" stop-color="#FDE725"/></linearGradient>
<rect x="582.0" y="587.0" width="78.10000000000002" height="8.899999999999977" fill="url(#vg2)"/>
<line x1="583.90" y1="587.0" x2="583.90" y2="589.2" stroke="#fff" stroke-width="1.0"/>
<line x1="583.90" y1="593.6999999999999" x2="583.90" y2="595.9" stroke="#fff" stroke-width="1.0"/>
<line x1="598.76" y1="587.0" x2="598.76" y2="589.2" stroke="#fff" stroke-width="1.0"/>
<line x1="598.76" y1="593.6999999999999" x2="598.76" y2="595.9" stroke="#fff" stroke-width="1.0"/>
<line x1="613.62" y1="587.0" x2="613.62" y2="589.2" stroke="#fff" stroke-width="1.0"/>
<line x1="613.62" y1="593.6999999999999" x2="613.62" y2="595.9" stroke="#fff" stroke-width="1.0"/>
<line x1="628.48" y1="587.0" x2="628.48" y2="589.2" stroke="#fff" stroke-width="1.0"/>
<line x1="628.48" y1="593.6999999999999" x2="628.48" y2="595.9" stroke="#fff" stroke-width="1.0"/>
<line x1="643.34" y1="587.0" x2="643.34" y2="589.2" stroke="#fff" stroke-width="1.0"/>
<line x1="643.34" y1="593.6999999999999" x2="643.34" y2="595.9" stroke="#fff" stroke-width="1.0"/>
<line x1="658.20" y1="587.0" x2="658.20" y2="589.2" stroke="#fff" stroke-width="1.0"/>
<line x1="658.20" y1="593.6999999999999" x2="658.20" y2="595.9" stroke="#fff" stroke-width="1.0"/>
<text x="662.60" y="594.00" font-size="9.6" text-anchor="start" font-weight="normal" fill="#000" transform="matrix(1,0,0,1.08,0,-47.520)" >0.5</text>
<text x="82.30" y="624.00" font-size="12.3" text-anchor="start" font-weight="normal" fill="#000" transform="matrix(1,0,0,1.08,0,-49.920)" >Response</text>
<rect x="82.90" y="629.20" width="6.60" height="6.60" fill="#D93A30" />
<text x="92.40" y="635.60" font-size="9.8" text-anchor="start" font-weight="normal" fill="#000" transform="matrix(1,0,0,1.08,0,-50.848)" >NR</text>
<rect x="107.40" y="629.20" width="6.60" height="6.60" fill="#F8D84A" />
<text x="116.50" y="635.60" font-size="9.8" text-anchor="start" font-weight="normal" fill="#000" transform="matrix(1,0,0,1.08,0,-50.848)" >R</text>
<text x="156.30" y="624.50" font-size="9.6" text-anchor="start" font-weight="normal" fill="#000" transform="matrix(1,0,0,1.08,0,-49.960)" >CellType</text>
<rect x="157.20" y="629.70" width="6.60" height="6.60" fill="#7570B3" />
<text x="166.80" y="636.30" font-size="9.8" text-anchor="start" font-weight="normal" fill="#000" transform="matrix(1,0,0,1.08,0,-50.904)" >NK.cells</text>
<rect x="157.20" y="637.80" width="6.60" height="6.60" fill="#D95F02" />
<text x="166.80" y="644.40" font-size="9.8" text-anchor="start" font-weight="normal" fill="#000" transform="matrix(1,0,0,1.08,0,-51.552)" >B.cells</text>
<rect x="157.20" y="645.90" width="6.60" height="6.60" fill="#1B9E77" />
<text x="166.80" y="652.50" font-size="9.8" text-anchor="start" font-weight="normal" fill="#000" transform="matrix(1,0,0,1.08,0,-52.200)" >T.cells.CD8</text>
<rect x="157.20" y="654.00" width="6.60" height="6.60" fill="#E6AB02" />
<text x="166.80" y="660.60" font-size="9.8" text-anchor="start" font-weight="normal" fill="#000" transform="matrix(1,0,0,1.08,0,-52.848)" >T.cells.CD4</text>
<rect x="157.20" y="662.10" width="6.60" height="6.60" fill="#E7298A" />
<text x="166.80" y="668.70" font-size="9.8" text-anchor="start" font-weight="normal" fill="#000" transform="matrix(1,0,0,1.08,0,-53.496)" >Macrophage</text>
<text x="244.50" y="624.20" font-size="9.6" text-anchor="start" font-weight="normal" fill="#000" transform="matrix(1,0,0,1.08,0,-49.936)" >State</text>
<rect x="245.10" y="626.80" width="7.00" height="6.70" fill="#E8187C" />
<text x="254.90" y="633.50" font-size="9.6" text-anchor="start" font-weight="normal" fill="#000" transform="matrix(1,0,0,1.08,0,-50.680)" >S01</text>
<rect x="245.10" y="634.82" width="7.00" height="6.70" fill="#3AA0C6" />
<text x="254.90" y="641.52" font-size="9.6" text-anchor="start" font-weight="normal" fill="#000" transform="matrix(1,0,0,1.08,0,-51.322)" >S02</text>
<rect x="245.10" y="642.84" width="7.00" height="6.70" fill="#5AAF4E" />
<text x="254.90" y="649.54" font-size="9.6" text-anchor="start" font-weight="normal" fill="#000" transform="matrix(1,0,0,1.08,0,-51.963)" >S03</text>
<rect x="245.10" y="650.86" width="7.00" height="6.70" fill="#8452A8" />
<text x="254.90" y="657.56" font-size="9.6" text-anchor="start" font-weight="normal" fill="#000" transform="matrix(1,0,0,1.08,0,-52.605)" >S04</text>
<rect x="245.10" y="658.88" width="7.00" height="6.70" fill="#FF7400" />
<text x="254.90" y="665.58" font-size="9.6" text-anchor="start" font-weight="normal" fill="#000" transform="matrix(1,0,0,1.08,0,-53.246)" >S06</text>
<rect x="245.10" y="666.90" width="7.00" height="6.70" fill="#FFC40C" />
<text x="254.90" y="673.60" font-size="9.6" text-anchor="start" font-weight="normal" fill="#000" transform="matrix(1,0,0,1.08,0,-53.888)" >S07</text>
<text x="349.20" y="623.10" font-size="12.3" text-anchor="start" font-weight="normal" fill="#000" transform="matrix(1,0,0,1.08,0,-49.848)" >Response</text>
<rect x="349.80" y="628.30" width="6.60" height="6.60" fill="#D93A30" />
<text x="359.30" y="634.70" font-size="9.8" text-anchor="start" font-weight="normal" fill="#000" transform="matrix(1,0,0,1.08,0,-50.776)" >NR</text>
<rect x="374.30" y="628.30" width="6.60" height="6.60" fill="#F8D84A" />
<text x="383.40" y="634.70" font-size="9.8" text-anchor="start" font-weight="normal" fill="#000" transform="matrix(1,0,0,1.08,0,-50.776)" >R</text>
<rect x="349.80" y="636.70" width="6.60" height="6.60" fill="#6DB665" />
<text x="359.30" y="643.10" font-size="9.8" text-anchor="start" font-weight="normal" fill="#000" transform="matrix(1,0,0,1.08,0,-51.448)" >TN(Treatment-naive)</text>
<text x="463.80" y="622.00" font-size="9.6" text-anchor="start" font-weight="normal" fill="#000" transform="matrix(1,0,0,1.08,0,-49.760)" >CellType</text>
<rect x="464.70" y="627.20" width="6.60" height="6.60" fill="#7570B3" />
<text x="474.30" y="633.80" font-size="9.8" text-anchor="start" font-weight="normal" fill="#000" transform="matrix(1,0,0,1.08,0,-50.704)" >NK.cells</text>
<rect x="464.70" y="635.45" width="6.60" height="6.60" fill="#D95F02" />
<text x="474.30" y="642.05" font-size="9.8" text-anchor="start" font-weight="normal" fill="#000" transform="matrix(1,0,0,1.08,0,-51.364)" >B.cells</text>
<rect x="464.70" y="643.70" width="6.60" height="6.60" fill="#1B9E77" />
<text x="474.30" y="650.30" font-size="9.8" text-anchor="start" font-weight="normal" fill="#000" transform="matrix(1,0,0,1.08,0,-52.024)" >T.cells.CD8</text>
<rect x="464.70" y="651.95" width="6.60" height="6.60" fill="#E6AB02" />
<text x="474.30" y="658.55" font-size="9.8" text-anchor="start" font-weight="normal" fill="#000" transform="matrix(1,0,0,1.08,0,-52.684)" >T.cells.CD4</text>
<rect x="464.70" y="660.20" width="6.60" height="6.60" fill="#E7298A" />
<text x="474.30" y="666.80" font-size="9.8" text-anchor="start" font-weight="normal" fill="#000" transform="matrix(1,0,0,1.08,0,-53.344)" >Macrophage</text>
<text x="560.40" y="620.40" font-size="9.6" text-anchor="start" font-weight="normal" fill="#000" transform="matrix(1,0,0,1.08,0,-49.632)" >State</text>
<rect x="561.00" y="623.20" width="7.00" height="6.70" fill="#E8187C" />
<text x="570.80" y="629.90" font-size="9.6" text-anchor="start" font-weight="normal" fill="#000" transform="matrix(1,0,0,1.08,0,-50.392)" >S01</text>
<rect x="561.00" y="631.18" width="7.00" height="6.70" fill="#3AA0C6" />
<text x="570.80" y="637.88" font-size="9.6" text-anchor="start" font-weight="normal" fill="#000" transform="matrix(1,0,0,1.08,0,-51.030)" >S02</text>
<rect x="561.00" y="639.16" width="7.00" height="6.70" fill="#5AAF4E" />
<text x="570.80" y="645.86" font-size="9.6" text-anchor="start" font-weight="normal" fill="#000" transform="matrix(1,0,0,1.08,0,-51.669)" >S03</text>
<rect x="561.00" y="647.14" width="7.00" height="6.70" fill="#8452A8" />
<text x="570.80" y="653.84" font-size="9.6" text-anchor="start" font-weight="normal" fill="#000" transform="matrix(1,0,0,1.08,0,-52.307)" >S04</text>
<rect x="561.00" y="655.12" width="7.00" height="6.70" fill="#FF7400" />
<text x="570.80" y="661.82" font-size="9.6" text-anchor="start" font-weight="normal" fill="#000" transform="matrix(1,0,0,1.08,0,-52.946)" >S06</text>
<rect x="561.00" y="663.10" width="7.00" height="6.70" fill="#FFC40C" />
<text x="570.80" y="669.80" font-size="9.6" text-anchor="start" font-weight="normal" fill="#000" transform="matrix(1,0,0,1.08,0,-53.584)" >S07</text>
</svg></body></html>
